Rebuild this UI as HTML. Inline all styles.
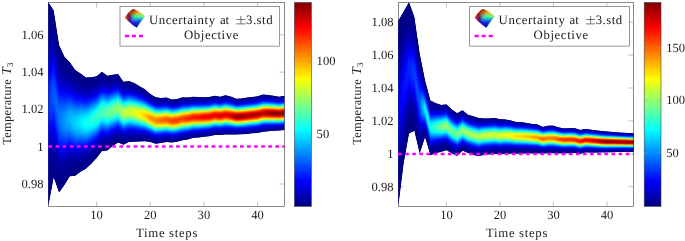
<!DOCTYPE html><html><head><meta charset="utf-8"><style>html,body{margin:0;padding:0;background:#fff}svg{display:block;will-change:transform}</style></head><body><svg width="685" height="241" viewBox="0 0 685 241" font-family="'Liberation Serif',serif" font-size="12.6" fill="#1a1a1a" text-rendering="geometricPrecision"><defs><linearGradient id="g23" x1="0" y1=".5" x2="0" y2="1" spreadMethod="reflect"><stop offset="0" stop-color="#0000f5"/><stop offset="0.0769" stop-color="#0000f2"/><stop offset="0.154" stop-color="#0000e9"/><stop offset="0.231" stop-color="#0000dc"/><stop offset="0.308" stop-color="#0000cc"/><stop offset="0.385" stop-color="#0000bc"/><stop offset="0.462" stop-color="#0000ad"/><stop offset="0.538" stop-color="#0000a0"/><stop offset="0.615" stop-color="#000095"/><stop offset="0.692" stop-color="#00008e"/><stop offset="0.769" stop-color="#000088"/><stop offset="0.846" stop-color="#000085"/><stop offset="0.923" stop-color="#000083"/><stop offset="1" stop-color="#000081"/></linearGradient><linearGradient id="g24" x1="0" y1=".5" x2="0" y2="1" spreadMethod="reflect"><stop offset="0" stop-color="#0000fa"/><stop offset="0.0769" stop-color="#0000f7"/><stop offset="0.154" stop-color="#0000ee"/><stop offset="0.231" stop-color="#0000e0"/><stop offset="0.308" stop-color="#0000d0"/><stop offset="0.385" stop-color="#0000bf"/><stop offset="0.462" stop-color="#0000af"/><stop offset="0.538" stop-color="#0000a1"/><stop offset="0.615" stop-color="#000096"/><stop offset="0.692" stop-color="#00008e"/><stop offset="0.769" stop-color="#000089"/><stop offset="0.846" stop-color="#000085"/><stop offset="0.923" stop-color="#000083"/><stop offset="1" stop-color="#000081"/></linearGradient><linearGradient id="g25" x1="0" y1=".5" x2="0" y2="1" spreadMethod="reflect"><stop offset="0" stop-color="#0000ff"/><stop offset="0.0769" stop-color="#0000fc"/><stop offset="0.154" stop-color="#0000f2"/><stop offset="0.231" stop-color="#0000e4"/><stop offset="0.308" stop-color="#0000d3"/><stop offset="0.385" stop-color="#0000c1"/><stop offset="0.462" stop-color="#0000b1"/><stop offset="0.538" stop-color="#0000a2"/><stop offset="0.615" stop-color="#000097"/><stop offset="0.692" stop-color="#00008f"/><stop offset="0.769" stop-color="#000089"/><stop offset="0.846" stop-color="#000085"/><stop offset="0.923" stop-color="#000083"/><stop offset="1" stop-color="#000081"/></linearGradient><linearGradient id="g26" x1="0" y1=".5" x2="0" y2="1" spreadMethod="reflect"><stop offset="0" stop-color="#0005ff"/><stop offset="0.0769" stop-color="#0002ff"/><stop offset="0.154" stop-color="#0000f7"/><stop offset="0.231" stop-color="#0000e8"/><stop offset="0.308" stop-color="#0000d6"/><stop offset="0.385" stop-color="#0000c4"/><stop offset="0.462" stop-color="#0000b3"/><stop offset="0.538" stop-color="#0000a4"/><stop offset="0.615" stop-color="#000098"/><stop offset="0.692" stop-color="#00008f"/><stop offset="0.769" stop-color="#000089"/><stop offset="0.846" stop-color="#000085"/><stop offset="0.923" stop-color="#000083"/><stop offset="1" stop-color="#000081"/></linearGradient><linearGradient id="g27" x1="0" y1=".5" x2="0" y2="1" spreadMethod="reflect"><stop offset="0" stop-color="#000aff"/><stop offset="0.0769" stop-color="#0007ff"/><stop offset="0.154" stop-color="#0000fb"/><stop offset="0.231" stop-color="#0000ec"/><stop offset="0.308" stop-color="#0000da"/><stop offset="0.385" stop-color="#0000c6"/><stop offset="0.462" stop-color="#0000b5"/><stop offset="0.538" stop-color="#0000a5"/><stop offset="0.615" stop-color="#000099"/><stop offset="0.692" stop-color="#000090"/><stop offset="0.769" stop-color="#00008a"/><stop offset="0.846" stop-color="#000085"/><stop offset="0.923" stop-color="#000083"/><stop offset="1" stop-color="#000082"/></linearGradient><linearGradient id="g28" x1="0" y1=".5" x2="0" y2="1" spreadMethod="reflect"><stop offset="0" stop-color="#000fff"/><stop offset="0.0769" stop-color="#000cff"/><stop offset="0.154" stop-color="#0001ff"/><stop offset="0.231" stop-color="#0000f0"/><stop offset="0.308" stop-color="#0000dd"/><stop offset="0.385" stop-color="#0000c9"/><stop offset="0.462" stop-color="#0000b7"/><stop offset="0.538" stop-color="#0000a7"/><stop offset="0.615" stop-color="#00009a"/><stop offset="0.692" stop-color="#000090"/><stop offset="0.769" stop-color="#00008a"/><stop offset="0.846" stop-color="#000086"/><stop offset="0.923" stop-color="#000083"/><stop offset="1" stop-color="#000082"/></linearGradient><linearGradient id="g29" x1="0" y1=".5" x2="0" y2="1" spreadMethod="reflect"><stop offset="0" stop-color="#0014ff"/><stop offset="0.0769" stop-color="#0011ff"/><stop offset="0.154" stop-color="#0005ff"/><stop offset="0.231" stop-color="#0000f4"/><stop offset="0.308" stop-color="#0000e0"/><stop offset="0.385" stop-color="#0000cc"/><stop offset="0.462" stop-color="#0000b8"/><stop offset="0.538" stop-color="#0000a8"/><stop offset="0.615" stop-color="#00009b"/><stop offset="0.692" stop-color="#000091"/><stop offset="0.769" stop-color="#00008a"/><stop offset="0.846" stop-color="#000086"/><stop offset="0.923" stop-color="#000083"/><stop offset="1" stop-color="#000082"/></linearGradient><linearGradient id="g30" x1="0" y1=".5" x2="0" y2="1" spreadMethod="reflect"><stop offset="0" stop-color="#0019ff"/><stop offset="0.0769" stop-color="#0015ff"/><stop offset="0.154" stop-color="#000aff"/><stop offset="0.231" stop-color="#0000f8"/><stop offset="0.308" stop-color="#0000e4"/><stop offset="0.385" stop-color="#0000ce"/><stop offset="0.462" stop-color="#0000ba"/><stop offset="0.538" stop-color="#0000a9"/><stop offset="0.615" stop-color="#00009c"/><stop offset="0.692" stop-color="#000092"/><stop offset="0.769" stop-color="#00008b"/><stop offset="0.846" stop-color="#000086"/><stop offset="0.923" stop-color="#000083"/><stop offset="1" stop-color="#000082"/></linearGradient><linearGradient id="g31" x1="0" y1=".5" x2="0" y2="1" spreadMethod="reflect"><stop offset="0" stop-color="#001fff"/><stop offset="0.0769" stop-color="#001aff"/><stop offset="0.154" stop-color="#000fff"/><stop offset="0.231" stop-color="#0000fc"/><stop offset="0.308" stop-color="#0000e7"/><stop offset="0.385" stop-color="#0000d1"/><stop offset="0.462" stop-color="#0000bc"/><stop offset="0.538" stop-color="#0000ab"/><stop offset="0.615" stop-color="#00009d"/><stop offset="0.692" stop-color="#000092"/><stop offset="0.769" stop-color="#00008b"/><stop offset="0.846" stop-color="#000086"/><stop offset="0.923" stop-color="#000083"/><stop offset="1" stop-color="#000082"/></linearGradient><linearGradient id="g32" x1="0" y1=".5" x2="0" y2="1" spreadMethod="reflect"><stop offset="0" stop-color="#0024ff"/><stop offset="0.0769" stop-color="#001fff"/><stop offset="0.154" stop-color="#0013ff"/><stop offset="0.231" stop-color="#0001ff"/><stop offset="0.308" stop-color="#0000ea"/><stop offset="0.385" stop-color="#0000d4"/><stop offset="0.462" stop-color="#0000be"/><stop offset="0.538" stop-color="#0000ac"/><stop offset="0.615" stop-color="#00009e"/><stop offset="0.692" stop-color="#000093"/><stop offset="0.769" stop-color="#00008b"/><stop offset="0.846" stop-color="#000086"/><stop offset="0.923" stop-color="#000084"/><stop offset="1" stop-color="#000082"/></linearGradient><linearGradient id="g33" x1="0" y1=".5" x2="0" y2="1" spreadMethod="reflect"><stop offset="0" stop-color="#0029ff"/><stop offset="0.0769" stop-color="#0024ff"/><stop offset="0.154" stop-color="#0018ff"/><stop offset="0.231" stop-color="#0005ff"/><stop offset="0.308" stop-color="#0000ed"/><stop offset="0.385" stop-color="#0000d6"/><stop offset="0.462" stop-color="#0000c0"/><stop offset="0.538" stop-color="#0000ad"/><stop offset="0.615" stop-color="#00009e"/><stop offset="0.692" stop-color="#000093"/><stop offset="0.769" stop-color="#00008c"/><stop offset="0.846" stop-color="#000087"/><stop offset="0.923" stop-color="#000084"/><stop offset="1" stop-color="#000082"/></linearGradient><linearGradient id="g34" x1="0" y1=".5" x2="0" y2="1" spreadMethod="reflect"><stop offset="0" stop-color="#002eff"/><stop offset="0.0769" stop-color="#0029ff"/><stop offset="0.154" stop-color="#001cff"/><stop offset="0.231" stop-color="#0009ff"/><stop offset="0.308" stop-color="#0000f1"/><stop offset="0.385" stop-color="#0000d9"/><stop offset="0.462" stop-color="#0000c2"/><stop offset="0.538" stop-color="#0000af"/><stop offset="0.615" stop-color="#00009f"/><stop offset="0.692" stop-color="#000094"/><stop offset="0.769" stop-color="#00008c"/><stop offset="0.846" stop-color="#000087"/><stop offset="0.923" stop-color="#000084"/><stop offset="1" stop-color="#000082"/></linearGradient><linearGradient id="g35" x1="0" y1=".5" x2="0" y2="1" spreadMethod="reflect"><stop offset="0" stop-color="#0033ff"/><stop offset="0.0769" stop-color="#002eff"/><stop offset="0.154" stop-color="#0021ff"/><stop offset="0.231" stop-color="#000dff"/><stop offset="0.308" stop-color="#0000f4"/><stop offset="0.385" stop-color="#0000db"/><stop offset="0.462" stop-color="#0000c4"/><stop offset="0.538" stop-color="#0000b0"/><stop offset="0.615" stop-color="#0000a0"/><stop offset="0.692" stop-color="#000095"/><stop offset="0.769" stop-color="#00008c"/><stop offset="0.846" stop-color="#000087"/><stop offset="0.923" stop-color="#000084"/><stop offset="1" stop-color="#000082"/></linearGradient><linearGradient id="g36" x1="0" y1=".5" x2="0" y2="1" spreadMethod="reflect"><stop offset="0" stop-color="#0038ff"/><stop offset="0.0769" stop-color="#0033ff"/><stop offset="0.154" stop-color="#0026ff"/><stop offset="0.231" stop-color="#0011ff"/><stop offset="0.308" stop-color="#0000f7"/><stop offset="0.385" stop-color="#0000de"/><stop offset="0.462" stop-color="#0000c6"/><stop offset="0.538" stop-color="#0000b2"/><stop offset="0.615" stop-color="#0000a1"/><stop offset="0.692" stop-color="#000095"/><stop offset="0.769" stop-color="#00008d"/><stop offset="0.846" stop-color="#000087"/><stop offset="0.923" stop-color="#000084"/><stop offset="1" stop-color="#000082"/></linearGradient><linearGradient id="g37" x1="0" y1=".5" x2="0" y2="1" spreadMethod="reflect"><stop offset="0" stop-color="#003dff"/><stop offset="0.0769" stop-color="#0038ff"/><stop offset="0.154" stop-color="#002aff"/><stop offset="0.231" stop-color="#0015ff"/><stop offset="0.308" stop-color="#0000fb"/><stop offset="0.385" stop-color="#0000e1"/><stop offset="0.462" stop-color="#0000c8"/><stop offset="0.538" stop-color="#0000b3"/><stop offset="0.615" stop-color="#0000a2"/><stop offset="0.692" stop-color="#000096"/><stop offset="0.769" stop-color="#00008d"/><stop offset="0.846" stop-color="#000087"/><stop offset="0.923" stop-color="#000084"/><stop offset="1" stop-color="#000082"/></linearGradient><linearGradient id="g38" x1="0" y1=".5" x2="0" y2="1" spreadMethod="reflect"><stop offset="0" stop-color="#0042ff"/><stop offset="0.0769" stop-color="#003dff"/><stop offset="0.154" stop-color="#002fff"/><stop offset="0.231" stop-color="#0019ff"/><stop offset="0.308" stop-color="#0000fe"/><stop offset="0.385" stop-color="#0000e3"/><stop offset="0.462" stop-color="#0000ca"/><stop offset="0.538" stop-color="#0000b4"/><stop offset="0.615" stop-color="#0000a3"/><stop offset="0.692" stop-color="#000096"/><stop offset="0.769" stop-color="#00008d"/><stop offset="0.846" stop-color="#000088"/><stop offset="0.923" stop-color="#000084"/><stop offset="1" stop-color="#000082"/></linearGradient><linearGradient id="g39" x1="0" y1=".5" x2="0" y2="1" spreadMethod="reflect"><stop offset="0" stop-color="#0047ff"/><stop offset="0.0769" stop-color="#0042ff"/><stop offset="0.154" stop-color="#0033ff"/><stop offset="0.231" stop-color="#001dff"/><stop offset="0.308" stop-color="#0002ff"/><stop offset="0.385" stop-color="#0000e6"/><stop offset="0.462" stop-color="#0000cc"/><stop offset="0.538" stop-color="#0000b6"/><stop offset="0.615" stop-color="#0000a4"/><stop offset="0.692" stop-color="#000097"/><stop offset="0.769" stop-color="#00008e"/><stop offset="0.846" stop-color="#000088"/><stop offset="0.923" stop-color="#000084"/><stop offset="1" stop-color="#000082"/></linearGradient><linearGradient id="g40" x1="0" y1=".5" x2="0" y2="1" spreadMethod="reflect"><stop offset="0" stop-color="#004dff"/><stop offset="0.0769" stop-color="#0047ff"/><stop offset="0.154" stop-color="#0038ff"/><stop offset="0.231" stop-color="#0021ff"/><stop offset="0.308" stop-color="#0006ff"/><stop offset="0.385" stop-color="#0000e8"/><stop offset="0.462" stop-color="#0000ce"/><stop offset="0.538" stop-color="#0000b7"/><stop offset="0.615" stop-color="#0000a5"/><stop offset="0.692" stop-color="#000098"/><stop offset="0.769" stop-color="#00008e"/><stop offset="0.846" stop-color="#000088"/><stop offset="0.923" stop-color="#000084"/><stop offset="1" stop-color="#000082"/></linearGradient><linearGradient id="g41" x1="0" y1=".5" x2="0" y2="1" spreadMethod="reflect"><stop offset="0" stop-color="#0052ff"/><stop offset="0.0769" stop-color="#004cff"/><stop offset="0.154" stop-color="#003cff"/><stop offset="0.231" stop-color="#0025ff"/><stop offset="0.308" stop-color="#0009ff"/><stop offset="0.385" stop-color="#0000eb"/><stop offset="0.462" stop-color="#0000d0"/><stop offset="0.538" stop-color="#0000b8"/><stop offset="0.615" stop-color="#0000a6"/><stop offset="0.692" stop-color="#000098"/><stop offset="0.769" stop-color="#00008f"/><stop offset="0.846" stop-color="#000088"/><stop offset="0.923" stop-color="#000085"/><stop offset="1" stop-color="#000082"/></linearGradient><linearGradient id="g42" x1="0" y1=".5" x2="0" y2="1" spreadMethod="reflect"><stop offset="0" stop-color="#0057ff"/><stop offset="0.0769" stop-color="#0051ff"/><stop offset="0.154" stop-color="#0041ff"/><stop offset="0.231" stop-color="#0029ff"/><stop offset="0.308" stop-color="#000cff"/><stop offset="0.385" stop-color="#0000ee"/><stop offset="0.462" stop-color="#0000d2"/><stop offset="0.538" stop-color="#0000ba"/><stop offset="0.615" stop-color="#0000a7"/><stop offset="0.692" stop-color="#000099"/><stop offset="0.769" stop-color="#00008f"/><stop offset="0.846" stop-color="#000089"/><stop offset="0.923" stop-color="#000085"/><stop offset="1" stop-color="#000082"/></linearGradient><linearGradient id="g43" x1="0" y1=".5" x2="0" y2="1" spreadMethod="reflect"><stop offset="0" stop-color="#005cff"/><stop offset="0.0769" stop-color="#0056ff"/><stop offset="0.154" stop-color="#0046ff"/><stop offset="0.231" stop-color="#002dff"/><stop offset="0.308" stop-color="#0010ff"/><stop offset="0.385" stop-color="#0000f0"/><stop offset="0.462" stop-color="#0000d4"/><stop offset="0.538" stop-color="#0000bb"/><stop offset="0.615" stop-color="#0000a8"/><stop offset="0.692" stop-color="#000099"/><stop offset="0.769" stop-color="#00008f"/><stop offset="0.846" stop-color="#000089"/><stop offset="0.923" stop-color="#000085"/><stop offset="1" stop-color="#000082"/></linearGradient><linearGradient id="g44" x1="0" y1=".5" x2="0" y2="1" spreadMethod="reflect"><stop offset="0" stop-color="#0061ff"/><stop offset="0.0769" stop-color="#005bff"/><stop offset="0.154" stop-color="#004aff"/><stop offset="0.231" stop-color="#0031ff"/><stop offset="0.308" stop-color="#0013ff"/><stop offset="0.385" stop-color="#0000f3"/><stop offset="0.462" stop-color="#0000d6"/><stop offset="0.538" stop-color="#0000bd"/><stop offset="0.615" stop-color="#0000a9"/><stop offset="0.692" stop-color="#00009a"/><stop offset="0.769" stop-color="#000090"/><stop offset="0.846" stop-color="#000089"/><stop offset="0.923" stop-color="#000085"/><stop offset="1" stop-color="#000082"/></linearGradient><linearGradient id="g45" x1="0" y1=".5" x2="0" y2="1" spreadMethod="reflect"><stop offset="0" stop-color="#0066ff"/><stop offset="0.0769" stop-color="#0060ff"/><stop offset="0.154" stop-color="#004fff"/><stop offset="0.231" stop-color="#0035ff"/><stop offset="0.308" stop-color="#0016ff"/><stop offset="0.385" stop-color="#0000f5"/><stop offset="0.462" stop-color="#0000d8"/><stop offset="0.538" stop-color="#0000be"/><stop offset="0.615" stop-color="#0000aa"/><stop offset="0.692" stop-color="#00009a"/><stop offset="0.769" stop-color="#000090"/><stop offset="0.846" stop-color="#000089"/><stop offset="0.923" stop-color="#000085"/><stop offset="1" stop-color="#000083"/></linearGradient><linearGradient id="g46" x1="0" y1=".5" x2="0" y2="1" spreadMethod="reflect"><stop offset="0" stop-color="#006bff"/><stop offset="0.0769" stop-color="#0065ff"/><stop offset="0.154" stop-color="#0053ff"/><stop offset="0.231" stop-color="#0039ff"/><stop offset="0.308" stop-color="#001aff"/><stop offset="0.385" stop-color="#0000f8"/><stop offset="0.462" stop-color="#0000da"/><stop offset="0.538" stop-color="#0000bf"/><stop offset="0.615" stop-color="#0000ab"/><stop offset="0.692" stop-color="#00009b"/><stop offset="0.769" stop-color="#000090"/><stop offset="0.846" stop-color="#000089"/><stop offset="0.923" stop-color="#000085"/><stop offset="1" stop-color="#000083"/></linearGradient><linearGradient id="g47" x1="0" y1=".5" x2="0" y2="1" spreadMethod="reflect"><stop offset="0" stop-color="#0070ff"/><stop offset="0.0769" stop-color="#006aff"/><stop offset="0.154" stop-color="#0058ff"/><stop offset="0.231" stop-color="#003dff"/><stop offset="0.308" stop-color="#001dff"/><stop offset="0.385" stop-color="#0000fb"/><stop offset="0.462" stop-color="#0000dc"/><stop offset="0.538" stop-color="#0000c1"/><stop offset="0.615" stop-color="#0000ab"/><stop offset="0.692" stop-color="#00009c"/><stop offset="0.769" stop-color="#000091"/><stop offset="0.846" stop-color="#00008a"/><stop offset="0.923" stop-color="#000085"/><stop offset="1" stop-color="#000083"/></linearGradient><linearGradient id="g48" x1="0" y1=".5" x2="0" y2="1" spreadMethod="reflect"><stop offset="0" stop-color="#0075ff"/><stop offset="0.0769" stop-color="#006fff"/><stop offset="0.154" stop-color="#005dff"/><stop offset="0.231" stop-color="#0041ff"/><stop offset="0.308" stop-color="#0020ff"/><stop offset="0.385" stop-color="#0000fd"/><stop offset="0.462" stop-color="#0000dd"/><stop offset="0.538" stop-color="#0000c2"/><stop offset="0.615" stop-color="#0000ac"/><stop offset="0.692" stop-color="#00009c"/><stop offset="0.769" stop-color="#000091"/><stop offset="0.846" stop-color="#00008a"/><stop offset="0.923" stop-color="#000085"/><stop offset="1" stop-color="#000083"/></linearGradient><linearGradient id="g50" x1="0" y1=".5" x2="0" y2="1" spreadMethod="reflect"><stop offset="0" stop-color="#0080ff"/><stop offset="0.0769" stop-color="#0079ff"/><stop offset="0.154" stop-color="#0066ff"/><stop offset="0.231" stop-color="#0049ff"/><stop offset="0.308" stop-color="#0027ff"/><stop offset="0.385" stop-color="#0004ff"/><stop offset="0.462" stop-color="#0000e1"/><stop offset="0.538" stop-color="#0000c5"/><stop offset="0.615" stop-color="#0000ae"/><stop offset="0.692" stop-color="#00009d"/><stop offset="0.769" stop-color="#000092"/><stop offset="0.846" stop-color="#00008a"/><stop offset="0.923" stop-color="#000085"/><stop offset="1" stop-color="#000083"/></linearGradient><linearGradient id="g51" x1="0" y1=".5" x2="0" y2="1" spreadMethod="reflect"><stop offset="0" stop-color="#0085ff"/><stop offset="0.0769" stop-color="#007eff"/><stop offset="0.154" stop-color="#006aff"/><stop offset="0.231" stop-color="#004dff"/><stop offset="0.308" stop-color="#002aff"/><stop offset="0.385" stop-color="#0006ff"/><stop offset="0.462" stop-color="#0000e3"/><stop offset="0.538" stop-color="#0000c6"/><stop offset="0.615" stop-color="#0000af"/><stop offset="0.692" stop-color="#00009e"/><stop offset="0.769" stop-color="#000092"/><stop offset="0.846" stop-color="#00008a"/><stop offset="0.923" stop-color="#000086"/><stop offset="1" stop-color="#000083"/></linearGradient><linearGradient id="g52" x1="0" y1=".5" x2="0" y2="1" spreadMethod="reflect"><stop offset="0" stop-color="#008aff"/><stop offset="0.0769" stop-color="#0083ff"/><stop offset="0.154" stop-color="#006fff"/><stop offset="0.231" stop-color="#0051ff"/><stop offset="0.308" stop-color="#002eff"/><stop offset="0.385" stop-color="#0009ff"/><stop offset="0.462" stop-color="#0000e5"/><stop offset="0.538" stop-color="#0000c8"/><stop offset="0.615" stop-color="#0000b0"/><stop offset="0.692" stop-color="#00009f"/><stop offset="0.769" stop-color="#000092"/><stop offset="0.846" stop-color="#00008b"/><stop offset="0.923" stop-color="#000086"/><stop offset="1" stop-color="#000083"/></linearGradient><linearGradient id="g53" x1="0" y1=".5" x2="0" y2="1" spreadMethod="reflect"><stop offset="0" stop-color="#008fff"/><stop offset="0.0769" stop-color="#0088ff"/><stop offset="0.154" stop-color="#0073ff"/><stop offset="0.231" stop-color="#0055ff"/><stop offset="0.308" stop-color="#0031ff"/><stop offset="0.385" stop-color="#000bff"/><stop offset="0.462" stop-color="#0000e7"/><stop offset="0.538" stop-color="#0000c9"/><stop offset="0.615" stop-color="#0000b1"/><stop offset="0.692" stop-color="#00009f"/><stop offset="0.769" stop-color="#000093"/><stop offset="0.846" stop-color="#00008b"/><stop offset="0.923" stop-color="#000086"/><stop offset="1" stop-color="#000083"/></linearGradient><linearGradient id="g54" x1="0" y1=".5" x2="0" y2="1" spreadMethod="reflect"><stop offset="0" stop-color="#0094ff"/><stop offset="0.0769" stop-color="#008dff"/><stop offset="0.154" stop-color="#0078ff"/><stop offset="0.231" stop-color="#0059ff"/><stop offset="0.308" stop-color="#0034ff"/><stop offset="0.385" stop-color="#000eff"/><stop offset="0.462" stop-color="#0000e9"/><stop offset="0.538" stop-color="#0000ca"/><stop offset="0.615" stop-color="#0000b2"/><stop offset="0.692" stop-color="#0000a0"/><stop offset="0.769" stop-color="#000093"/><stop offset="0.846" stop-color="#00008b"/><stop offset="0.923" stop-color="#000086"/><stop offset="1" stop-color="#000083"/></linearGradient><linearGradient id="g55" x1="0" y1=".5" x2="0" y2="1" spreadMethod="reflect"><stop offset="0" stop-color="#0099ff"/><stop offset="0.0769" stop-color="#0092ff"/><stop offset="0.154" stop-color="#007dff"/><stop offset="0.231" stop-color="#005dff"/><stop offset="0.308" stop-color="#0038ff"/><stop offset="0.385" stop-color="#0011ff"/><stop offset="0.462" stop-color="#0000eb"/><stop offset="0.538" stop-color="#0000cc"/><stop offset="0.615" stop-color="#0000b3"/><stop offset="0.692" stop-color="#0000a0"/><stop offset="0.769" stop-color="#000093"/><stop offset="0.846" stop-color="#00008b"/><stop offset="0.923" stop-color="#000086"/><stop offset="1" stop-color="#000083"/></linearGradient><linearGradient id="g56" x1="0" y1=".5" x2="0" y2="1" spreadMethod="reflect"><stop offset="0" stop-color="#009eff"/><stop offset="0.0769" stop-color="#0097ff"/><stop offset="0.154" stop-color="#0081ff"/><stop offset="0.231" stop-color="#0061ff"/><stop offset="0.308" stop-color="#003bff"/><stop offset="0.385" stop-color="#0013ff"/><stop offset="0.462" stop-color="#0000ed"/><stop offset="0.538" stop-color="#0000cd"/><stop offset="0.615" stop-color="#0000b4"/><stop offset="0.692" stop-color="#0000a1"/><stop offset="0.769" stop-color="#000094"/><stop offset="0.846" stop-color="#00008b"/><stop offset="0.923" stop-color="#000086"/><stop offset="1" stop-color="#000083"/></linearGradient><linearGradient id="g58" x1="0" y1=".5" x2="0" y2="1" spreadMethod="reflect"><stop offset="0" stop-color="#00a8ff"/><stop offset="0.0769" stop-color="#00a1ff"/><stop offset="0.154" stop-color="#008aff"/><stop offset="0.231" stop-color="#0069ff"/><stop offset="0.308" stop-color="#0042ff"/><stop offset="0.385" stop-color="#0019ff"/><stop offset="0.462" stop-color="#0000f1"/><stop offset="0.538" stop-color="#0000d0"/><stop offset="0.615" stop-color="#0000b6"/><stop offset="0.692" stop-color="#0000a2"/><stop offset="0.769" stop-color="#000095"/><stop offset="0.846" stop-color="#00008c"/><stop offset="0.923" stop-color="#000086"/><stop offset="1" stop-color="#000083"/></linearGradient><linearGradient id="g59" x1="0" y1=".5" x2="0" y2="1" spreadMethod="reflect"><stop offset="0" stop-color="#00adff"/><stop offset="0.0769" stop-color="#00a5ff"/><stop offset="0.154" stop-color="#008fff"/><stop offset="0.231" stop-color="#006dff"/><stop offset="0.308" stop-color="#0045ff"/><stop offset="0.385" stop-color="#001bff"/><stop offset="0.462" stop-color="#0000f3"/><stop offset="0.538" stop-color="#0000d1"/><stop offset="0.615" stop-color="#0000b7"/><stop offset="0.692" stop-color="#0000a3"/><stop offset="0.769" stop-color="#000095"/><stop offset="0.846" stop-color="#00008c"/><stop offset="0.923" stop-color="#000086"/><stop offset="1" stop-color="#000083"/></linearGradient><linearGradient id="g60" x1="0" y1=".5" x2="0" y2="1" spreadMethod="reflect"><stop offset="0" stop-color="#00b2ff"/><stop offset="0.0769" stop-color="#00aaff"/><stop offset="0.154" stop-color="#0094ff"/><stop offset="0.231" stop-color="#0071ff"/><stop offset="0.308" stop-color="#0048ff"/><stop offset="0.385" stop-color="#001eff"/><stop offset="0.462" stop-color="#0000f5"/><stop offset="0.538" stop-color="#0000d3"/><stop offset="0.615" stop-color="#0000b7"/><stop offset="0.692" stop-color="#0000a3"/><stop offset="0.769" stop-color="#000095"/><stop offset="0.846" stop-color="#00008c"/><stop offset="0.923" stop-color="#000087"/><stop offset="1" stop-color="#000083"/></linearGradient><linearGradient id="g61" x1="0" y1=".5" x2="0" y2="1" spreadMethod="reflect"><stop offset="0" stop-color="#00b8ff"/><stop offset="0.0769" stop-color="#00afff"/><stop offset="0.154" stop-color="#0098ff"/><stop offset="0.231" stop-color="#0075ff"/><stop offset="0.308" stop-color="#004cff"/><stop offset="0.385" stop-color="#0020ff"/><stop offset="0.462" stop-color="#0000f7"/><stop offset="0.538" stop-color="#0000d4"/><stop offset="0.615" stop-color="#0000b8"/><stop offset="0.692" stop-color="#0000a4"/><stop offset="0.769" stop-color="#000096"/><stop offset="0.846" stop-color="#00008c"/><stop offset="0.923" stop-color="#000087"/><stop offset="1" stop-color="#000083"/></linearGradient><linearGradient id="g62" x1="0" y1=".5" x2="0" y2="1" spreadMethod="reflect"><stop offset="0" stop-color="#00bdff"/><stop offset="0.0769" stop-color="#00b4ff"/><stop offset="0.154" stop-color="#009dff"/><stop offset="0.231" stop-color="#0079ff"/><stop offset="0.308" stop-color="#004fff"/><stop offset="0.385" stop-color="#0023ff"/><stop offset="0.462" stop-color="#0000f9"/><stop offset="0.538" stop-color="#0000d5"/><stop offset="0.615" stop-color="#0000b9"/><stop offset="0.692" stop-color="#0000a4"/><stop offset="0.769" stop-color="#000096"/><stop offset="0.846" stop-color="#00008d"/><stop offset="0.923" stop-color="#000087"/><stop offset="1" stop-color="#000083"/></linearGradient><linearGradient id="g63" x1="0" y1=".5" x2="0" y2="1" spreadMethod="reflect"><stop offset="0" stop-color="#00c2ff"/><stop offset="0.0769" stop-color="#00b9ff"/><stop offset="0.154" stop-color="#00a1ff"/><stop offset="0.231" stop-color="#007dff"/><stop offset="0.308" stop-color="#0052ff"/><stop offset="0.385" stop-color="#0026ff"/><stop offset="0.462" stop-color="#0000fb"/><stop offset="0.538" stop-color="#0000d7"/><stop offset="0.615" stop-color="#0000ba"/><stop offset="0.692" stop-color="#0000a5"/><stop offset="0.769" stop-color="#000096"/><stop offset="0.846" stop-color="#00008d"/><stop offset="0.923" stop-color="#000087"/><stop offset="1" stop-color="#000084"/></linearGradient><linearGradient id="g64" x1="0" y1=".5" x2="0" y2="1" spreadMethod="reflect"><stop offset="0" stop-color="#00c7ff"/><stop offset="0.0769" stop-color="#00beff"/><stop offset="0.154" stop-color="#00a6ff"/><stop offset="0.231" stop-color="#0081ff"/><stop offset="0.308" stop-color="#0056ff"/><stop offset="0.385" stop-color="#0028ff"/><stop offset="0.462" stop-color="#0000fd"/><stop offset="0.538" stop-color="#0000d8"/><stop offset="0.615" stop-color="#0000bb"/><stop offset="0.692" stop-color="#0000a6"/><stop offset="0.769" stop-color="#000097"/><stop offset="0.846" stop-color="#00008d"/><stop offset="0.923" stop-color="#000087"/><stop offset="1" stop-color="#000084"/></linearGradient><linearGradient id="g65" x1="0" y1=".5" x2="0" y2="1" spreadMethod="reflect"><stop offset="0" stop-color="#00ccff"/><stop offset="0.0769" stop-color="#00c3ff"/><stop offset="0.154" stop-color="#00abff"/><stop offset="0.231" stop-color="#0085ff"/><stop offset="0.308" stop-color="#0059ff"/><stop offset="0.385" stop-color="#002bff"/><stop offset="0.462" stop-color="#0000ff"/><stop offset="0.538" stop-color="#0000da"/><stop offset="0.615" stop-color="#0000bc"/><stop offset="0.692" stop-color="#0000a6"/><stop offset="0.769" stop-color="#000097"/><stop offset="0.846" stop-color="#00008d"/><stop offset="0.923" stop-color="#000087"/><stop offset="1" stop-color="#000084"/></linearGradient><linearGradient id="g66" x1="0" y1=".5" x2="0" y2="1" spreadMethod="reflect"><stop offset="0" stop-color="#00d1ff"/><stop offset="0.0769" stop-color="#00c8ff"/><stop offset="0.154" stop-color="#00afff"/><stop offset="0.231" stop-color="#0089ff"/><stop offset="0.308" stop-color="#005cff"/><stop offset="0.385" stop-color="#002dff"/><stop offset="0.462" stop-color="#0002ff"/><stop offset="0.538" stop-color="#0000db"/><stop offset="0.615" stop-color="#0000bd"/><stop offset="0.692" stop-color="#0000a7"/><stop offset="0.769" stop-color="#000097"/><stop offset="0.846" stop-color="#00008d"/><stop offset="0.923" stop-color="#000087"/><stop offset="1" stop-color="#000084"/></linearGradient><linearGradient id="g67" x1="0" y1=".5" x2="0" y2="1" spreadMethod="reflect"><stop offset="0" stop-color="#00d6ff"/><stop offset="0.0769" stop-color="#00cdff"/><stop offset="0.154" stop-color="#00b4ff"/><stop offset="0.231" stop-color="#008dff"/><stop offset="0.308" stop-color="#0060ff"/><stop offset="0.385" stop-color="#0030ff"/><stop offset="0.462" stop-color="#0004ff"/><stop offset="0.538" stop-color="#0000dc"/><stop offset="0.615" stop-color="#0000be"/><stop offset="0.692" stop-color="#0000a7"/><stop offset="0.769" stop-color="#000098"/><stop offset="0.846" stop-color="#00008e"/><stop offset="0.923" stop-color="#000087"/><stop offset="1" stop-color="#000084"/></linearGradient><linearGradient id="g68" x1="0" y1=".5" x2="0" y2="1" spreadMethod="reflect"><stop offset="0" stop-color="#00dbff"/><stop offset="0.0769" stop-color="#00d2ff"/><stop offset="0.154" stop-color="#00b8ff"/><stop offset="0.231" stop-color="#0091ff"/><stop offset="0.308" stop-color="#0063ff"/><stop offset="0.385" stop-color="#0033ff"/><stop offset="0.462" stop-color="#0005ff"/><stop offset="0.538" stop-color="#0000de"/><stop offset="0.615" stop-color="#0000bf"/><stop offset="0.692" stop-color="#0000a8"/><stop offset="0.769" stop-color="#000098"/><stop offset="0.846" stop-color="#00008e"/><stop offset="0.923" stop-color="#000087"/><stop offset="1" stop-color="#000084"/></linearGradient><linearGradient id="g69" x1="0" y1=".5" x2="0" y2="1" spreadMethod="reflect"><stop offset="0" stop-color="#00e0ff"/><stop offset="0.0769" stop-color="#00d7ff"/><stop offset="0.154" stop-color="#00bdff"/><stop offset="0.231" stop-color="#0095ff"/><stop offset="0.308" stop-color="#0066ff"/><stop offset="0.385" stop-color="#0035ff"/><stop offset="0.462" stop-color="#0007ff"/><stop offset="0.538" stop-color="#0000df"/><stop offset="0.615" stop-color="#0000c0"/><stop offset="0.692" stop-color="#0000a9"/><stop offset="0.769" stop-color="#000098"/><stop offset="0.846" stop-color="#00008e"/><stop offset="0.923" stop-color="#000088"/><stop offset="1" stop-color="#000084"/></linearGradient><linearGradient id="g70" x1="0" y1=".5" x2="0" y2="1" spreadMethod="reflect"><stop offset="0" stop-color="#00e5ff"/><stop offset="0.0769" stop-color="#00dcff"/><stop offset="0.154" stop-color="#00c1ff"/><stop offset="0.231" stop-color="#0099ff"/><stop offset="0.308" stop-color="#006aff"/><stop offset="0.385" stop-color="#0038ff"/><stop offset="0.462" stop-color="#0009ff"/><stop offset="0.538" stop-color="#0000e0"/><stop offset="0.615" stop-color="#0000c1"/><stop offset="0.692" stop-color="#0000a9"/><stop offset="0.769" stop-color="#000099"/><stop offset="0.846" stop-color="#00008e"/><stop offset="0.923" stop-color="#000088"/><stop offset="1" stop-color="#000084"/></linearGradient><linearGradient id="g71" x1="0" y1=".5" x2="0" y2="1" spreadMethod="reflect"><stop offset="0" stop-color="#00ebff"/><stop offset="0.0769" stop-color="#00e1ff"/><stop offset="0.154" stop-color="#00c6ff"/><stop offset="0.231" stop-color="#009dff"/><stop offset="0.308" stop-color="#006dff"/><stop offset="0.385" stop-color="#003bff"/><stop offset="0.462" stop-color="#000bff"/><stop offset="0.538" stop-color="#0000e2"/><stop offset="0.615" stop-color="#0000c2"/><stop offset="0.692" stop-color="#0000aa"/><stop offset="0.769" stop-color="#000099"/><stop offset="0.846" stop-color="#00008e"/><stop offset="0.923" stop-color="#000088"/><stop offset="1" stop-color="#000084"/></linearGradient><linearGradient id="g72" x1="0" y1=".5" x2="0" y2="1" spreadMethod="reflect"><stop offset="0" stop-color="#00f0ff"/><stop offset="0.0769" stop-color="#00e6ff"/><stop offset="0.154" stop-color="#00cbff"/><stop offset="0.231" stop-color="#00a1ff"/><stop offset="0.308" stop-color="#0070ff"/><stop offset="0.385" stop-color="#003dff"/><stop offset="0.462" stop-color="#000dff"/><stop offset="0.538" stop-color="#0000e3"/><stop offset="0.615" stop-color="#0000c3"/><stop offset="0.692" stop-color="#0000aa"/><stop offset="0.769" stop-color="#00009a"/><stop offset="0.846" stop-color="#00008f"/><stop offset="0.923" stop-color="#000088"/><stop offset="1" stop-color="#000084"/></linearGradient><linearGradient id="g73" x1="0" y1=".5" x2="0" y2="1" spreadMethod="reflect"><stop offset="0" stop-color="#00f5ff"/><stop offset="0.0769" stop-color="#00ebff"/><stop offset="0.154" stop-color="#00cfff"/><stop offset="0.231" stop-color="#00a5ff"/><stop offset="0.308" stop-color="#0074ff"/><stop offset="0.385" stop-color="#0040ff"/><stop offset="0.462" stop-color="#000fff"/><stop offset="0.538" stop-color="#0000e5"/><stop offset="0.615" stop-color="#0000c3"/><stop offset="0.692" stop-color="#0000ab"/><stop offset="0.769" stop-color="#00009a"/><stop offset="0.846" stop-color="#00008f"/><stop offset="0.923" stop-color="#000088"/><stop offset="1" stop-color="#000084"/></linearGradient><linearGradient id="g74" x1="0" y1=".5" x2="0" y2="1" spreadMethod="reflect"><stop offset="0" stop-color="#00faff"/><stop offset="0.0769" stop-color="#00f0ff"/><stop offset="0.154" stop-color="#00d4ff"/><stop offset="0.231" stop-color="#00a9ff"/><stop offset="0.308" stop-color="#0077ff"/><stop offset="0.385" stop-color="#0042ff"/><stop offset="0.462" stop-color="#0011ff"/><stop offset="0.538" stop-color="#0000e6"/><stop offset="0.615" stop-color="#0000c4"/><stop offset="0.692" stop-color="#0000ab"/><stop offset="0.769" stop-color="#00009a"/><stop offset="0.846" stop-color="#00008f"/><stop offset="0.923" stop-color="#000088"/><stop offset="1" stop-color="#000084"/></linearGradient><linearGradient id="g75" x1="0" y1=".5" x2="0" y2="1" spreadMethod="reflect"><stop offset="0" stop-color="#00ffff"/><stop offset="0.0769" stop-color="#00f5ff"/><stop offset="0.154" stop-color="#00d8ff"/><stop offset="0.231" stop-color="#00adff"/><stop offset="0.308" stop-color="#007aff"/><stop offset="0.385" stop-color="#0045ff"/><stop offset="0.462" stop-color="#0013ff"/><stop offset="0.538" stop-color="#0000e7"/><stop offset="0.615" stop-color="#0000c5"/><stop offset="0.692" stop-color="#0000ac"/><stop offset="0.769" stop-color="#00009b"/><stop offset="0.846" stop-color="#00008f"/><stop offset="0.923" stop-color="#000088"/><stop offset="1" stop-color="#000084"/></linearGradient><linearGradient id="g76" x1="0" y1=".5" x2="0" y2="1" spreadMethod="reflect"><stop offset="0" stop-color="#05fffa"/><stop offset="0.0769" stop-color="#00faff"/><stop offset="0.154" stop-color="#00ddff"/><stop offset="0.231" stop-color="#00b2ff"/><stop offset="0.308" stop-color="#007eff"/><stop offset="0.385" stop-color="#0048ff"/><stop offset="0.462" stop-color="#0015ff"/><stop offset="0.538" stop-color="#0000e9"/><stop offset="0.615" stop-color="#0000c6"/><stop offset="0.692" stop-color="#0000ad"/><stop offset="0.769" stop-color="#00009b"/><stop offset="0.846" stop-color="#00008f"/><stop offset="0.923" stop-color="#000088"/><stop offset="1" stop-color="#000084"/></linearGradient><linearGradient id="g77" x1="0" y1=".5" x2="0" y2="1" spreadMethod="reflect"><stop offset="0" stop-color="#0afff5"/><stop offset="0.0769" stop-color="#00ffff"/><stop offset="0.154" stop-color="#00e2ff"/><stop offset="0.231" stop-color="#00b6ff"/><stop offset="0.308" stop-color="#0081ff"/><stop offset="0.385" stop-color="#004aff"/><stop offset="0.462" stop-color="#0017ff"/><stop offset="0.538" stop-color="#0000ea"/><stop offset="0.615" stop-color="#0000c7"/><stop offset="0.692" stop-color="#0000ad"/><stop offset="0.769" stop-color="#00009b"/><stop offset="0.846" stop-color="#000090"/><stop offset="0.923" stop-color="#000088"/><stop offset="1" stop-color="#000084"/></linearGradient><linearGradient id="g78" x1="0" y1=".5" x2="0" y2="1" spreadMethod="reflect"><stop offset="0" stop-color="#0ffff0"/><stop offset="0.0769" stop-color="#05fffa"/><stop offset="0.154" stop-color="#00e6ff"/><stop offset="0.231" stop-color="#00baff"/><stop offset="0.308" stop-color="#0084ff"/><stop offset="0.385" stop-color="#004dff"/><stop offset="0.462" stop-color="#0019ff"/><stop offset="0.538" stop-color="#0000eb"/><stop offset="0.615" stop-color="#0000c8"/><stop offset="0.692" stop-color="#0000ae"/><stop offset="0.769" stop-color="#00009c"/><stop offset="0.846" stop-color="#000090"/><stop offset="0.923" stop-color="#000089"/><stop offset="1" stop-color="#000084"/></linearGradient><linearGradient id="g79" x1="0" y1=".5" x2="0" y2="1" spreadMethod="reflect"><stop offset="0" stop-color="#14ffeb"/><stop offset="0.0769" stop-color="#0afff5"/><stop offset="0.154" stop-color="#00ebff"/><stop offset="0.231" stop-color="#00beff"/><stop offset="0.308" stop-color="#0088ff"/><stop offset="0.385" stop-color="#0050ff"/><stop offset="0.462" stop-color="#001bff"/><stop offset="0.538" stop-color="#0000ed"/><stop offset="0.615" stop-color="#0000c9"/><stop offset="0.692" stop-color="#0000ae"/><stop offset="0.769" stop-color="#00009c"/><stop offset="0.846" stop-color="#000090"/><stop offset="0.923" stop-color="#000089"/><stop offset="1" stop-color="#000084"/></linearGradient><linearGradient id="g80" x1="0" y1=".5" x2="0" y2="1" spreadMethod="reflect"><stop offset="0" stop-color="#1affe5"/><stop offset="0.0769" stop-color="#0ffff0"/><stop offset="0.154" stop-color="#00efff"/><stop offset="0.231" stop-color="#00c2ff"/><stop offset="0.308" stop-color="#008bff"/><stop offset="0.385" stop-color="#0052ff"/><stop offset="0.462" stop-color="#001dff"/><stop offset="0.538" stop-color="#0000ee"/><stop offset="0.615" stop-color="#0000ca"/><stop offset="0.692" stop-color="#0000af"/><stop offset="0.769" stop-color="#00009c"/><stop offset="0.846" stop-color="#000090"/><stop offset="0.923" stop-color="#000089"/><stop offset="1" stop-color="#000085"/></linearGradient><linearGradient id="g81" x1="0" y1=".5" x2="0" y2="1" spreadMethod="reflect"><stop offset="0" stop-color="#1fffe0"/><stop offset="0.0769" stop-color="#14ffeb"/><stop offset="0.154" stop-color="#00f4ff"/><stop offset="0.231" stop-color="#00c6ff"/><stop offset="0.308" stop-color="#008eff"/><stop offset="0.385" stop-color="#0055ff"/><stop offset="0.462" stop-color="#001fff"/><stop offset="0.538" stop-color="#0000f0"/><stop offset="0.615" stop-color="#0000cb"/><stop offset="0.692" stop-color="#0000b0"/><stop offset="0.769" stop-color="#00009d"/><stop offset="0.846" stop-color="#000090"/><stop offset="0.923" stop-color="#000089"/><stop offset="1" stop-color="#000085"/></linearGradient><linearGradient id="g82" x1="0" y1=".5" x2="0" y2="1" spreadMethod="reflect"><stop offset="0" stop-color="#24ffdb"/><stop offset="0.0769" stop-color="#19ffe6"/><stop offset="0.154" stop-color="#00f8ff"/><stop offset="0.231" stop-color="#00caff"/><stop offset="0.308" stop-color="#0092ff"/><stop offset="0.385" stop-color="#0057ff"/><stop offset="0.462" stop-color="#0021ff"/><stop offset="0.538" stop-color="#0000f1"/><stop offset="0.615" stop-color="#0000cc"/><stop offset="0.692" stop-color="#0000b0"/><stop offset="0.769" stop-color="#00009d"/><stop offset="0.846" stop-color="#000091"/><stop offset="0.923" stop-color="#000089"/><stop offset="1" stop-color="#000085"/></linearGradient><linearGradient id="g83" x1="0" y1=".5" x2="0" y2="1" spreadMethod="reflect"><stop offset="0" stop-color="#29ffd6"/><stop offset="0.0769" stop-color="#1effe1"/><stop offset="0.154" stop-color="#00fdff"/><stop offset="0.231" stop-color="#00ceff"/><stop offset="0.308" stop-color="#0095ff"/><stop offset="0.385" stop-color="#005aff"/><stop offset="0.462" stop-color="#0023ff"/><stop offset="0.538" stop-color="#0000f2"/><stop offset="0.615" stop-color="#0000cd"/><stop offset="0.692" stop-color="#0000b1"/><stop offset="0.769" stop-color="#00009d"/><stop offset="0.846" stop-color="#000091"/><stop offset="0.923" stop-color="#000089"/><stop offset="1" stop-color="#000085"/></linearGradient><linearGradient id="g84" x1="0" y1=".5" x2="0" y2="1" spreadMethod="reflect"><stop offset="0" stop-color="#2effd1"/><stop offset="0.0769" stop-color="#23ffdc"/><stop offset="0.154" stop-color="#03fffc"/><stop offset="0.231" stop-color="#00d2ff"/><stop offset="0.308" stop-color="#0098ff"/><stop offset="0.385" stop-color="#005dff"/><stop offset="0.462" stop-color="#0025ff"/><stop offset="0.538" stop-color="#0000f4"/><stop offset="0.615" stop-color="#0000ce"/><stop offset="0.692" stop-color="#0000b1"/><stop offset="0.769" stop-color="#00009e"/><stop offset="0.846" stop-color="#000091"/><stop offset="0.923" stop-color="#000089"/><stop offset="1" stop-color="#000085"/></linearGradient><linearGradient id="g85" x1="0" y1=".5" x2="0" y2="1" spreadMethod="reflect"><stop offset="0" stop-color="#33ffcc"/><stop offset="0.0769" stop-color="#28ffd7"/><stop offset="0.154" stop-color="#07fff8"/><stop offset="0.231" stop-color="#00d6ff"/><stop offset="0.308" stop-color="#009cff"/><stop offset="0.385" stop-color="#005fff"/><stop offset="0.462" stop-color="#0027ff"/><stop offset="0.538" stop-color="#0000f5"/><stop offset="0.615" stop-color="#0000cf"/><stop offset="0.692" stop-color="#0000b2"/><stop offset="0.769" stop-color="#00009e"/><stop offset="0.846" stop-color="#000091"/><stop offset="0.923" stop-color="#000089"/><stop offset="1" stop-color="#000085"/></linearGradient><linearGradient id="g86" x1="0" y1=".5" x2="0" y2="1" spreadMethod="reflect"><stop offset="0" stop-color="#38ffc7"/><stop offset="0.0769" stop-color="#2dffd2"/><stop offset="0.154" stop-color="#0cfff3"/><stop offset="0.231" stop-color="#00daff"/><stop offset="0.308" stop-color="#009fff"/><stop offset="0.385" stop-color="#0062ff"/><stop offset="0.462" stop-color="#0029ff"/><stop offset="0.538" stop-color="#0000f7"/><stop offset="0.615" stop-color="#0000cf"/><stop offset="0.692" stop-color="#0000b3"/><stop offset="0.769" stop-color="#00009e"/><stop offset="0.846" stop-color="#000091"/><stop offset="0.923" stop-color="#000089"/><stop offset="1" stop-color="#000085"/></linearGradient><linearGradient id="g87" x1="0" y1=".5" x2="0" y2="1" spreadMethod="reflect"><stop offset="0" stop-color="#3dffc2"/><stop offset="0.0769" stop-color="#32ffcd"/><stop offset="0.154" stop-color="#10ffef"/><stop offset="0.231" stop-color="#00deff"/><stop offset="0.308" stop-color="#00a2ff"/><stop offset="0.385" stop-color="#0065ff"/><stop offset="0.462" stop-color="#002bff"/><stop offset="0.538" stop-color="#0000f8"/><stop offset="0.615" stop-color="#0000d0"/><stop offset="0.692" stop-color="#0000b3"/><stop offset="0.769" stop-color="#00009f"/><stop offset="0.846" stop-color="#000092"/><stop offset="0.923" stop-color="#00008a"/><stop offset="1" stop-color="#000085"/></linearGradient><linearGradient id="g88" x1="0" y1=".5" x2="0" y2="1" spreadMethod="reflect"><stop offset="0" stop-color="#42ffbd"/><stop offset="0.0769" stop-color="#37ffc8"/><stop offset="0.154" stop-color="#15ffea"/><stop offset="0.231" stop-color="#00e2ff"/><stop offset="0.308" stop-color="#00a6ff"/><stop offset="0.385" stop-color="#0067ff"/><stop offset="0.462" stop-color="#002dff"/><stop offset="0.538" stop-color="#0000f9"/><stop offset="0.615" stop-color="#0000d1"/><stop offset="0.692" stop-color="#0000b4"/><stop offset="0.769" stop-color="#00009f"/><stop offset="0.846" stop-color="#000092"/><stop offset="0.923" stop-color="#00008a"/><stop offset="1" stop-color="#000085"/></linearGradient><linearGradient id="g89" x1="0" y1=".5" x2="0" y2="1" spreadMethod="reflect"><stop offset="0" stop-color="#47ffb8"/><stop offset="0.0769" stop-color="#3bffc4"/><stop offset="0.154" stop-color="#1affe5"/><stop offset="0.231" stop-color="#00e6ff"/><stop offset="0.308" stop-color="#00a9ff"/><stop offset="0.385" stop-color="#006aff"/><stop offset="0.462" stop-color="#002fff"/><stop offset="0.538" stop-color="#0000fb"/><stop offset="0.615" stop-color="#0000d2"/><stop offset="0.692" stop-color="#0000b4"/><stop offset="0.769" stop-color="#0000a0"/><stop offset="0.846" stop-color="#000092"/><stop offset="0.923" stop-color="#00008a"/><stop offset="1" stop-color="#000085"/></linearGradient><linearGradient id="g90" x1="0" y1=".5" x2="0" y2="1" spreadMethod="reflect"><stop offset="0" stop-color="#4dffb2"/><stop offset="0.0769" stop-color="#40ffbf"/><stop offset="0.154" stop-color="#1effe1"/><stop offset="0.231" stop-color="#00eaff"/><stop offset="0.308" stop-color="#00acff"/><stop offset="0.385" stop-color="#006cff"/><stop offset="0.462" stop-color="#0030ff"/><stop offset="0.538" stop-color="#0000fc"/><stop offset="0.615" stop-color="#0000d3"/><stop offset="0.692" stop-color="#0000b5"/><stop offset="0.769" stop-color="#0000a0"/><stop offset="0.846" stop-color="#000092"/><stop offset="0.923" stop-color="#00008a"/><stop offset="1" stop-color="#000085"/></linearGradient><linearGradient id="g91" x1="0" y1=".5" x2="0" y2="1" spreadMethod="reflect"><stop offset="0" stop-color="#52ffad"/><stop offset="0.0769" stop-color="#45ffba"/><stop offset="0.154" stop-color="#23ffdc"/><stop offset="0.231" stop-color="#00eeff"/><stop offset="0.308" stop-color="#00b0ff"/><stop offset="0.385" stop-color="#006fff"/><stop offset="0.462" stop-color="#0032ff"/><stop offset="0.538" stop-color="#0000fd"/><stop offset="0.615" stop-color="#0000d4"/><stop offset="0.692" stop-color="#0000b5"/><stop offset="0.769" stop-color="#0000a0"/><stop offset="0.846" stop-color="#000092"/><stop offset="0.923" stop-color="#00008a"/><stop offset="1" stop-color="#000085"/></linearGradient><linearGradient id="g92" x1="0" y1=".5" x2="0" y2="1" spreadMethod="reflect"><stop offset="0" stop-color="#57ffa8"/><stop offset="0.0769" stop-color="#4affb5"/><stop offset="0.154" stop-color="#27ffd8"/><stop offset="0.231" stop-color="#00f2ff"/><stop offset="0.308" stop-color="#00b3ff"/><stop offset="0.385" stop-color="#0072ff"/><stop offset="0.462" stop-color="#0034ff"/><stop offset="0.538" stop-color="#0000ff"/><stop offset="0.615" stop-color="#0000d5"/><stop offset="0.692" stop-color="#0000b6"/><stop offset="0.769" stop-color="#0000a1"/><stop offset="0.846" stop-color="#000093"/><stop offset="0.923" stop-color="#00008a"/><stop offset="1" stop-color="#000085"/></linearGradient><linearGradient id="g93" x1="0" y1=".5" x2="0" y2="1" spreadMethod="reflect"><stop offset="0" stop-color="#5cffa3"/><stop offset="0.0769" stop-color="#4fffb0"/><stop offset="0.154" stop-color="#2cffd3"/><stop offset="0.231" stop-color="#00f6ff"/><stop offset="0.308" stop-color="#00b6ff"/><stop offset="0.385" stop-color="#0074ff"/><stop offset="0.462" stop-color="#0036ff"/><stop offset="0.538" stop-color="#0001ff"/><stop offset="0.615" stop-color="#0000d6"/><stop offset="0.692" stop-color="#0000b7"/><stop offset="0.769" stop-color="#0000a1"/><stop offset="0.846" stop-color="#000093"/><stop offset="0.923" stop-color="#00008a"/><stop offset="1" stop-color="#000085"/></linearGradient><linearGradient id="g94" x1="0" y1=".5" x2="0" y2="1" spreadMethod="reflect"><stop offset="0" stop-color="#61ff9e"/><stop offset="0.0769" stop-color="#54ffab"/><stop offset="0.154" stop-color="#30ffcf"/><stop offset="0.231" stop-color="#00faff"/><stop offset="0.308" stop-color="#00baff"/><stop offset="0.385" stop-color="#0077ff"/><stop offset="0.462" stop-color="#0038ff"/><stop offset="0.538" stop-color="#0003ff"/><stop offset="0.615" stop-color="#0000d7"/><stop offset="0.692" stop-color="#0000b7"/><stop offset="0.769" stop-color="#0000a1"/><stop offset="0.846" stop-color="#000093"/><stop offset="0.923" stop-color="#00008a"/><stop offset="1" stop-color="#000085"/></linearGradient><linearGradient id="g95" x1="0" y1=".5" x2="0" y2="1" spreadMethod="reflect"><stop offset="0" stop-color="#66ff99"/><stop offset="0.0769" stop-color="#59ffa6"/><stop offset="0.154" stop-color="#35ffca"/><stop offset="0.231" stop-color="#00feff"/><stop offset="0.308" stop-color="#00bdff"/><stop offset="0.385" stop-color="#0079ff"/><stop offset="0.462" stop-color="#003aff"/><stop offset="0.538" stop-color="#0004ff"/><stop offset="0.615" stop-color="#0000d8"/><stop offset="0.692" stop-color="#0000b8"/><stop offset="0.769" stop-color="#0000a2"/><stop offset="0.846" stop-color="#000093"/><stop offset="0.923" stop-color="#00008a"/><stop offset="1" stop-color="#000085"/></linearGradient><linearGradient id="g96" x1="0" y1=".5" x2="0" y2="1" spreadMethod="reflect"><stop offset="0" stop-color="#6bff94"/><stop offset="0.0769" stop-color="#5effa1"/><stop offset="0.154" stop-color="#3affc5"/><stop offset="0.231" stop-color="#03fffc"/><stop offset="0.308" stop-color="#00c0ff"/><stop offset="0.385" stop-color="#007cff"/><stop offset="0.462" stop-color="#003cff"/><stop offset="0.538" stop-color="#0005ff"/><stop offset="0.615" stop-color="#0000d9"/><stop offset="0.692" stop-color="#0000b8"/><stop offset="0.769" stop-color="#0000a2"/><stop offset="0.846" stop-color="#000093"/><stop offset="0.923" stop-color="#00008b"/><stop offset="1" stop-color="#000085"/></linearGradient><linearGradient id="g97" x1="0" y1=".5" x2="0" y2="1" spreadMethod="reflect"><stop offset="0" stop-color="#70ff8f"/><stop offset="0.0769" stop-color="#63ff9c"/><stop offset="0.154" stop-color="#3effc1"/><stop offset="0.231" stop-color="#07fff8"/><stop offset="0.308" stop-color="#00c4ff"/><stop offset="0.385" stop-color="#007fff"/><stop offset="0.462" stop-color="#003eff"/><stop offset="0.538" stop-color="#0007ff"/><stop offset="0.615" stop-color="#0000da"/><stop offset="0.692" stop-color="#0000b9"/><stop offset="0.769" stop-color="#0000a2"/><stop offset="0.846" stop-color="#000094"/><stop offset="0.923" stop-color="#00008b"/><stop offset="1" stop-color="#000085"/></linearGradient><linearGradient id="g98" x1="0" y1=".5" x2="0" y2="1" spreadMethod="reflect"><stop offset="0" stop-color="#75ff8a"/><stop offset="0.0769" stop-color="#68ff97"/><stop offset="0.154" stop-color="#43ffbc"/><stop offset="0.231" stop-color="#0bfff4"/><stop offset="0.308" stop-color="#00c7ff"/><stop offset="0.385" stop-color="#0081ff"/><stop offset="0.462" stop-color="#0040ff"/><stop offset="0.538" stop-color="#0008ff"/><stop offset="0.615" stop-color="#0000db"/><stop offset="0.692" stop-color="#0000ba"/><stop offset="0.769" stop-color="#0000a3"/><stop offset="0.846" stop-color="#000094"/><stop offset="0.923" stop-color="#00008b"/><stop offset="1" stop-color="#000086"/></linearGradient><linearGradient id="g99" x1="0" y1=".5" x2="0" y2="1" spreadMethod="reflect"><stop offset="0" stop-color="#7aff85"/><stop offset="0.0769" stop-color="#6dff92"/><stop offset="0.154" stop-color="#47ffb8"/><stop offset="0.231" stop-color="#0ffff0"/><stop offset="0.308" stop-color="#00caff"/><stop offset="0.385" stop-color="#0084ff"/><stop offset="0.462" stop-color="#0042ff"/><stop offset="0.538" stop-color="#0009ff"/><stop offset="0.615" stop-color="#0000db"/><stop offset="0.692" stop-color="#0000ba"/><stop offset="0.769" stop-color="#0000a3"/><stop offset="0.846" stop-color="#000094"/><stop offset="0.923" stop-color="#00008b"/><stop offset="1" stop-color="#000086"/></linearGradient><linearGradient id="g100" x1="0" y1=".5" x2="0" y2="1" spreadMethod="reflect"><stop offset="0" stop-color="#80ff80"/><stop offset="0.0769" stop-color="#72ff8d"/><stop offset="0.154" stop-color="#4cffb3"/><stop offset="0.231" stop-color="#13ffec"/><stop offset="0.308" stop-color="#00ceff"/><stop offset="0.385" stop-color="#0087ff"/><stop offset="0.462" stop-color="#0044ff"/><stop offset="0.538" stop-color="#000bff"/><stop offset="0.615" stop-color="#0000dc"/><stop offset="0.692" stop-color="#0000bb"/><stop offset="0.769" stop-color="#0000a3"/><stop offset="0.846" stop-color="#000094"/><stop offset="0.923" stop-color="#00008b"/><stop offset="1" stop-color="#000086"/></linearGradient><linearGradient id="g101" x1="0" y1=".5" x2="0" y2="1" spreadMethod="reflect"><stop offset="0" stop-color="#85ff7a"/><stop offset="0.0769" stop-color="#77ff88"/><stop offset="0.154" stop-color="#51ffae"/><stop offset="0.231" stop-color="#17ffe8"/><stop offset="0.308" stop-color="#00d1ff"/><stop offset="0.385" stop-color="#0089ff"/><stop offset="0.462" stop-color="#0046ff"/><stop offset="0.538" stop-color="#000cff"/><stop offset="0.615" stop-color="#0000dd"/><stop offset="0.692" stop-color="#0000bb"/><stop offset="0.769" stop-color="#0000a4"/><stop offset="0.846" stop-color="#000094"/><stop offset="0.923" stop-color="#00008b"/><stop offset="1" stop-color="#000086"/></linearGradient><linearGradient id="g102" x1="0" y1=".5" x2="0" y2="1" spreadMethod="reflect"><stop offset="0" stop-color="#8aff75"/><stop offset="0.0769" stop-color="#7cff83"/><stop offset="0.154" stop-color="#55ffaa"/><stop offset="0.231" stop-color="#1bffe4"/><stop offset="0.308" stop-color="#00d4ff"/><stop offset="0.385" stop-color="#008cff"/><stop offset="0.462" stop-color="#0048ff"/><stop offset="0.538" stop-color="#000eff"/><stop offset="0.615" stop-color="#0000de"/><stop offset="0.692" stop-color="#0000bc"/><stop offset="0.769" stop-color="#0000a4"/><stop offset="0.846" stop-color="#000095"/><stop offset="0.923" stop-color="#00008b"/><stop offset="1" stop-color="#000086"/></linearGradient><linearGradient id="g103" x1="0" y1=".5" x2="0" y2="1" spreadMethod="reflect"><stop offset="0" stop-color="#8fff70"/><stop offset="0.0769" stop-color="#81ff7e"/><stop offset="0.154" stop-color="#5affa5"/><stop offset="0.231" stop-color="#1fffe0"/><stop offset="0.308" stop-color="#00d8ff"/><stop offset="0.385" stop-color="#008eff"/><stop offset="0.462" stop-color="#004aff"/><stop offset="0.538" stop-color="#000fff"/><stop offset="0.615" stop-color="#0000df"/><stop offset="0.692" stop-color="#0000bd"/><stop offset="0.769" stop-color="#0000a5"/><stop offset="0.846" stop-color="#000095"/><stop offset="0.923" stop-color="#00008b"/><stop offset="1" stop-color="#000086"/></linearGradient><linearGradient id="g104" x1="0" y1=".5" x2="0" y2="1" spreadMethod="reflect"><stop offset="0" stop-color="#94ff6b"/><stop offset="0.0769" stop-color="#86ff79"/><stop offset="0.154" stop-color="#5effa1"/><stop offset="0.231" stop-color="#23ffdc"/><stop offset="0.308" stop-color="#00dbff"/><stop offset="0.385" stop-color="#0091ff"/><stop offset="0.462" stop-color="#004cff"/><stop offset="0.538" stop-color="#0010ff"/><stop offset="0.615" stop-color="#0000e0"/><stop offset="0.692" stop-color="#0000bd"/><stop offset="0.769" stop-color="#0000a5"/><stop offset="0.846" stop-color="#000095"/><stop offset="0.923" stop-color="#00008b"/><stop offset="1" stop-color="#000086"/></linearGradient><linearGradient id="g105" x1="0" y1=".5" x2="0" y2="1" spreadMethod="reflect"><stop offset="0" stop-color="#99ff66"/><stop offset="0.0769" stop-color="#8bff74"/><stop offset="0.154" stop-color="#63ff9c"/><stop offset="0.231" stop-color="#27ffd8"/><stop offset="0.308" stop-color="#00deff"/><stop offset="0.385" stop-color="#0094ff"/><stop offset="0.462" stop-color="#004eff"/><stop offset="0.538" stop-color="#0012ff"/><stop offset="0.615" stop-color="#0000e1"/><stop offset="0.692" stop-color="#0000be"/><stop offset="0.769" stop-color="#0000a5"/><stop offset="0.846" stop-color="#000095"/><stop offset="0.923" stop-color="#00008c"/><stop offset="1" stop-color="#000086"/></linearGradient><linearGradient id="g106" x1="0" y1=".5" x2="0" y2="1" spreadMethod="reflect"><stop offset="0" stop-color="#9eff61"/><stop offset="0.0769" stop-color="#90ff6f"/><stop offset="0.154" stop-color="#67ff98"/><stop offset="0.231" stop-color="#2bffd4"/><stop offset="0.308" stop-color="#00e2ff"/><stop offset="0.385" stop-color="#0096ff"/><stop offset="0.462" stop-color="#0050ff"/><stop offset="0.538" stop-color="#0013ff"/><stop offset="0.615" stop-color="#0000e2"/><stop offset="0.692" stop-color="#0000be"/><stop offset="0.769" stop-color="#0000a6"/><stop offset="0.846" stop-color="#000095"/><stop offset="0.923" stop-color="#00008c"/><stop offset="1" stop-color="#000086"/></linearGradient><linearGradient id="g107" x1="0" y1=".5" x2="0" y2="1" spreadMethod="reflect"><stop offset="0" stop-color="#a3ff5c"/><stop offset="0.0769" stop-color="#95ff6a"/><stop offset="0.154" stop-color="#6cff93"/><stop offset="0.231" stop-color="#2fffd0"/><stop offset="0.308" stop-color="#00e5ff"/><stop offset="0.385" stop-color="#0099ff"/><stop offset="0.462" stop-color="#0052ff"/><stop offset="0.538" stop-color="#0015ff"/><stop offset="0.615" stop-color="#0000e3"/><stop offset="0.692" stop-color="#0000bf"/><stop offset="0.769" stop-color="#0000a6"/><stop offset="0.846" stop-color="#000096"/><stop offset="0.923" stop-color="#00008c"/><stop offset="1" stop-color="#000086"/></linearGradient><linearGradient id="g108" x1="0" y1=".5" x2="0" y2="1" spreadMethod="reflect"><stop offset="0" stop-color="#a8ff57"/><stop offset="0.0769" stop-color="#9aff65"/><stop offset="0.154" stop-color="#71ff8e"/><stop offset="0.231" stop-color="#33ffcc"/><stop offset="0.308" stop-color="#00e8ff"/><stop offset="0.385" stop-color="#009cff"/><stop offset="0.462" stop-color="#0054ff"/><stop offset="0.538" stop-color="#0016ff"/><stop offset="0.615" stop-color="#0000e4"/><stop offset="0.692" stop-color="#0000bf"/><stop offset="0.769" stop-color="#0000a6"/><stop offset="0.846" stop-color="#000096"/><stop offset="0.923" stop-color="#00008c"/><stop offset="1" stop-color="#000086"/></linearGradient><linearGradient id="g109" x1="0" y1=".5" x2="0" y2="1" spreadMethod="reflect"><stop offset="0" stop-color="#adff52"/><stop offset="0.0769" stop-color="#9fff60"/><stop offset="0.154" stop-color="#75ff8a"/><stop offset="0.231" stop-color="#37ffc8"/><stop offset="0.308" stop-color="#00ecff"/><stop offset="0.385" stop-color="#009eff"/><stop offset="0.462" stop-color="#0056ff"/><stop offset="0.538" stop-color="#0017ff"/><stop offset="0.615" stop-color="#0000e5"/><stop offset="0.692" stop-color="#0000c0"/><stop offset="0.769" stop-color="#0000a7"/><stop offset="0.846" stop-color="#000096"/><stop offset="0.923" stop-color="#00008c"/><stop offset="1" stop-color="#000086"/></linearGradient><linearGradient id="g110" x1="0" y1=".5" x2="0" y2="1" spreadMethod="reflect"><stop offset="0" stop-color="#b3ff4c"/><stop offset="0.0769" stop-color="#a4ff5b"/><stop offset="0.154" stop-color="#7aff85"/><stop offset="0.231" stop-color="#3bffc4"/><stop offset="0.308" stop-color="#00efff"/><stop offset="0.385" stop-color="#00a1ff"/><stop offset="0.462" stop-color="#0058ff"/><stop offset="0.538" stop-color="#0019ff"/><stop offset="0.615" stop-color="#0000e6"/><stop offset="0.692" stop-color="#0000c1"/><stop offset="0.769" stop-color="#0000a7"/><stop offset="0.846" stop-color="#000096"/><stop offset="0.923" stop-color="#00008c"/><stop offset="1" stop-color="#000086"/></linearGradient><linearGradient id="g111" x1="0" y1=".5" x2="0" y2="1" spreadMethod="reflect"><stop offset="0" stop-color="#b8ff47"/><stop offset="0.0769" stop-color="#a9ff56"/><stop offset="0.154" stop-color="#7eff81"/><stop offset="0.231" stop-color="#3fffc0"/><stop offset="0.308" stop-color="#00f2ff"/><stop offset="0.385" stop-color="#00a3ff"/><stop offset="0.462" stop-color="#005aff"/><stop offset="0.538" stop-color="#001aff"/><stop offset="0.615" stop-color="#0000e7"/><stop offset="0.692" stop-color="#0000c1"/><stop offset="0.769" stop-color="#0000a7"/><stop offset="0.846" stop-color="#000096"/><stop offset="0.923" stop-color="#00008c"/><stop offset="1" stop-color="#000086"/></linearGradient><linearGradient id="g112" x1="0" y1=".5" x2="0" y2="1" spreadMethod="reflect"><stop offset="0" stop-color="#bdff42"/><stop offset="0.0769" stop-color="#aeff51"/><stop offset="0.154" stop-color="#83ff7c"/><stop offset="0.231" stop-color="#43ffbc"/><stop offset="0.308" stop-color="#00f6ff"/><stop offset="0.385" stop-color="#00a6ff"/><stop offset="0.462" stop-color="#005cff"/><stop offset="0.538" stop-color="#001bff"/><stop offset="0.615" stop-color="#0000e8"/><stop offset="0.692" stop-color="#0000c2"/><stop offset="0.769" stop-color="#0000a8"/><stop offset="0.846" stop-color="#000097"/><stop offset="0.923" stop-color="#00008c"/><stop offset="1" stop-color="#000086"/></linearGradient><linearGradient id="g113" x1="0" y1=".5" x2="0" y2="1" spreadMethod="reflect"><stop offset="0" stop-color="#c2ff3d"/><stop offset="0.0769" stop-color="#b3ff4c"/><stop offset="0.154" stop-color="#88ff77"/><stop offset="0.231" stop-color="#47ffb8"/><stop offset="0.308" stop-color="#00f9ff"/><stop offset="0.385" stop-color="#00a9ff"/><stop offset="0.462" stop-color="#005dff"/><stop offset="0.538" stop-color="#001dff"/><stop offset="0.615" stop-color="#0000e8"/><stop offset="0.692" stop-color="#0000c2"/><stop offset="0.769" stop-color="#0000a8"/><stop offset="0.846" stop-color="#000097"/><stop offset="0.923" stop-color="#00008c"/><stop offset="1" stop-color="#000086"/></linearGradient><linearGradient id="g114" x1="0" y1=".5" x2="0" y2="1" spreadMethod="reflect"><stop offset="0" stop-color="#c7ff38"/><stop offset="0.0769" stop-color="#b8ff47"/><stop offset="0.154" stop-color="#8cff73"/><stop offset="0.231" stop-color="#4bffb4"/><stop offset="0.308" stop-color="#00fcff"/><stop offset="0.385" stop-color="#00abff"/><stop offset="0.462" stop-color="#005fff"/><stop offset="0.538" stop-color="#001eff"/><stop offset="0.615" stop-color="#0000e9"/><stop offset="0.692" stop-color="#0000c3"/><stop offset="0.769" stop-color="#0000a8"/><stop offset="0.846" stop-color="#000097"/><stop offset="0.923" stop-color="#00008d"/><stop offset="1" stop-color="#000086"/></linearGradient><linearGradient id="g115" x1="0" y1=".5" x2="0" y2="1" spreadMethod="reflect"><stop offset="0" stop-color="#ccff33"/><stop offset="0.0769" stop-color="#bdff42"/><stop offset="0.154" stop-color="#91ff6e"/><stop offset="0.231" stop-color="#4fffb0"/><stop offset="0.308" stop-color="#01fffe"/><stop offset="0.385" stop-color="#00aeff"/><stop offset="0.462" stop-color="#0061ff"/><stop offset="0.538" stop-color="#0020ff"/><stop offset="0.615" stop-color="#0000ea"/><stop offset="0.692" stop-color="#0000c4"/><stop offset="0.769" stop-color="#0000a9"/><stop offset="0.846" stop-color="#000097"/><stop offset="0.923" stop-color="#00008d"/><stop offset="1" stop-color="#000086"/></linearGradient><linearGradient id="g116" x1="0" y1=".5" x2="0" y2="1" spreadMethod="reflect"><stop offset="0" stop-color="#d1ff2e"/><stop offset="0.0769" stop-color="#c2ff3d"/><stop offset="0.154" stop-color="#95ff6a"/><stop offset="0.231" stop-color="#53ffac"/><stop offset="0.308" stop-color="#04fffb"/><stop offset="0.385" stop-color="#00b1ff"/><stop offset="0.462" stop-color="#0063ff"/><stop offset="0.538" stop-color="#0021ff"/><stop offset="0.615" stop-color="#0000eb"/><stop offset="0.692" stop-color="#0000c4"/><stop offset="0.769" stop-color="#0000a9"/><stop offset="0.846" stop-color="#000098"/><stop offset="0.923" stop-color="#00008d"/><stop offset="1" stop-color="#000087"/></linearGradient><linearGradient id="g117" x1="0" y1=".5" x2="0" y2="1" spreadMethod="reflect"><stop offset="0" stop-color="#d6ff29"/><stop offset="0.0769" stop-color="#c7ff38"/><stop offset="0.154" stop-color="#9aff65"/><stop offset="0.231" stop-color="#57ffa8"/><stop offset="0.308" stop-color="#07fff8"/><stop offset="0.385" stop-color="#00b3ff"/><stop offset="0.462" stop-color="#0065ff"/><stop offset="0.538" stop-color="#0022ff"/><stop offset="0.615" stop-color="#0000ec"/><stop offset="0.692" stop-color="#0000c5"/><stop offset="0.769" stop-color="#0000a9"/><stop offset="0.846" stop-color="#000098"/><stop offset="0.923" stop-color="#00008d"/><stop offset="1" stop-color="#000087"/></linearGradient><linearGradient id="g118" x1="0" y1=".5" x2="0" y2="1" spreadMethod="reflect"><stop offset="0" stop-color="#dbff24"/><stop offset="0.0769" stop-color="#cbff34"/><stop offset="0.154" stop-color="#9eff61"/><stop offset="0.231" stop-color="#5bffa4"/><stop offset="0.308" stop-color="#0bfff4"/><stop offset="0.385" stop-color="#00b6ff"/><stop offset="0.462" stop-color="#0067ff"/><stop offset="0.538" stop-color="#0024ff"/><stop offset="0.615" stop-color="#0000ed"/><stop offset="0.692" stop-color="#0000c5"/><stop offset="0.769" stop-color="#0000aa"/><stop offset="0.846" stop-color="#000098"/><stop offset="0.923" stop-color="#00008d"/><stop offset="1" stop-color="#000087"/></linearGradient><linearGradient id="g119" x1="0" y1=".5" x2="0" y2="1" spreadMethod="reflect"><stop offset="0" stop-color="#e0ff1f"/><stop offset="0.0769" stop-color="#d0ff2f"/><stop offset="0.154" stop-color="#a3ff5c"/><stop offset="0.231" stop-color="#5fffa0"/><stop offset="0.308" stop-color="#0efff1"/><stop offset="0.385" stop-color="#00b8ff"/><stop offset="0.462" stop-color="#0069ff"/><stop offset="0.538" stop-color="#0025ff"/><stop offset="0.615" stop-color="#0000ee"/><stop offset="0.692" stop-color="#0000c6"/><stop offset="0.769" stop-color="#0000aa"/><stop offset="0.846" stop-color="#000098"/><stop offset="0.923" stop-color="#00008d"/><stop offset="1" stop-color="#000087"/></linearGradient><linearGradient id="g120" x1="0" y1=".5" x2="0" y2="1" spreadMethod="reflect"><stop offset="0" stop-color="#e5ff1a"/><stop offset="0.0769" stop-color="#d5ff2a"/><stop offset="0.154" stop-color="#a8ff57"/><stop offset="0.231" stop-color="#63ff9c"/><stop offset="0.308" stop-color="#11ffee"/><stop offset="0.385" stop-color="#00bbff"/><stop offset="0.462" stop-color="#006bff"/><stop offset="0.538" stop-color="#0027ff"/><stop offset="0.615" stop-color="#0000ef"/><stop offset="0.692" stop-color="#0000c7"/><stop offset="0.769" stop-color="#0000ab"/><stop offset="0.846" stop-color="#000098"/><stop offset="0.923" stop-color="#00008d"/><stop offset="1" stop-color="#000087"/></linearGradient><linearGradient id="g121" x1="0" y1=".5" x2="0" y2="1" spreadMethod="reflect"><stop offset="0" stop-color="#ebff14"/><stop offset="0.0769" stop-color="#daff25"/><stop offset="0.154" stop-color="#acff53"/><stop offset="0.231" stop-color="#67ff98"/><stop offset="0.308" stop-color="#15ffea"/><stop offset="0.385" stop-color="#00beff"/><stop offset="0.462" stop-color="#006dff"/><stop offset="0.538" stop-color="#0028ff"/><stop offset="0.615" stop-color="#0000f0"/><stop offset="0.692" stop-color="#0000c7"/><stop offset="0.769" stop-color="#0000ab"/><stop offset="0.846" stop-color="#000099"/><stop offset="0.923" stop-color="#00008d"/><stop offset="1" stop-color="#000087"/></linearGradient><linearGradient id="g122" x1="0" y1=".5" x2="0" y2="1" spreadMethod="reflect"><stop offset="0" stop-color="#f0ff0f"/><stop offset="0.0769" stop-color="#dfff20"/><stop offset="0.154" stop-color="#b1ff4e"/><stop offset="0.231" stop-color="#6bff94"/><stop offset="0.308" stop-color="#18ffe7"/><stop offset="0.385" stop-color="#00c0ff"/><stop offset="0.462" stop-color="#006fff"/><stop offset="0.538" stop-color="#0029ff"/><stop offset="0.615" stop-color="#0000f1"/><stop offset="0.692" stop-color="#0000c8"/><stop offset="0.769" stop-color="#0000ab"/><stop offset="0.846" stop-color="#000099"/><stop offset="0.923" stop-color="#00008d"/><stop offset="1" stop-color="#000087"/></linearGradient><linearGradient id="g123" x1="0" y1=".5" x2="0" y2="1" spreadMethod="reflect"><stop offset="0" stop-color="#f5ff0a"/><stop offset="0.0769" stop-color="#e4ff1b"/><stop offset="0.154" stop-color="#b5ff4a"/><stop offset="0.231" stop-color="#6fff90"/><stop offset="0.308" stop-color="#1bffe4"/><stop offset="0.385" stop-color="#00c3ff"/><stop offset="0.462" stop-color="#0071ff"/><stop offset="0.538" stop-color="#002bff"/><stop offset="0.615" stop-color="#0000f2"/><stop offset="0.692" stop-color="#0000c8"/><stop offset="0.769" stop-color="#0000ac"/><stop offset="0.846" stop-color="#000099"/><stop offset="0.923" stop-color="#00008e"/><stop offset="1" stop-color="#000087"/></linearGradient><linearGradient id="g124" x1="0" y1=".5" x2="0" y2="1" spreadMethod="reflect"><stop offset="0" stop-color="#faff05"/><stop offset="0.0769" stop-color="#e9ff16"/><stop offset="0.154" stop-color="#baff45"/><stop offset="0.231" stop-color="#73ff8c"/><stop offset="0.308" stop-color="#1fffe0"/><stop offset="0.385" stop-color="#00c6ff"/><stop offset="0.462" stop-color="#0073ff"/><stop offset="0.538" stop-color="#002cff"/><stop offset="0.615" stop-color="#0000f3"/><stop offset="0.692" stop-color="#0000c9"/><stop offset="0.769" stop-color="#0000ac"/><stop offset="0.846" stop-color="#000099"/><stop offset="0.923" stop-color="#00008e"/><stop offset="1" stop-color="#000087"/></linearGradient><linearGradient id="g125" x1="0" y1=".5" x2="0" y2="1" spreadMethod="reflect"><stop offset="0" stop-color="#ffff00"/><stop offset="0.0769" stop-color="#eeff11"/><stop offset="0.154" stop-color="#bfff40"/><stop offset="0.231" stop-color="#77ff88"/><stop offset="0.308" stop-color="#22ffdd"/><stop offset="0.385" stop-color="#00c8ff"/><stop offset="0.462" stop-color="#0075ff"/><stop offset="0.538" stop-color="#002dff"/><stop offset="0.615" stop-color="#0000f4"/><stop offset="0.692" stop-color="#0000c9"/><stop offset="0.769" stop-color="#0000ac"/><stop offset="0.846" stop-color="#000099"/><stop offset="0.923" stop-color="#00008e"/><stop offset="1" stop-color="#000087"/></linearGradient><linearGradient id="g126" x1="0" y1=".5" x2="0" y2="1" spreadMethod="reflect"><stop offset="0" stop-color="#fffa00"/><stop offset="0.0769" stop-color="#f3ff0c"/><stop offset="0.154" stop-color="#c3ff3c"/><stop offset="0.231" stop-color="#7bff84"/><stop offset="0.308" stop-color="#25ffda"/><stop offset="0.385" stop-color="#00cbff"/><stop offset="0.462" stop-color="#0077ff"/><stop offset="0.538" stop-color="#002fff"/><stop offset="0.615" stop-color="#0000f4"/><stop offset="0.692" stop-color="#0000ca"/><stop offset="0.769" stop-color="#0000ad"/><stop offset="0.846" stop-color="#00009a"/><stop offset="0.923" stop-color="#00008e"/><stop offset="1" stop-color="#000087"/></linearGradient><linearGradient id="g127" x1="0" y1=".5" x2="0" y2="1" spreadMethod="reflect"><stop offset="0" stop-color="#fff500"/><stop offset="0.0769" stop-color="#f8ff07"/><stop offset="0.154" stop-color="#c8ff37"/><stop offset="0.231" stop-color="#7fff80"/><stop offset="0.308" stop-color="#29ffd6"/><stop offset="0.385" stop-color="#00cdff"/><stop offset="0.462" stop-color="#0079ff"/><stop offset="0.538" stop-color="#0030ff"/><stop offset="0.615" stop-color="#0000f5"/><stop offset="0.692" stop-color="#0000cb"/><stop offset="0.769" stop-color="#0000ad"/><stop offset="0.846" stop-color="#00009a"/><stop offset="0.923" stop-color="#00008e"/><stop offset="1" stop-color="#000087"/></linearGradient><linearGradient id="g128" x1="0" y1=".5" x2="0" y2="1" spreadMethod="reflect"><stop offset="0" stop-color="#fff000"/><stop offset="0.0769" stop-color="#fdff02"/><stop offset="0.154" stop-color="#ccff33"/><stop offset="0.231" stop-color="#83ff7c"/><stop offset="0.308" stop-color="#2cffd3"/><stop offset="0.385" stop-color="#00d0ff"/><stop offset="0.462" stop-color="#007bff"/><stop offset="0.538" stop-color="#0032ff"/><stop offset="0.615" stop-color="#0000f6"/><stop offset="0.692" stop-color="#0000cb"/><stop offset="0.769" stop-color="#0000ad"/><stop offset="0.846" stop-color="#00009a"/><stop offset="0.923" stop-color="#00008e"/><stop offset="1" stop-color="#000087"/></linearGradient><linearGradient id="g129" x1="0" y1=".5" x2="0" y2="1" spreadMethod="reflect"><stop offset="0" stop-color="#ffeb00"/><stop offset="0.0769" stop-color="#fffc00"/><stop offset="0.154" stop-color="#d1ff2e"/><stop offset="0.231" stop-color="#87ff78"/><stop offset="0.308" stop-color="#2fffd0"/><stop offset="0.385" stop-color="#00d3ff"/><stop offset="0.462" stop-color="#007dff"/><stop offset="0.538" stop-color="#0033ff"/><stop offset="0.615" stop-color="#0000f7"/><stop offset="0.692" stop-color="#0000cc"/><stop offset="0.769" stop-color="#0000ae"/><stop offset="0.846" stop-color="#00009a"/><stop offset="0.923" stop-color="#00008e"/><stop offset="1" stop-color="#000087"/></linearGradient><linearGradient id="g131" x1="0" y1=".5" x2="0" y2="1" spreadMethod="reflect"><stop offset="0" stop-color="#ffe000"/><stop offset="0.0769" stop-color="#fff200"/><stop offset="0.154" stop-color="#daff25"/><stop offset="0.231" stop-color="#8fff70"/><stop offset="0.308" stop-color="#36ffc9"/><stop offset="0.385" stop-color="#00d8ff"/><stop offset="0.462" stop-color="#0081ff"/><stop offset="0.538" stop-color="#0036ff"/><stop offset="0.615" stop-color="#0000f9"/><stop offset="0.692" stop-color="#0000cd"/><stop offset="0.769" stop-color="#0000ae"/><stop offset="0.846" stop-color="#00009b"/><stop offset="0.923" stop-color="#00008e"/><stop offset="1" stop-color="#000087"/></linearGradient><linearGradient id="g132" x1="0" y1=".5" x2="0" y2="1" spreadMethod="reflect"><stop offset="0" stop-color="#ffdb00"/><stop offset="0.0769" stop-color="#ffed00"/><stop offset="0.154" stop-color="#dfff20"/><stop offset="0.231" stop-color="#93ff6c"/><stop offset="0.308" stop-color="#39ffc6"/><stop offset="0.385" stop-color="#00daff"/><stop offset="0.462" stop-color="#0083ff"/><stop offset="0.538" stop-color="#0037ff"/><stop offset="0.615" stop-color="#0000fa"/><stop offset="0.692" stop-color="#0000ce"/><stop offset="0.769" stop-color="#0000af"/><stop offset="0.846" stop-color="#00009b"/><stop offset="0.923" stop-color="#00008e"/><stop offset="1" stop-color="#000087"/></linearGradient><linearGradient id="g133" x1="0" y1=".5" x2="0" y2="1" spreadMethod="reflect"><stop offset="0" stop-color="#ffd600"/><stop offset="0.0769" stop-color="#ffe800"/><stop offset="0.154" stop-color="#e3ff1c"/><stop offset="0.231" stop-color="#97ff68"/><stop offset="0.308" stop-color="#3cffc3"/><stop offset="0.385" stop-color="#00ddff"/><stop offset="0.462" stop-color="#0085ff"/><stop offset="0.538" stop-color="#0038ff"/><stop offset="0.615" stop-color="#0000fb"/><stop offset="0.692" stop-color="#0000ce"/><stop offset="0.769" stop-color="#0000af"/><stop offset="0.846" stop-color="#00009b"/><stop offset="0.923" stop-color="#00008f"/><stop offset="1" stop-color="#000088"/></linearGradient><linearGradient id="g134" x1="0" y1=".5" x2="0" y2="1" spreadMethod="reflect"><stop offset="0" stop-color="#ffd100"/><stop offset="0.0769" stop-color="#ffe300"/><stop offset="0.154" stop-color="#e8ff17"/><stop offset="0.231" stop-color="#9bff64"/><stop offset="0.308" stop-color="#40ffbf"/><stop offset="0.385" stop-color="#00e0ff"/><stop offset="0.462" stop-color="#0087ff"/><stop offset="0.538" stop-color="#003aff"/><stop offset="0.615" stop-color="#0000fc"/><stop offset="0.692" stop-color="#0000cf"/><stop offset="0.769" stop-color="#0000af"/><stop offset="0.846" stop-color="#00009b"/><stop offset="0.923" stop-color="#00008f"/><stop offset="1" stop-color="#000088"/></linearGradient><linearGradient id="g135" x1="0" y1=".5" x2="0" y2="1" spreadMethod="reflect"><stop offset="0" stop-color="#ffcc00"/><stop offset="0.0769" stop-color="#ffde00"/><stop offset="0.154" stop-color="#ecff13"/><stop offset="0.231" stop-color="#9fff60"/><stop offset="0.308" stop-color="#43ffbc"/><stop offset="0.385" stop-color="#00e2ff"/><stop offset="0.462" stop-color="#0088ff"/><stop offset="0.538" stop-color="#003bff"/><stop offset="0.615" stop-color="#0000fd"/><stop offset="0.692" stop-color="#0000cf"/><stop offset="0.769" stop-color="#0000b0"/><stop offset="0.846" stop-color="#00009b"/><stop offset="0.923" stop-color="#00008f"/><stop offset="1" stop-color="#000088"/></linearGradient><linearGradient id="g136" x1="0" y1=".5" x2="0" y2="1" spreadMethod="reflect"><stop offset="0" stop-color="#ffc700"/><stop offset="0.0769" stop-color="#ffd900"/><stop offset="0.154" stop-color="#f1ff0e"/><stop offset="0.231" stop-color="#a3ff5c"/><stop offset="0.308" stop-color="#46ffb9"/><stop offset="0.385" stop-color="#00e5ff"/><stop offset="0.462" stop-color="#008aff"/><stop offset="0.538" stop-color="#003dff"/><stop offset="0.615" stop-color="#0000fe"/><stop offset="0.692" stop-color="#0000d0"/><stop offset="0.769" stop-color="#0000b0"/><stop offset="0.846" stop-color="#00009c"/><stop offset="0.923" stop-color="#00008f"/><stop offset="1" stop-color="#000088"/></linearGradient><linearGradient id="g137" x1="0" y1=".5" x2="0" y2="1" spreadMethod="reflect"><stop offset="0" stop-color="#ffc200"/><stop offset="0.0769" stop-color="#ffd400"/><stop offset="0.154" stop-color="#f6ff09"/><stop offset="0.231" stop-color="#a7ff58"/><stop offset="0.308" stop-color="#4affb5"/><stop offset="0.385" stop-color="#00e8ff"/><stop offset="0.462" stop-color="#008cff"/><stop offset="0.538" stop-color="#003eff"/><stop offset="0.615" stop-color="#0000ff"/><stop offset="0.692" stop-color="#0000d1"/><stop offset="0.769" stop-color="#0000b1"/><stop offset="0.846" stop-color="#00009c"/><stop offset="0.923" stop-color="#00008f"/><stop offset="1" stop-color="#000088"/></linearGradient><linearGradient id="g138" x1="0" y1=".5" x2="0" y2="1" spreadMethod="reflect"><stop offset="0" stop-color="#ffbd00"/><stop offset="0.0769" stop-color="#ffcf00"/><stop offset="0.154" stop-color="#faff05"/><stop offset="0.231" stop-color="#abff54"/><stop offset="0.308" stop-color="#4dffb2"/><stop offset="0.385" stop-color="#00eaff"/><stop offset="0.462" stop-color="#008eff"/><stop offset="0.538" stop-color="#003fff"/><stop offset="0.615" stop-color="#0001ff"/><stop offset="0.692" stop-color="#0000d1"/><stop offset="0.769" stop-color="#0000b1"/><stop offset="0.846" stop-color="#00009c"/><stop offset="0.923" stop-color="#00008f"/><stop offset="1" stop-color="#000088"/></linearGradient><linearGradient id="g139" x1="0" y1=".5" x2="0" y2="1" spreadMethod="reflect"><stop offset="0" stop-color="#ffb800"/><stop offset="0.0769" stop-color="#ffca00"/><stop offset="0.154" stop-color="#ffff00"/><stop offset="0.231" stop-color="#afff50"/><stop offset="0.308" stop-color="#50ffaf"/><stop offset="0.385" stop-color="#00edff"/><stop offset="0.462" stop-color="#0090ff"/><stop offset="0.538" stop-color="#0041ff"/><stop offset="0.615" stop-color="#0001ff"/><stop offset="0.692" stop-color="#0000d2"/><stop offset="0.769" stop-color="#0000b1"/><stop offset="0.846" stop-color="#00009c"/><stop offset="0.923" stop-color="#00008f"/><stop offset="1" stop-color="#000088"/></linearGradient><linearGradient id="g140" x1="0" y1=".5" x2="0" y2="1" spreadMethod="reflect"><stop offset="0" stop-color="#ffb300"/><stop offset="0.0769" stop-color="#ffc500"/><stop offset="0.154" stop-color="#fffb00"/><stop offset="0.231" stop-color="#b3ff4c"/><stop offset="0.308" stop-color="#54ffab"/><stop offset="0.385" stop-color="#00efff"/><stop offset="0.462" stop-color="#0092ff"/><stop offset="0.538" stop-color="#0042ff"/><stop offset="0.615" stop-color="#0002ff"/><stop offset="0.692" stop-color="#0000d2"/><stop offset="0.769" stop-color="#0000b2"/><stop offset="0.846" stop-color="#00009c"/><stop offset="0.923" stop-color="#00008f"/><stop offset="1" stop-color="#000088"/></linearGradient><linearGradient id="g141" x1="0" y1=".5" x2="0" y2="1" spreadMethod="reflect"><stop offset="0" stop-color="#ffad00"/><stop offset="0.0769" stop-color="#ffc000"/><stop offset="0.154" stop-color="#fff600"/><stop offset="0.231" stop-color="#b7ff48"/><stop offset="0.308" stop-color="#57ffa8"/><stop offset="0.385" stop-color="#00f2ff"/><stop offset="0.462" stop-color="#0094ff"/><stop offset="0.538" stop-color="#0044ff"/><stop offset="0.615" stop-color="#0003ff"/><stop offset="0.692" stop-color="#0000d3"/><stop offset="0.769" stop-color="#0000b2"/><stop offset="0.846" stop-color="#00009d"/><stop offset="0.923" stop-color="#00008f"/><stop offset="1" stop-color="#000088"/></linearGradient><linearGradient id="g142" x1="0" y1=".5" x2="0" y2="1" spreadMethod="reflect"><stop offset="0" stop-color="#ffa800"/><stop offset="0.0769" stop-color="#ffbb00"/><stop offset="0.154" stop-color="#fff100"/><stop offset="0.231" stop-color="#bbff44"/><stop offset="0.308" stop-color="#5affa5"/><stop offset="0.385" stop-color="#00f5ff"/><stop offset="0.462" stop-color="#0096ff"/><stop offset="0.538" stop-color="#0045ff"/><stop offset="0.615" stop-color="#0004ff"/><stop offset="0.692" stop-color="#0000d3"/><stop offset="0.769" stop-color="#0000b2"/><stop offset="0.846" stop-color="#00009d"/><stop offset="0.923" stop-color="#000090"/><stop offset="1" stop-color="#000088"/></linearGradient><linearGradient id="g143" x1="0" y1=".5" x2="0" y2="1" spreadMethod="reflect"><stop offset="0" stop-color="#ffa300"/><stop offset="0.0769" stop-color="#ffb600"/><stop offset="0.154" stop-color="#ffed00"/><stop offset="0.231" stop-color="#bfff40"/><stop offset="0.308" stop-color="#5effa1"/><stop offset="0.385" stop-color="#00f7ff"/><stop offset="0.462" stop-color="#0098ff"/><stop offset="0.538" stop-color="#0046ff"/><stop offset="0.615" stop-color="#0005ff"/><stop offset="0.692" stop-color="#0000d4"/><stop offset="0.769" stop-color="#0000b3"/><stop offset="0.846" stop-color="#00009d"/><stop offset="0.923" stop-color="#000090"/><stop offset="1" stop-color="#000088"/></linearGradient><linearGradient id="g144" x1="0" y1=".5" x2="0" y2="1" spreadMethod="reflect"><stop offset="0" stop-color="#ff9e00"/><stop offset="0.0769" stop-color="#ffb100"/><stop offset="0.154" stop-color="#ffe800"/><stop offset="0.231" stop-color="#c3ff3c"/><stop offset="0.308" stop-color="#61ff9e"/><stop offset="0.385" stop-color="#00faff"/><stop offset="0.462" stop-color="#009aff"/><stop offset="0.538" stop-color="#0048ff"/><stop offset="0.615" stop-color="#0006ff"/><stop offset="0.692" stop-color="#0000d5"/><stop offset="0.769" stop-color="#0000b3"/><stop offset="0.846" stop-color="#00009d"/><stop offset="0.923" stop-color="#000090"/><stop offset="1" stop-color="#000088"/></linearGradient><linearGradient id="g145" x1="0" y1=".5" x2="0" y2="1" spreadMethod="reflect"><stop offset="0" stop-color="#ff9900"/><stop offset="0.0769" stop-color="#ffac00"/><stop offset="0.154" stop-color="#ffe400"/><stop offset="0.231" stop-color="#c7ff38"/><stop offset="0.308" stop-color="#64ff9b"/><stop offset="0.385" stop-color="#00fdff"/><stop offset="0.462" stop-color="#009cff"/><stop offset="0.538" stop-color="#0049ff"/><stop offset="0.615" stop-color="#0007ff"/><stop offset="0.692" stop-color="#0000d5"/><stop offset="0.769" stop-color="#0000b3"/><stop offset="0.846" stop-color="#00009d"/><stop offset="0.923" stop-color="#000090"/><stop offset="1" stop-color="#000088"/></linearGradient><linearGradient id="g146" x1="0" y1=".5" x2="0" y2="1" spreadMethod="reflect"><stop offset="0" stop-color="#ff9400"/><stop offset="0.0769" stop-color="#ffa700"/><stop offset="0.154" stop-color="#ffdf00"/><stop offset="0.231" stop-color="#cbff34"/><stop offset="0.308" stop-color="#68ff97"/><stop offset="0.385" stop-color="#00ffff"/><stop offset="0.462" stop-color="#009eff"/><stop offset="0.538" stop-color="#004aff"/><stop offset="0.615" stop-color="#0008ff"/><stop offset="0.692" stop-color="#0000d6"/><stop offset="0.769" stop-color="#0000b4"/><stop offset="0.846" stop-color="#00009e"/><stop offset="0.923" stop-color="#000090"/><stop offset="1" stop-color="#000088"/></linearGradient><linearGradient id="g147" x1="0" y1=".5" x2="0" y2="1" spreadMethod="reflect"><stop offset="0" stop-color="#ff8f00"/><stop offset="0.0769" stop-color="#ffa200"/><stop offset="0.154" stop-color="#ffdb00"/><stop offset="0.231" stop-color="#cfff30"/><stop offset="0.308" stop-color="#6bff94"/><stop offset="0.385" stop-color="#03fffc"/><stop offset="0.462" stop-color="#00a0ff"/><stop offset="0.538" stop-color="#004cff"/><stop offset="0.615" stop-color="#0009ff"/><stop offset="0.692" stop-color="#0000d6"/><stop offset="0.769" stop-color="#0000b4"/><stop offset="0.846" stop-color="#00009e"/><stop offset="0.923" stop-color="#000090"/><stop offset="1" stop-color="#000088"/></linearGradient><linearGradient id="g148" x1="0" y1=".5" x2="0" y2="1" spreadMethod="reflect"><stop offset="0" stop-color="#ff8a00"/><stop offset="0.0769" stop-color="#ff9e00"/><stop offset="0.154" stop-color="#ffd600"/><stop offset="0.231" stop-color="#d3ff2c"/><stop offset="0.308" stop-color="#6eff91"/><stop offset="0.385" stop-color="#05fffa"/><stop offset="0.462" stop-color="#00a2ff"/><stop offset="0.538" stop-color="#004dff"/><stop offset="0.615" stop-color="#000aff"/><stop offset="0.692" stop-color="#0000d7"/><stop offset="0.769" stop-color="#0000b4"/><stop offset="0.846" stop-color="#00009e"/><stop offset="0.923" stop-color="#000090"/><stop offset="1" stop-color="#000088"/></linearGradient><linearGradient id="g149" x1="0" y1=".5" x2="0" y2="1" spreadMethod="reflect"><stop offset="0" stop-color="#ff8500"/><stop offset="0.0769" stop-color="#ff9900"/><stop offset="0.154" stop-color="#ffd100"/><stop offset="0.231" stop-color="#d7ff28"/><stop offset="0.308" stop-color="#72ff8d"/><stop offset="0.385" stop-color="#08fff7"/><stop offset="0.462" stop-color="#00a4ff"/><stop offset="0.538" stop-color="#004fff"/><stop offset="0.615" stop-color="#000bff"/><stop offset="0.692" stop-color="#0000d8"/><stop offset="0.769" stop-color="#0000b5"/><stop offset="0.846" stop-color="#00009e"/><stop offset="0.923" stop-color="#000090"/><stop offset="1" stop-color="#000088"/></linearGradient><linearGradient id="g150" x1="0" y1=".5" x2="0" y2="1" spreadMethod="reflect"><stop offset="0" stop-color="#ff8000"/><stop offset="0.0769" stop-color="#ff9400"/><stop offset="0.154" stop-color="#ffcd00"/><stop offset="0.231" stop-color="#dbff24"/><stop offset="0.308" stop-color="#75ff8a"/><stop offset="0.385" stop-color="#0bfff4"/><stop offset="0.462" stop-color="#00a6ff"/><stop offset="0.538" stop-color="#0050ff"/><stop offset="0.615" stop-color="#000cff"/><stop offset="0.692" stop-color="#0000d8"/><stop offset="0.769" stop-color="#0000b5"/><stop offset="0.846" stop-color="#00009e"/><stop offset="0.923" stop-color="#000090"/><stop offset="1" stop-color="#000088"/></linearGradient><linearGradient id="g151" x1="0" y1=".5" x2="0" y2="1" spreadMethod="reflect"><stop offset="0" stop-color="#ff7a00"/><stop offset="0.0769" stop-color="#ff8f00"/><stop offset="0.154" stop-color="#ffc800"/><stop offset="0.231" stop-color="#dfff20"/><stop offset="0.308" stop-color="#78ff87"/><stop offset="0.385" stop-color="#0dfff2"/><stop offset="0.462" stop-color="#00a8ff"/><stop offset="0.538" stop-color="#0051ff"/><stop offset="0.615" stop-color="#000dff"/><stop offset="0.692" stop-color="#0000d9"/><stop offset="0.769" stop-color="#0000b6"/><stop offset="0.846" stop-color="#00009f"/><stop offset="0.923" stop-color="#000091"/><stop offset="1" stop-color="#000089"/></linearGradient><linearGradient id="g152" x1="0" y1=".5" x2="0" y2="1" spreadMethod="reflect"><stop offset="0" stop-color="#ff7500"/><stop offset="0.0769" stop-color="#ff8a00"/><stop offset="0.154" stop-color="#ffc400"/><stop offset="0.231" stop-color="#e4ff1b"/><stop offset="0.308" stop-color="#7cff83"/><stop offset="0.385" stop-color="#10ffef"/><stop offset="0.462" stop-color="#00aaff"/><stop offset="0.538" stop-color="#0053ff"/><stop offset="0.615" stop-color="#000eff"/><stop offset="0.692" stop-color="#0000d9"/><stop offset="0.769" stop-color="#0000b6"/><stop offset="0.846" stop-color="#00009f"/><stop offset="0.923" stop-color="#000091"/><stop offset="1" stop-color="#000089"/></linearGradient><linearGradient id="g153" x1="0" y1=".5" x2="0" y2="1" spreadMethod="reflect"><stop offset="0" stop-color="#ff7000"/><stop offset="0.0769" stop-color="#ff8500"/><stop offset="0.154" stop-color="#ffbf00"/><stop offset="0.231" stop-color="#e8ff17"/><stop offset="0.308" stop-color="#7fff80"/><stop offset="0.385" stop-color="#13ffec"/><stop offset="0.462" stop-color="#00acff"/><stop offset="0.538" stop-color="#0054ff"/><stop offset="0.615" stop-color="#000eff"/><stop offset="0.692" stop-color="#0000da"/><stop offset="0.769" stop-color="#0000b6"/><stop offset="0.846" stop-color="#00009f"/><stop offset="0.923" stop-color="#000091"/><stop offset="1" stop-color="#000089"/></linearGradient><linearGradient id="g154" x1="0" y1=".5" x2="0" y2="1" spreadMethod="reflect"><stop offset="0" stop-color="#ff6b00"/><stop offset="0.0769" stop-color="#ff8000"/><stop offset="0.154" stop-color="#ffba00"/><stop offset="0.231" stop-color="#ecff13"/><stop offset="0.308" stop-color="#82ff7d"/><stop offset="0.385" stop-color="#15ffea"/><stop offset="0.462" stop-color="#00aeff"/><stop offset="0.538" stop-color="#0056ff"/><stop offset="0.615" stop-color="#000fff"/><stop offset="0.692" stop-color="#0000db"/><stop offset="0.769" stop-color="#0000b7"/><stop offset="0.846" stop-color="#00009f"/><stop offset="0.923" stop-color="#000091"/><stop offset="1" stop-color="#000089"/></linearGradient><linearGradient id="g155" x1="0" y1=".5" x2="0" y2="1" spreadMethod="reflect"><stop offset="0" stop-color="#ff6600"/><stop offset="0.0769" stop-color="#ff7b00"/><stop offset="0.154" stop-color="#ffb600"/><stop offset="0.231" stop-color="#f0ff0f"/><stop offset="0.308" stop-color="#86ff79"/><stop offset="0.385" stop-color="#18ffe7"/><stop offset="0.462" stop-color="#00b0ff"/><stop offset="0.538" stop-color="#0057ff"/><stop offset="0.615" stop-color="#0010ff"/><stop offset="0.692" stop-color="#0000db"/><stop offset="0.769" stop-color="#0000b7"/><stop offset="0.846" stop-color="#00009f"/><stop offset="0.923" stop-color="#000091"/><stop offset="1" stop-color="#000089"/></linearGradient><linearGradient id="g156" x1="0" y1=".5" x2="0" y2="1" spreadMethod="reflect"><stop offset="0" stop-color="#ff6100"/><stop offset="0.0769" stop-color="#ff7600"/><stop offset="0.154" stop-color="#ffb100"/><stop offset="0.231" stop-color="#f4ff0b"/><stop offset="0.308" stop-color="#89ff76"/><stop offset="0.385" stop-color="#1affe5"/><stop offset="0.462" stop-color="#00b2ff"/><stop offset="0.538" stop-color="#0058ff"/><stop offset="0.615" stop-color="#0011ff"/><stop offset="0.692" stop-color="#0000dc"/><stop offset="0.769" stop-color="#0000b7"/><stop offset="0.846" stop-color="#0000a0"/><stop offset="0.923" stop-color="#000091"/><stop offset="1" stop-color="#000089"/></linearGradient><linearGradient id="g157" x1="0" y1=".5" x2="0" y2="1" spreadMethod="reflect"><stop offset="0" stop-color="#ff5c00"/><stop offset="0.0769" stop-color="#ff7100"/><stop offset="0.154" stop-color="#ffad00"/><stop offset="0.231" stop-color="#f8ff07"/><stop offset="0.308" stop-color="#8cff73"/><stop offset="0.385" stop-color="#1dffe2"/><stop offset="0.462" stop-color="#00b4ff"/><stop offset="0.538" stop-color="#005aff"/><stop offset="0.615" stop-color="#0012ff"/><stop offset="0.692" stop-color="#0000dc"/><stop offset="0.769" stop-color="#0000b8"/><stop offset="0.846" stop-color="#0000a0"/><stop offset="0.923" stop-color="#000091"/><stop offset="1" stop-color="#000089"/></linearGradient><linearGradient id="g158" x1="0" y1=".5" x2="0" y2="1" spreadMethod="reflect"><stop offset="0" stop-color="#ff5700"/><stop offset="0.0769" stop-color="#ff6c00"/><stop offset="0.154" stop-color="#ffa800"/><stop offset="0.231" stop-color="#fcff03"/><stop offset="0.308" stop-color="#90ff6f"/><stop offset="0.385" stop-color="#20ffdf"/><stop offset="0.462" stop-color="#00b5ff"/><stop offset="0.538" stop-color="#005bff"/><stop offset="0.615" stop-color="#0013ff"/><stop offset="0.692" stop-color="#0000dd"/><stop offset="0.769" stop-color="#0000b8"/><stop offset="0.846" stop-color="#0000a0"/><stop offset="0.923" stop-color="#000091"/><stop offset="1" stop-color="#000089"/></linearGradient><linearGradient id="g159" x1="0" y1=".5" x2="0" y2="1" spreadMethod="reflect"><stop offset="0" stop-color="#ff5200"/><stop offset="0.0769" stop-color="#ff6700"/><stop offset="0.154" stop-color="#ffa400"/><stop offset="0.231" stop-color="#fffe00"/><stop offset="0.308" stop-color="#93ff6c"/><stop offset="0.385" stop-color="#22ffdd"/><stop offset="0.462" stop-color="#00b7ff"/><stop offset="0.538" stop-color="#005cff"/><stop offset="0.615" stop-color="#0014ff"/><stop offset="0.692" stop-color="#0000dd"/><stop offset="0.769" stop-color="#0000b8"/><stop offset="0.846" stop-color="#0000a0"/><stop offset="0.923" stop-color="#000091"/><stop offset="1" stop-color="#000089"/></linearGradient><linearGradient id="g160" x1="0" y1=".5" x2="0" y2="1" spreadMethod="reflect"><stop offset="0" stop-color="#ff4c00"/><stop offset="0.0769" stop-color="#ff6200"/><stop offset="0.154" stop-color="#ff9f00"/><stop offset="0.231" stop-color="#fffa00"/><stop offset="0.308" stop-color="#96ff69"/><stop offset="0.385" stop-color="#25ffda"/><stop offset="0.462" stop-color="#00b9ff"/><stop offset="0.538" stop-color="#005eff"/><stop offset="0.615" stop-color="#0015ff"/><stop offset="0.692" stop-color="#0000de"/><stop offset="0.769" stop-color="#0000b9"/><stop offset="0.846" stop-color="#0000a0"/><stop offset="0.923" stop-color="#000092"/><stop offset="1" stop-color="#000089"/></linearGradient><linearGradient id="g161" x1="0" y1=".5" x2="0" y2="1" spreadMethod="reflect"><stop offset="0" stop-color="#ff4700"/><stop offset="0.0769" stop-color="#ff5d00"/><stop offset="0.154" stop-color="#ff9a00"/><stop offset="0.231" stop-color="#fff600"/><stop offset="0.308" stop-color="#9aff65"/><stop offset="0.385" stop-color="#27ffd8"/><stop offset="0.462" stop-color="#00bbff"/><stop offset="0.538" stop-color="#005fff"/><stop offset="0.615" stop-color="#0016ff"/><stop offset="0.692" stop-color="#0000df"/><stop offset="0.769" stop-color="#0000b9"/><stop offset="0.846" stop-color="#0000a1"/><stop offset="0.923" stop-color="#000092"/><stop offset="1" stop-color="#000089"/></linearGradient><linearGradient id="g162" x1="0" y1=".5" x2="0" y2="1" spreadMethod="reflect"><stop offset="0" stop-color="#ff4200"/><stop offset="0.0769" stop-color="#ff5800"/><stop offset="0.154" stop-color="#ff9600"/><stop offset="0.231" stop-color="#fff200"/><stop offset="0.308" stop-color="#9dff62"/><stop offset="0.385" stop-color="#2affd5"/><stop offset="0.462" stop-color="#00bdff"/><stop offset="0.538" stop-color="#0061ff"/><stop offset="0.615" stop-color="#0017ff"/><stop offset="0.692" stop-color="#0000df"/><stop offset="0.769" stop-color="#0000b9"/><stop offset="0.846" stop-color="#0000a1"/><stop offset="0.923" stop-color="#000092"/><stop offset="1" stop-color="#000089"/></linearGradient><linearGradient id="g163" x1="0" y1=".5" x2="0" y2="1" spreadMethod="reflect"><stop offset="0" stop-color="#ff3d00"/><stop offset="0.0769" stop-color="#ff5300"/><stop offset="0.154" stop-color="#ff9100"/><stop offset="0.231" stop-color="#ffee00"/><stop offset="0.308" stop-color="#a0ff5f"/><stop offset="0.385" stop-color="#2dffd2"/><stop offset="0.462" stop-color="#00bfff"/><stop offset="0.538" stop-color="#0062ff"/><stop offset="0.615" stop-color="#0018ff"/><stop offset="0.692" stop-color="#0000e0"/><stop offset="0.769" stop-color="#0000ba"/><stop offset="0.846" stop-color="#0000a1"/><stop offset="0.923" stop-color="#000092"/><stop offset="1" stop-color="#000089"/></linearGradient><linearGradient id="g164" x1="0" y1=".5" x2="0" y2="1" spreadMethod="reflect"><stop offset="0" stop-color="#ff3800"/><stop offset="0.0769" stop-color="#ff4e00"/><stop offset="0.154" stop-color="#ff8d00"/><stop offset="0.231" stop-color="#ffea00"/><stop offset="0.308" stop-color="#a4ff5b"/><stop offset="0.385" stop-color="#2fffd0"/><stop offset="0.462" stop-color="#00c1ff"/><stop offset="0.538" stop-color="#0063ff"/><stop offset="0.615" stop-color="#0019ff"/><stop offset="0.692" stop-color="#0000e0"/><stop offset="0.769" stop-color="#0000ba"/><stop offset="0.846" stop-color="#0000a1"/><stop offset="0.923" stop-color="#000092"/><stop offset="1" stop-color="#000089"/></linearGradient><linearGradient id="g165" x1="0" y1=".5" x2="0" y2="1" spreadMethod="reflect"><stop offset="0" stop-color="#ff3300"/><stop offset="0.0769" stop-color="#ff4900"/><stop offset="0.154" stop-color="#ff8800"/><stop offset="0.231" stop-color="#ffe600"/><stop offset="0.308" stop-color="#a7ff58"/><stop offset="0.385" stop-color="#32ffcd"/><stop offset="0.462" stop-color="#00c3ff"/><stop offset="0.538" stop-color="#0065ff"/><stop offset="0.615" stop-color="#001aff"/><stop offset="0.692" stop-color="#0000e1"/><stop offset="0.769" stop-color="#0000ba"/><stop offset="0.846" stop-color="#0000a1"/><stop offset="0.923" stop-color="#000092"/><stop offset="1" stop-color="#000089"/></linearGradient><linearGradient id="g166" x1="0" y1=".5" x2="0" y2="1" spreadMethod="reflect"><stop offset="0" stop-color="#ff2e00"/><stop offset="0.0769" stop-color="#ff4400"/><stop offset="0.154" stop-color="#ff8300"/><stop offset="0.231" stop-color="#ffe200"/><stop offset="0.308" stop-color="#aaff55"/><stop offset="0.385" stop-color="#35ffca"/><stop offset="0.462" stop-color="#00c5ff"/><stop offset="0.538" stop-color="#0066ff"/><stop offset="0.615" stop-color="#001bff"/><stop offset="0.692" stop-color="#0000e2"/><stop offset="0.769" stop-color="#0000bb"/><stop offset="0.846" stop-color="#0000a2"/><stop offset="0.923" stop-color="#000092"/><stop offset="1" stop-color="#000089"/></linearGradient><linearGradient id="g167" x1="0" y1=".5" x2="0" y2="1" spreadMethod="reflect"><stop offset="0" stop-color="#ff2900"/><stop offset="0.0769" stop-color="#ff3f00"/><stop offset="0.154" stop-color="#ff7f00"/><stop offset="0.231" stop-color="#ffde00"/><stop offset="0.308" stop-color="#aeff51"/><stop offset="0.385" stop-color="#37ffc8"/><stop offset="0.462" stop-color="#00c7ff"/><stop offset="0.538" stop-color="#0068ff"/><stop offset="0.615" stop-color="#001bff"/><stop offset="0.692" stop-color="#0000e2"/><stop offset="0.769" stop-color="#0000bb"/><stop offset="0.846" stop-color="#0000a2"/><stop offset="0.923" stop-color="#000092"/><stop offset="1" stop-color="#000089"/></linearGradient><linearGradient id="g168" x1="0" y1=".5" x2="0" y2="1" spreadMethod="reflect"><stop offset="0" stop-color="#ff2400"/><stop offset="0.0769" stop-color="#ff3a00"/><stop offset="0.154" stop-color="#ff7a00"/><stop offset="0.231" stop-color="#ffda00"/><stop offset="0.308" stop-color="#b1ff4e"/><stop offset="0.385" stop-color="#3affc5"/><stop offset="0.462" stop-color="#00c9ff"/><stop offset="0.538" stop-color="#0069ff"/><stop offset="0.615" stop-color="#001cff"/><stop offset="0.692" stop-color="#0000e3"/><stop offset="0.769" stop-color="#0000bc"/><stop offset="0.846" stop-color="#0000a2"/><stop offset="0.923" stop-color="#000092"/><stop offset="1" stop-color="#000089"/></linearGradient><linearGradient id="g169" x1="0" y1=".5" x2="0" y2="1" spreadMethod="reflect"><stop offset="0" stop-color="#ff1f00"/><stop offset="0.0769" stop-color="#ff3500"/><stop offset="0.154" stop-color="#ff7600"/><stop offset="0.231" stop-color="#ffd600"/><stop offset="0.308" stop-color="#b4ff4b"/><stop offset="0.385" stop-color="#3cffc3"/><stop offset="0.462" stop-color="#00cbff"/><stop offset="0.538" stop-color="#006aff"/><stop offset="0.615" stop-color="#001dff"/><stop offset="0.692" stop-color="#0000e3"/><stop offset="0.769" stop-color="#0000bc"/><stop offset="0.846" stop-color="#0000a2"/><stop offset="0.923" stop-color="#000093"/><stop offset="1" stop-color="#00008a"/></linearGradient><linearGradient id="g170" x1="0" y1=".5" x2="0" y2="1" spreadMethod="reflect"><stop offset="0" stop-color="#ff1a00"/><stop offset="0.0769" stop-color="#ff3000"/><stop offset="0.154" stop-color="#ff7100"/><stop offset="0.231" stop-color="#ffd200"/><stop offset="0.308" stop-color="#b8ff47"/><stop offset="0.385" stop-color="#3fffc0"/><stop offset="0.462" stop-color="#00cdff"/><stop offset="0.538" stop-color="#006cff"/><stop offset="0.615" stop-color="#001eff"/><stop offset="0.692" stop-color="#0000e4"/><stop offset="0.769" stop-color="#0000bc"/><stop offset="0.846" stop-color="#0000a2"/><stop offset="0.923" stop-color="#000093"/><stop offset="1" stop-color="#00008a"/></linearGradient><linearGradient id="g171" x1="0" y1=".5" x2="0" y2="1" spreadMethod="reflect"><stop offset="0" stop-color="#ff1400"/><stop offset="0.0769" stop-color="#ff2b00"/><stop offset="0.154" stop-color="#ff6d00"/><stop offset="0.231" stop-color="#ffce00"/><stop offset="0.308" stop-color="#bbff44"/><stop offset="0.385" stop-color="#42ffbd"/><stop offset="0.462" stop-color="#00cfff"/><stop offset="0.538" stop-color="#006dff"/><stop offset="0.615" stop-color="#001fff"/><stop offset="0.692" stop-color="#0000e5"/><stop offset="0.769" stop-color="#0000bd"/><stop offset="0.846" stop-color="#0000a3"/><stop offset="0.923" stop-color="#000093"/><stop offset="1" stop-color="#00008a"/></linearGradient><linearGradient id="g172" x1="0" y1=".5" x2="0" y2="1" spreadMethod="reflect"><stop offset="0" stop-color="#ff0f00"/><stop offset="0.0769" stop-color="#ff2600"/><stop offset="0.154" stop-color="#ff6800"/><stop offset="0.231" stop-color="#ffca00"/><stop offset="0.308" stop-color="#beff41"/><stop offset="0.385" stop-color="#44ffbb"/><stop offset="0.462" stop-color="#00d1ff"/><stop offset="0.538" stop-color="#006eff"/><stop offset="0.615" stop-color="#0020ff"/><stop offset="0.692" stop-color="#0000e5"/><stop offset="0.769" stop-color="#0000bd"/><stop offset="0.846" stop-color="#0000a3"/><stop offset="0.923" stop-color="#000093"/><stop offset="1" stop-color="#00008a"/></linearGradient><linearGradient id="g173" x1="0" y1=".5" x2="0" y2="1" spreadMethod="reflect"><stop offset="0" stop-color="#ff0a00"/><stop offset="0.0769" stop-color="#ff2100"/><stop offset="0.154" stop-color="#ff6300"/><stop offset="0.231" stop-color="#ffc600"/><stop offset="0.308" stop-color="#c2ff3d"/><stop offset="0.385" stop-color="#47ffb8"/><stop offset="0.462" stop-color="#00d3ff"/><stop offset="0.538" stop-color="#0070ff"/><stop offset="0.615" stop-color="#0021ff"/><stop offset="0.692" stop-color="#0000e6"/><stop offset="0.769" stop-color="#0000bd"/><stop offset="0.846" stop-color="#0000a3"/><stop offset="0.923" stop-color="#000093"/><stop offset="1" stop-color="#00008a"/></linearGradient><linearGradient id="g174" x1="0" y1=".5" x2="0" y2="1" spreadMethod="reflect"><stop offset="0" stop-color="#ff0500"/><stop offset="0.0769" stop-color="#ff1c00"/><stop offset="0.154" stop-color="#ff5f00"/><stop offset="0.231" stop-color="#ffc200"/><stop offset="0.308" stop-color="#c5ff3a"/><stop offset="0.385" stop-color="#4affb5"/><stop offset="0.462" stop-color="#00d5ff"/><stop offset="0.538" stop-color="#0071ff"/><stop offset="0.615" stop-color="#0022ff"/><stop offset="0.692" stop-color="#0000e6"/><stop offset="0.769" stop-color="#0000be"/><stop offset="0.846" stop-color="#0000a3"/><stop offset="0.923" stop-color="#000093"/><stop offset="1" stop-color="#00008a"/></linearGradient><linearGradient id="g175" x1="0" y1=".5" x2="0" y2="1" spreadMethod="reflect"><stop offset="0" stop-color="#ff0000"/><stop offset="0.0769" stop-color="#ff1700"/><stop offset="0.154" stop-color="#ff5a00"/><stop offset="0.231" stop-color="#ffbe00"/><stop offset="0.308" stop-color="#c8ff37"/><stop offset="0.385" stop-color="#4cffb3"/><stop offset="0.462" stop-color="#00d7ff"/><stop offset="0.538" stop-color="#0073ff"/><stop offset="0.615" stop-color="#0023ff"/><stop offset="0.692" stop-color="#0000e7"/><stop offset="0.769" stop-color="#0000be"/><stop offset="0.846" stop-color="#0000a3"/><stop offset="0.923" stop-color="#000093"/><stop offset="1" stop-color="#00008a"/></linearGradient><linearGradient id="g176" x1="0" y1=".5" x2="0" y2="1" spreadMethod="reflect"><stop offset="0" stop-color="#fa0000"/><stop offset="0.0769" stop-color="#ff1200"/><stop offset="0.154" stop-color="#ff5600"/><stop offset="0.231" stop-color="#ffba00"/><stop offset="0.308" stop-color="#ccff33"/><stop offset="0.385" stop-color="#4fffb0"/><stop offset="0.462" stop-color="#00d9ff"/><stop offset="0.538" stop-color="#0074ff"/><stop offset="0.615" stop-color="#0024ff"/><stop offset="0.692" stop-color="#0000e7"/><stop offset="0.769" stop-color="#0000be"/><stop offset="0.846" stop-color="#0000a4"/><stop offset="0.923" stop-color="#000093"/><stop offset="1" stop-color="#00008a"/></linearGradient><linearGradient id="g177" x1="0" y1=".5" x2="0" y2="1" spreadMethod="reflect"><stop offset="0" stop-color="#f50000"/><stop offset="0.0769" stop-color="#ff0e00"/><stop offset="0.154" stop-color="#ff5100"/><stop offset="0.231" stop-color="#ffb600"/><stop offset="0.308" stop-color="#cfff30"/><stop offset="0.385" stop-color="#51ffae"/><stop offset="0.462" stop-color="#00dbff"/><stop offset="0.538" stop-color="#0075ff"/><stop offset="0.615" stop-color="#0025ff"/><stop offset="0.692" stop-color="#0000e8"/><stop offset="0.769" stop-color="#0000bf"/><stop offset="0.846" stop-color="#0000a4"/><stop offset="0.923" stop-color="#000093"/><stop offset="1" stop-color="#00008a"/></linearGradient><linearGradient id="g178" x1="0" y1=".5" x2="0" y2="1" spreadMethod="reflect"><stop offset="0" stop-color="#f00000"/><stop offset="0.0769" stop-color="#ff0900"/><stop offset="0.154" stop-color="#ff4c00"/><stop offset="0.231" stop-color="#ffb200"/><stop offset="0.308" stop-color="#d2ff2d"/><stop offset="0.385" stop-color="#54ffab"/><stop offset="0.462" stop-color="#00ddff"/><stop offset="0.538" stop-color="#0077ff"/><stop offset="0.615" stop-color="#0026ff"/><stop offset="0.692" stop-color="#0000e9"/><stop offset="0.769" stop-color="#0000bf"/><stop offset="0.846" stop-color="#0000a4"/><stop offset="0.923" stop-color="#000094"/><stop offset="1" stop-color="#00008a"/></linearGradient><linearGradient id="g179" x1="0" y1=".5" x2="0" y2="1" spreadMethod="reflect"><stop offset="0" stop-color="#eb0000"/><stop offset="0.0769" stop-color="#ff0400"/><stop offset="0.154" stop-color="#ff4800"/><stop offset="0.231" stop-color="#ffae00"/><stop offset="0.308" stop-color="#d6ff29"/><stop offset="0.385" stop-color="#57ffa8"/><stop offset="0.462" stop-color="#00dfff"/><stop offset="0.538" stop-color="#0078ff"/><stop offset="0.615" stop-color="#0027ff"/><stop offset="0.692" stop-color="#0000e9"/><stop offset="0.769" stop-color="#0000bf"/><stop offset="0.846" stop-color="#0000a4"/><stop offset="0.923" stop-color="#000094"/><stop offset="1" stop-color="#00008a"/></linearGradient><linearGradient id="g180" x1="0" y1=".5" x2="0" y2="1" spreadMethod="reflect"><stop offset="0" stop-color="#e60000"/><stop offset="0.0769" stop-color="#fe0000"/><stop offset="0.154" stop-color="#ff4300"/><stop offset="0.231" stop-color="#ffaa00"/><stop offset="0.308" stop-color="#d9ff26"/><stop offset="0.385" stop-color="#59ffa6"/><stop offset="0.462" stop-color="#00e0ff"/><stop offset="0.538" stop-color="#007aff"/><stop offset="0.615" stop-color="#0028ff"/><stop offset="0.692" stop-color="#0000ea"/><stop offset="0.769" stop-color="#0000c0"/><stop offset="0.846" stop-color="#0000a4"/><stop offset="0.923" stop-color="#000094"/><stop offset="1" stop-color="#00008a"/></linearGradient><linearGradient id="g181" x1="0" y1=".5" x2="0" y2="1" spreadMethod="reflect"><stop offset="0" stop-color="#e10000"/><stop offset="0.0769" stop-color="#f90000"/><stop offset="0.154" stop-color="#ff3f00"/><stop offset="0.231" stop-color="#ffa600"/><stop offset="0.308" stop-color="#dcff23"/><stop offset="0.385" stop-color="#5cffa3"/><stop offset="0.462" stop-color="#00e2ff"/><stop offset="0.538" stop-color="#007bff"/><stop offset="0.615" stop-color="#0028ff"/><stop offset="0.692" stop-color="#0000ea"/><stop offset="0.769" stop-color="#0000c0"/><stop offset="0.846" stop-color="#0000a5"/><stop offset="0.923" stop-color="#000094"/><stop offset="1" stop-color="#00008a"/></linearGradient><linearGradient id="g182" x1="0" y1=".5" x2="0" y2="1" spreadMethod="reflect"><stop offset="0" stop-color="#db0000"/><stop offset="0.0769" stop-color="#f40000"/><stop offset="0.154" stop-color="#ff3a00"/><stop offset="0.231" stop-color="#ffa200"/><stop offset="0.308" stop-color="#e0ff1f"/><stop offset="0.385" stop-color="#5fffa0"/><stop offset="0.462" stop-color="#00e4ff"/><stop offset="0.538" stop-color="#007cff"/><stop offset="0.615" stop-color="#0029ff"/><stop offset="0.692" stop-color="#0000eb"/><stop offset="0.769" stop-color="#0000c0"/><stop offset="0.846" stop-color="#0000a5"/><stop offset="0.923" stop-color="#000094"/><stop offset="1" stop-color="#00008a"/></linearGradient><linearGradient id="g183" x1="0" y1=".5" x2="0" y2="1" spreadMethod="reflect"><stop offset="0" stop-color="#d60000"/><stop offset="0.0769" stop-color="#ef0000"/><stop offset="0.154" stop-color="#ff3500"/><stop offset="0.231" stop-color="#ff9e00"/><stop offset="0.308" stop-color="#e3ff1c"/><stop offset="0.385" stop-color="#61ff9e"/><stop offset="0.462" stop-color="#00e6ff"/><stop offset="0.538" stop-color="#007eff"/><stop offset="0.615" stop-color="#002aff"/><stop offset="0.692" stop-color="#0000ec"/><stop offset="0.769" stop-color="#0000c1"/><stop offset="0.846" stop-color="#0000a5"/><stop offset="0.923" stop-color="#000094"/><stop offset="1" stop-color="#00008a"/></linearGradient><linearGradient id="g184" x1="0" y1=".5" x2="0" y2="1" spreadMethod="reflect"><stop offset="0" stop-color="#d10000"/><stop offset="0.0769" stop-color="#ea0000"/><stop offset="0.154" stop-color="#ff3100"/><stop offset="0.231" stop-color="#ff9a00"/><stop offset="0.308" stop-color="#e6ff19"/><stop offset="0.385" stop-color="#64ff9b"/><stop offset="0.462" stop-color="#00e8ff"/><stop offset="0.538" stop-color="#007fff"/><stop offset="0.615" stop-color="#002bff"/><stop offset="0.692" stop-color="#0000ec"/><stop offset="0.769" stop-color="#0000c1"/><stop offset="0.846" stop-color="#0000a5"/><stop offset="0.923" stop-color="#000094"/><stop offset="1" stop-color="#00008a"/></linearGradient><linearGradient id="g185" x1="0" y1=".5" x2="0" y2="1" spreadMethod="reflect"><stop offset="0" stop-color="#cc0000"/><stop offset="0.0769" stop-color="#e50000"/><stop offset="0.154" stop-color="#ff2c00"/><stop offset="0.231" stop-color="#ff9600"/><stop offset="0.308" stop-color="#eaff15"/><stop offset="0.385" stop-color="#66ff99"/><stop offset="0.462" stop-color="#00eaff"/><stop offset="0.538" stop-color="#0080ff"/><stop offset="0.615" stop-color="#002cff"/><stop offset="0.692" stop-color="#0000ed"/><stop offset="0.769" stop-color="#0000c2"/><stop offset="0.846" stop-color="#0000a5"/><stop offset="0.923" stop-color="#000094"/><stop offset="1" stop-color="#00008a"/></linearGradient><linearGradient id="g186" x1="0" y1=".5" x2="0" y2="1" spreadMethod="reflect"><stop offset="0" stop-color="#c70000"/><stop offset="0.0769" stop-color="#e00000"/><stop offset="0.154" stop-color="#ff2800"/><stop offset="0.231" stop-color="#ff9200"/><stop offset="0.308" stop-color="#edff12"/><stop offset="0.385" stop-color="#69ff96"/><stop offset="0.462" stop-color="#00ecff"/><stop offset="0.538" stop-color="#0082ff"/><stop offset="0.615" stop-color="#002dff"/><stop offset="0.692" stop-color="#0000ed"/><stop offset="0.769" stop-color="#0000c2"/><stop offset="0.846" stop-color="#0000a6"/><stop offset="0.923" stop-color="#000094"/><stop offset="1" stop-color="#00008a"/></linearGradient><linearGradient id="g187" x1="0" y1=".5" x2="0" y2="1" spreadMethod="reflect"><stop offset="0" stop-color="#c20000"/><stop offset="0.0769" stop-color="#db0000"/><stop offset="0.154" stop-color="#ff2300"/><stop offset="0.231" stop-color="#ff8e00"/><stop offset="0.308" stop-color="#f0ff0f"/><stop offset="0.385" stop-color="#6cff93"/><stop offset="0.462" stop-color="#00eeff"/><stop offset="0.538" stop-color="#0083ff"/><stop offset="0.615" stop-color="#002eff"/><stop offset="0.692" stop-color="#0000ee"/><stop offset="0.769" stop-color="#0000c2"/><stop offset="0.846" stop-color="#0000a6"/><stop offset="0.923" stop-color="#000095"/><stop offset="1" stop-color="#00008b"/></linearGradient><linearGradient id="g188" x1="0" y1=".5" x2="0" y2="1" spreadMethod="reflect"><stop offset="0" stop-color="#bd0000"/><stop offset="0.0769" stop-color="#d60000"/><stop offset="0.154" stop-color="#ff1f00"/><stop offset="0.231" stop-color="#ff8a00"/><stop offset="0.308" stop-color="#f4ff0b"/><stop offset="0.385" stop-color="#6eff91"/><stop offset="0.462" stop-color="#00f0ff"/><stop offset="0.538" stop-color="#0085ff"/><stop offset="0.615" stop-color="#002fff"/><stop offset="0.692" stop-color="#0000ee"/><stop offset="0.769" stop-color="#0000c3"/><stop offset="0.846" stop-color="#0000a6"/><stop offset="0.923" stop-color="#000095"/><stop offset="1" stop-color="#00008b"/></linearGradient><linearGradient id="g189" x1="0" y1=".5" x2="0" y2="1" spreadMethod="reflect"><stop offset="0" stop-color="#b80000"/><stop offset="0.0769" stop-color="#d10000"/><stop offset="0.154" stop-color="#ff1a00"/><stop offset="0.231" stop-color="#ff8600"/><stop offset="0.308" stop-color="#f7ff08"/><stop offset="0.385" stop-color="#71ff8e"/><stop offset="0.462" stop-color="#00f2ff"/><stop offset="0.538" stop-color="#0086ff"/><stop offset="0.615" stop-color="#0030ff"/><stop offset="0.692" stop-color="#0000ef"/><stop offset="0.769" stop-color="#0000c3"/><stop offset="0.846" stop-color="#0000a6"/><stop offset="0.923" stop-color="#000095"/><stop offset="1" stop-color="#00008b"/></linearGradient><linearGradient id="g190" x1="0" y1=".5" x2="0" y2="1" spreadMethod="reflect"><stop offset="0" stop-color="#b30000"/><stop offset="0.0769" stop-color="#cc0000"/><stop offset="0.154" stop-color="#ff1500"/><stop offset="0.231" stop-color="#ff8200"/><stop offset="0.308" stop-color="#faff05"/><stop offset="0.385" stop-color="#73ff8c"/><stop offset="0.462" stop-color="#00f4ff"/><stop offset="0.538" stop-color="#0087ff"/><stop offset="0.615" stop-color="#0031ff"/><stop offset="0.692" stop-color="#0000f0"/><stop offset="0.769" stop-color="#0000c3"/><stop offset="0.846" stop-color="#0000a6"/><stop offset="0.923" stop-color="#000095"/><stop offset="1" stop-color="#00008b"/></linearGradient><linearGradient id="g191" x1="0" y1=".5" x2="0" y2="1" spreadMethod="reflect"><stop offset="0" stop-color="#ae0000"/><stop offset="0.0769" stop-color="#c70000"/><stop offset="0.154" stop-color="#ff1100"/><stop offset="0.231" stop-color="#ff7e00"/><stop offset="0.308" stop-color="#feff01"/><stop offset="0.385" stop-color="#76ff89"/><stop offset="0.462" stop-color="#00f6ff"/><stop offset="0.538" stop-color="#0089ff"/><stop offset="0.615" stop-color="#0032ff"/><stop offset="0.692" stop-color="#0000f0"/><stop offset="0.769" stop-color="#0000c4"/><stop offset="0.846" stop-color="#0000a7"/><stop offset="0.923" stop-color="#000095"/><stop offset="1" stop-color="#00008b"/></linearGradient><linearGradient id="g192" x1="0" y1=".5" x2="0" y2="1" spreadMethod="reflect"><stop offset="0" stop-color="#a90000"/><stop offset="0.0769" stop-color="#c20000"/><stop offset="0.154" stop-color="#ff0c00"/><stop offset="0.231" stop-color="#ff7a00"/><stop offset="0.308" stop-color="#fffd00"/><stop offset="0.385" stop-color="#79ff86"/><stop offset="0.462" stop-color="#00f8ff"/><stop offset="0.538" stop-color="#008aff"/><stop offset="0.615" stop-color="#0033ff"/><stop offset="0.692" stop-color="#0000f1"/><stop offset="0.769" stop-color="#0000c4"/><stop offset="0.846" stop-color="#0000a7"/><stop offset="0.923" stop-color="#000095"/><stop offset="1" stop-color="#00008b"/></linearGradient><linearGradient id="g193" x1="0" y1=".5" x2="0" y2="1" spreadMethod="reflect"><stop offset="0" stop-color="#a40000"/><stop offset="0.0769" stop-color="#bd0000"/><stop offset="0.154" stop-color="#ff0800"/><stop offset="0.231" stop-color="#ff7600"/><stop offset="0.308" stop-color="#fffa00"/><stop offset="0.385" stop-color="#7bff84"/><stop offset="0.462" stop-color="#00faff"/><stop offset="0.538" stop-color="#008bff"/><stop offset="0.615" stop-color="#0034ff"/><stop offset="0.692" stop-color="#0000f1"/><stop offset="0.769" stop-color="#0000c4"/><stop offset="0.846" stop-color="#0000a7"/><stop offset="0.923" stop-color="#000095"/><stop offset="1" stop-color="#00008b"/></linearGradient><linearGradient id="g194" x1="0" y1=".5" x2="0" y2="1" spreadMethod="reflect"><stop offset="0" stop-color="#9e0000"/><stop offset="0.0769" stop-color="#b80000"/><stop offset="0.154" stop-color="#ff0300"/><stop offset="0.231" stop-color="#ff7200"/><stop offset="0.308" stop-color="#fff600"/><stop offset="0.385" stop-color="#7eff81"/><stop offset="0.462" stop-color="#00fcff"/><stop offset="0.538" stop-color="#008dff"/><stop offset="0.615" stop-color="#0034ff"/><stop offset="0.692" stop-color="#0000f2"/><stop offset="0.769" stop-color="#0000c5"/><stop offset="0.846" stop-color="#0000a7"/><stop offset="0.923" stop-color="#000095"/><stop offset="1" stop-color="#00008b"/></linearGradient><linearGradient id="g195" x1="0" y1=".5" x2="0" y2="1" spreadMethod="reflect"><stop offset="0" stop-color="#990000"/><stop offset="0.0769" stop-color="#b30000"/><stop offset="0.154" stop-color="#fd0000"/><stop offset="0.231" stop-color="#ff6e00"/><stop offset="0.308" stop-color="#fff300"/><stop offset="0.385" stop-color="#81ff7e"/><stop offset="0.462" stop-color="#00feff"/><stop offset="0.538" stop-color="#008eff"/><stop offset="0.615" stop-color="#0035ff"/><stop offset="0.692" stop-color="#0000f3"/><stop offset="0.769" stop-color="#0000c5"/><stop offset="0.846" stop-color="#0000a8"/><stop offset="0.923" stop-color="#000095"/><stop offset="1" stop-color="#00008b"/></linearGradient><linearGradient id="g196" x1="0" y1=".5" x2="0" y2="1" spreadMethod="reflect"><stop offset="0" stop-color="#940000"/><stop offset="0.0769" stop-color="#ae0000"/><stop offset="0.154" stop-color="#f90000"/><stop offset="0.231" stop-color="#ff6a00"/><stop offset="0.308" stop-color="#fff000"/><stop offset="0.385" stop-color="#83ff7c"/><stop offset="0.462" stop-color="#01fffe"/><stop offset="0.538" stop-color="#0090ff"/><stop offset="0.615" stop-color="#0036ff"/><stop offset="0.692" stop-color="#0000f3"/><stop offset="0.769" stop-color="#0000c5"/><stop offset="0.846" stop-color="#0000a8"/><stop offset="0.923" stop-color="#000096"/><stop offset="1" stop-color="#00008b"/></linearGradient><linearGradient id="g197" x1="0" y1=".5" x2="0" y2="1" spreadMethod="reflect"><stop offset="0" stop-color="#8f0000"/><stop offset="0.0769" stop-color="#aa0000"/><stop offset="0.154" stop-color="#f40000"/><stop offset="0.231" stop-color="#ff6600"/><stop offset="0.308" stop-color="#ffec00"/><stop offset="0.385" stop-color="#86ff79"/><stop offset="0.462" stop-color="#03fffc"/><stop offset="0.538" stop-color="#0091ff"/><stop offset="0.615" stop-color="#0037ff"/><stop offset="0.692" stop-color="#0000f4"/><stop offset="0.769" stop-color="#0000c6"/><stop offset="0.846" stop-color="#0000a8"/><stop offset="0.923" stop-color="#000096"/><stop offset="1" stop-color="#00008b"/></linearGradient><linearGradient id="g198" x1="0" y1=".5" x2="0" y2="1" spreadMethod="reflect"><stop offset="0" stop-color="#8a0000"/><stop offset="0.0769" stop-color="#a50000"/><stop offset="0.154" stop-color="#f00000"/><stop offset="0.231" stop-color="#ff6200"/><stop offset="0.308" stop-color="#ffe900"/><stop offset="0.385" stop-color="#88ff77"/><stop offset="0.462" stop-color="#05fffa"/><stop offset="0.538" stop-color="#0092ff"/><stop offset="0.615" stop-color="#0038ff"/><stop offset="0.692" stop-color="#0000f4"/><stop offset="0.769" stop-color="#0000c6"/><stop offset="0.846" stop-color="#0000a8"/><stop offset="0.923" stop-color="#000096"/><stop offset="1" stop-color="#00008b"/></linearGradient><linearGradient id="g199" x1="0" y1=".5" x2="0" y2="1" spreadMethod="reflect"><stop offset="0" stop-color="#850000"/><stop offset="0.0769" stop-color="#a00000"/><stop offset="0.154" stop-color="#eb0000"/><stop offset="0.231" stop-color="#ff5e00"/><stop offset="0.308" stop-color="#ffe600"/><stop offset="0.385" stop-color="#8bff74"/><stop offset="0.462" stop-color="#07fff8"/><stop offset="0.538" stop-color="#0094ff"/><stop offset="0.615" stop-color="#0039ff"/><stop offset="0.692" stop-color="#0000f5"/><stop offset="0.769" stop-color="#0000c7"/><stop offset="0.846" stop-color="#0000a8"/><stop offset="0.923" stop-color="#000096"/><stop offset="1" stop-color="#00008b"/></linearGradient><linearGradient id="g200" x1="0" y1=".5" x2="0" y2="1" spreadMethod="reflect"><stop offset="0" stop-color="#800000"/><stop offset="0.0769" stop-color="#9b0000"/><stop offset="0.154" stop-color="#e70000"/><stop offset="0.231" stop-color="#ff5a00"/><stop offset="0.308" stop-color="#ffe200"/><stop offset="0.385" stop-color="#8eff71"/><stop offset="0.462" stop-color="#09fff6"/><stop offset="0.538" stop-color="#0095ff"/><stop offset="0.615" stop-color="#003aff"/><stop offset="0.692" stop-color="#0000f6"/><stop offset="0.769" stop-color="#0000c7"/><stop offset="0.846" stop-color="#0000a9"/><stop offset="0.923" stop-color="#000096"/><stop offset="1" stop-color="#00008b"/></linearGradient></defs><g stroke="#a8a8a8" stroke-width="0.7" fill="none"><path d="M96.59 206.40v-5M96.59 2.50v5"/><path d="M150.25 206.40v-5M150.25 2.50v5"/><path d="M203.91 206.40v-5M203.91 2.50v5"/><path d="M257.57 206.40v-5M257.57 2.50v5"/><path d="M48.50 34.80h5M284.50 34.80h-5"/><path d="M48.50 72.10h5M284.50 72.10h-5"/><path d="M48.50 109.40h5M284.50 109.40h-5"/><path d="M48.50 146.70h5M284.50 146.70h-5"/><path d="M48.50 184.00h5M284.50 184.00h-5"/></g><rect x="48.50" y="2.50" width="236.00" height="203.90" fill="none" stroke="#666" stroke-width="0.75"/><clipPath id="cp0"><path d="M48.30 2.30L53.67 10.50L59.03 45.00L64.40 56.80L69.76 62.20L75.13 70.00L80.50 73.50L85.86 77.40L91.23 77.20L96.59 76.20L101.96 71.80L107.33 75.80L112.69 74.80L118.06 74.00L123.42 81.80L128.79 81.00L134.16 83.00L139.52 86.20L144.89 89.30L150.25 94.00L155.62 97.20L160.99 97.90L166.35 97.50L171.72 99.50L177.08 99.00L182.45 97.30L187.82 97.60L193.18 96.80L198.55 97.10L203.91 97.30L209.28 97.00L214.65 95.70L220.01 96.80L225.38 95.20L230.74 96.50L236.11 98.70L241.48 98.40L246.84 97.60L252.21 97.00L257.57 96.20L262.94 94.60L268.31 95.00L273.67 95.80L279.04 96.70L284.40 95.80L284.40 130.00L279.04 130.60L273.67 130.80L268.31 131.20L262.94 131.70L257.57 132.90L252.21 133.30L246.84 133.90L241.48 134.30L236.11 134.50L230.74 134.50L225.38 134.40L220.01 135.00L214.65 135.00L209.28 136.20L203.91 136.70L198.55 137.60L193.18 137.80L187.82 139.40L182.45 140.30L177.08 141.70L171.72 142.40L166.35 142.00L160.99 142.90L155.62 143.80L150.25 142.00L144.89 141.20L139.52 141.40L134.16 141.70L128.79 141.90L123.42 144.80L118.06 142.60L112.69 146.00L107.33 150.40L101.96 150.90L96.59 157.90L91.23 163.80L85.86 168.80L80.50 171.70L75.13 175.80L69.76 176.30L64.40 185.00L59.03 192.60L53.67 177.20L48.30 206.00z"/></clipPath><path d="M48.30 2.30L53.67 10.50L59.03 45.00L64.40 56.80L69.76 62.20L75.13 70.00L80.50 73.50L85.86 77.40L91.23 77.20L96.59 76.20L101.96 71.80L107.33 75.80L112.69 74.80L118.06 74.00L123.42 81.80L128.79 81.00L134.16 83.00L139.52 86.20L144.89 89.30L150.25 94.00L155.62 97.20L160.99 97.90L166.35 97.50L171.72 99.50L177.08 99.00L182.45 97.30L187.82 97.60L193.18 96.80L198.55 97.10L203.91 97.30L209.28 97.00L214.65 95.70L220.01 96.80L225.38 95.20L230.74 96.50L236.11 98.70L241.48 98.40L246.84 97.60L252.21 97.00L257.57 96.20L262.94 94.60L268.31 95.00L273.67 95.80L279.04 96.70L284.40 95.80L284.40 130.00L279.04 130.60L273.67 130.80L268.31 131.20L262.94 131.70L257.57 132.90L252.21 133.30L246.84 133.90L241.48 134.30L236.11 134.50L230.74 134.50L225.38 134.40L220.01 135.00L214.65 135.00L209.28 136.20L203.91 136.70L198.55 137.60L193.18 137.80L187.82 139.40L182.45 140.30L177.08 141.70L171.72 142.40L166.35 142.00L160.99 142.90L155.62 143.80L150.25 142.00L144.89 141.20L139.52 141.40L134.16 141.70L128.79 141.90L123.42 144.80L118.06 142.60L112.69 146.00L107.33 150.40L101.96 150.90L96.59 157.90L91.23 163.80L85.86 168.80L80.50 171.70L75.13 175.80L69.76 176.30L64.40 185.00L59.03 192.60L53.67 177.20L48.30 206.00z" fill="#000082"/><g clip-path="url(#cp0)"><rect x="48.3" y="2.6056" width="1" height="202.32" fill="url(#g35)"/><rect x="49" y="4.1338" width="1.3" height="195.43" fill="url(#g36)"/><rect x="50" y="5.6619" width="1.3" height="188.53" fill="url(#g38)"/><rect x="51" y="7.19" width="1.3" height="181.64" fill="url(#g39)"/><rect x="52" y="8.7182" width="1.3" height="174.74" fill="url(#g41)"/><rect x="53" y="10.246" width="1.3" height="167.84" fill="url(#g42)"/><rect x="54" y="15.862" width="1.3" height="163.73" fill="url(#g43)"/><rect x="55" y="22.291" width="1.3" height="160.17" fill="url(#g44)"/><rect x="56" y="28.721" width="1.3" height="156.61" fill="url(#g45)"/><rect x="57" y="35.15" width="1.3" height="153.05" fill="url(#g46)"/><rect x="58" y="41.58" width="1.3" height="149.49" fill="url(#g47)"/><rect x="59" y="46.029" width="1.3" height="145.91" fill="url(#g48)"/><rect x="60" y="48.228" width="1.3" height="142.29" fill="url(#g50)"/><rect x="61" y="50.427" width="1.3" height="138.68" fill="url(#g51)"/><rect x="62" y="52.626" width="1.3" height="135.06" fill="url(#g52)"/><rect x="63" y="54.825" width="1.3" height="131.45" fill="url(#g54)"/><rect x="64" y="56.903" width="1.3" height="127.93" fill="url(#g55)"/><rect x="65" y="57.909" width="1.3" height="125.3" fill="url(#g56)"/><rect x="66" y="58.915" width="1.3" height="122.68" fill="url(#g58)"/><rect x="67" y="59.922" width="1.3" height="120.05" fill="url(#g59)"/><rect x="68" y="60.928" width="1.3" height="117.42" fill="url(#g60)"/><rect x="69" y="61.934" width="1.3" height="114.79" fill="url(#g61)"/><rect x="70" y="63.27" width="1.3" height="112.96" fill="url(#g62)"/><rect x="71" y="64.723" width="1.3" height="111.41" fill="url(#g63)"/><rect x="72" y="66.177" width="1.3" height="109.87" fill="url(#g64)"/><rect x="73" y="67.631" width="1.3" height="108.32" fill="url(#g65)"/><rect x="74" y="69.084" width="1.3" height="106.77" fill="url(#g66)"/><rect x="75" y="70.241" width="1.3" height="105.28" fill="url(#g67)"/><rect x="76" y="70.894" width="1.3" height="103.86" fill="url(#g68)"/><rect x="77" y="71.546" width="1.3" height="102.44" fill="url(#g69)"/><rect x="78" y="72.198" width="1.3" height="101.03" fill="url(#g70)"/><rect x="79" y="72.85" width="1.3" height="99.611" fill="url(#g71)"/><rect x="80" y="73.503" width="1.3" height="98.195" fill="url(#g72)"/><rect x="81" y="74.23" width="1.3" height="96.928" fill="url(#g73)"/><rect x="82" y="74.957" width="1.3" height="95.66" fill="url(#g74)"/><rect x="83" y="75.683" width="1.3" height="94.393" fill="url(#g75)"/><rect x="84" y="76.41" width="1.3" height="93.126" fill="url(#g76)"/><rect x="85" y="77.137" width="1.3" height="91.859" fill="url(#g77)"/><rect x="86" y="77.376" width="1.3" height="90.829" fill="url(#g78)"/><rect x="87" y="77.339" width="1.3" height="89.935" fill="url(#g78)"/><rect x="88" y="77.302" width="1.3" height="89.04" fill="url(#g79)"/><rect x="89" y="77.264" width="1.3" height="88.146" fill="url(#g80)"/><rect x="90" y="77.227" width="1.3" height="87.251" fill="url(#g81)"/><rect x="91" y="77.149" width="1.3" height="86.352" fill="url(#g82)"/><rect x="92" y="76.963" width="1.3" height="85.438" fill="url(#g83)"/><rect x="93" y="76.777" width="1.3" height="84.525" fill="url(#g83)"/><rect x="94" y="76.59" width="1.3" height="83.612" fill="url(#g84)"/><rect x="95" y="76.404" width="1.3" height="82.699" fill="url(#g85)"/><rect x="96" y="76.218" width="1.3" height="81.786" fill="url(#g86)"/><rect x="97" y="75.457" width="1.3" height="81.261" fill="url(#g87)"/><rect x="98" y="74.637" width="1.3" height="80.776" fill="url(#g87)"/><rect x="99" y="73.817" width="1.3" height="80.292" fill="url(#g88)"/><rect x="100" y="72.997" width="1.3" height="79.807" fill="url(#g88)"/><rect x="101" y="72.177" width="1.3" height="79.323" fill="url(#g89)"/><rect x="102" y="72.203" width="1.3" height="78.647" fill="url(#g90)"/><rect x="103" y="72.948" width="1.3" height="77.809" fill="url(#g91)"/><rect x="104" y="73.693" width="1.3" height="76.97" fill="url(#g92)"/><rect x="105" y="74.439" width="1.3" height="76.131" fill="url(#g93)"/><rect x="106" y="75.184" width="1.3" height="75.293" fill="url(#g94)"/><rect x="107" y="75.768" width="1.3" height="74.49" fill="url(#g95)"/><rect x="108" y="75.581" width="1.3" height="73.856" fill="url(#g96)"/><rect x="109" y="75.395" width="1.3" height="73.223" fill="url(#g96)"/><rect x="110" y="75.208" width="1.3" height="72.589" fill="url(#g97)"/><rect x="111" y="75.022" width="1.3" height="71.955" fill="url(#g98)"/><rect x="112" y="74.836" width="1.3" height="71.322" fill="url(#g99)"/><rect x="113" y="74.68" width="1.3" height="70.808" fill="url(#g100)"/><rect x="114" y="74.53" width="1.3" height="70.324" fill="url(#g100)"/><rect x="115" y="74.381" width="1.3" height="69.839" fill="url(#g101)"/><rect x="116" y="74.232" width="1.3" height="69.355" fill="url(#g102)"/><rect x="117" y="74.083" width="1.3" height="68.87" fill="url(#g102)"/><rect x="118" y="74.642" width="1.3" height="68.139" fill="url(#g104)"/><rect x="119" y="76.096" width="1.3" height="67.095" fill="url(#g105)"/><rect x="120" y="77.55" width="1.3" height="66.052" fill="url(#g107)"/><rect x="121" y="79.003" width="1.3" height="65.008" fill="url(#g109)"/><rect x="122" y="80.457" width="1.3" height="63.964" fill="url(#g110)"/><rect x="123" y="81.789" width="1.3" height="62.97" fill="url(#g112)"/><rect x="124" y="81.64" width="1.3" height="62.579" fill="url(#g113)"/><rect x="125" y="81.49" width="1.3" height="62.188" fill="url(#g113)"/><rect x="126" y="81.341" width="1.3" height="61.796" fill="url(#g114)"/><rect x="127" y="81.192" width="1.3" height="61.405" fill="url(#g115)"/><rect x="128" y="81.043" width="1.3" height="61.013" fill="url(#g116)"/><rect x="129" y="81.265" width="1.3" height="60.609" fill="url(#g116)"/><rect x="130" y="81.637" width="1.3" height="60.199" fill="url(#g117)"/><rect x="131" y="82.01" width="1.3" height="59.789" fill="url(#g118)"/><rect x="132" y="82.383" width="1.3" height="59.379" fill="url(#g119)"/><rect x="133" y="82.755" width="1.3" height="58.969" fill="url(#g120)"/><rect x="134" y="83.205" width="1.3" height="58.476" fill="url(#g121)"/><rect x="135" y="83.801" width="1.3" height="57.823" fill="url(#g122)"/><rect x="136" y="84.398" width="1.3" height="57.171" fill="url(#g123)"/><rect x="137" y="84.994" width="1.3" height="56.519" fill="url(#g125)"/><rect x="138" y="85.591" width="1.3" height="55.867" fill="url(#g126)"/><rect x="139" y="86.187" width="1.3" height="55.214" fill="url(#g128)"/><rect x="140" y="86.765" width="1.3" height="54.599" fill="url(#g129)"/><rect x="141" y="87.343" width="1.3" height="53.984" fill="url(#g131)"/><rect x="142" y="87.92" width="1.3" height="53.369" fill="url(#g132)"/><rect x="143" y="88.498" width="1.3" height="52.754" fill="url(#g134)"/><rect x="144" y="89.076" width="1.3" height="52.139" fill="url(#g135)"/><rect x="145" y="89.836" width="1.3" height="51.455" fill="url(#g137)"/><rect x="146" y="90.712" width="1.3" height="50.728" fill="url(#g139)"/><rect x="147" y="91.588" width="1.3" height="50.002" fill="url(#g141)"/><rect x="148" y="92.464" width="1.3" height="49.275" fill="url(#g143)"/><rect x="149" y="93.34" width="1.3" height="48.548" fill="url(#g145)"/><rect x="150" y="94.147" width="1.3" height="47.936" fill="url(#g147)"/><rect x="151" y="94.743" width="1.3" height="47.675" fill="url(#g148)"/><rect x="152" y="95.339" width="1.3" height="47.414" fill="url(#g149)"/><rect x="153" y="95.936" width="1.3" height="47.153" fill="url(#g150)"/><rect x="154" y="96.532" width="1.3" height="46.892" fill="url(#g150)"/><rect x="155" y="97.128" width="1.3" height="46.631" fill="url(#g151)"/><rect x="156" y="97.315" width="1.3" height="46.338" fill="url(#g152)"/><rect x="157" y="97.445" width="1.3" height="46.039" fill="url(#g153)"/><rect x="158" y="97.576" width="1.3" height="45.741" fill="url(#g154)"/><rect x="159" y="97.706" width="1.3" height="45.443" fill="url(#g155)"/><rect x="160" y="97.837" width="1.3" height="45.145" fill="url(#g156)"/><rect x="161" y="97.862" width="1.3" height="44.952" fill="url(#g157)"/><rect x="162" y="97.787" width="1.3" height="44.859" fill="url(#g157)"/><rect x="163" y="97.713" width="1.3" height="44.766" fill="url(#g158)"/><rect x="164" y="97.638" width="1.3" height="44.673" fill="url(#g158)"/><rect x="165" y="97.564" width="1.3" height="44.579" fill="url(#g158)"/><rect x="166" y="97.555" width="1.3" height="44.456" fill="url(#g159)"/><rect x="167" y="97.928" width="1.3" height="44.158" fill="url(#g160)"/><rect x="168" y="98.301" width="1.3" height="43.86" fill="url(#g161)"/><rect x="169" y="98.673" width="1.3" height="43.561" fill="url(#g162)"/><rect x="170" y="99.046" width="1.3" height="43.263" fill="url(#g163)"/><rect x="171" y="99.419" width="1.3" height="42.965" fill="url(#g164)"/><rect x="172" y="99.427" width="1.3" height="42.871" fill="url(#g164)"/><rect x="173" y="99.334" width="1.3" height="42.834" fill="url(#g165)"/><rect x="174" y="99.241" width="1.3" height="42.796" fill="url(#g165)"/><rect x="175" y="99.148" width="1.3" height="42.759" fill="url(#g165)"/><rect x="176" y="99.054" width="1.3" height="42.722" fill="url(#g165)"/><rect x="177" y="98.868" width="1.3" height="42.723" fill="url(#g165)"/><rect x="178" y="98.551" width="1.3" height="42.779" fill="url(#g165)"/><rect x="179" y="98.235" width="1.3" height="42.835" fill="url(#g165)"/><rect x="180" y="97.918" width="1.3" height="42.891" fill="url(#g164)"/><rect x="181" y="97.601" width="1.3" height="42.947" fill="url(#g164)"/><rect x="182" y="97.303" width="1.3" height="42.989" fill="url(#g164)"/><rect x="183" y="97.359" width="1.3" height="42.765" fill="url(#g165)"/><rect x="184" y="97.415" width="1.3" height="42.542" fill="url(#g166)"/><rect x="185" y="97.471" width="1.3" height="42.318" fill="url(#g167)"/><rect x="186" y="97.526" width="1.3" height="42.094" fill="url(#g168)"/><rect x="187" y="97.582" width="1.3" height="41.871" fill="url(#g168)"/><rect x="188" y="97.498" width="1.3" height="41.698" fill="url(#g169)"/><rect x="189" y="97.349" width="1.3" height="41.549" fill="url(#g170)"/><rect x="190" y="97.2" width="1.3" height="41.4" fill="url(#g170)"/><rect x="191" y="97.051" width="1.3" height="41.251" fill="url(#g171)"/><rect x="192" y="96.902" width="1.3" height="41.102" fill="url(#g172)"/><rect x="193" y="96.818" width="1.3" height="40.97" fill="url(#g172)"/><rect x="194" y="96.874" width="1.3" height="40.877" fill="url(#g173)"/><rect x="195" y="96.93" width="1.3" height="40.784" fill="url(#g173)"/><rect x="196" y="96.986" width="1.3" height="40.691" fill="url(#g173)"/><rect x="197" y="97.041" width="1.3" height="40.598" fill="url(#g174)"/><rect x="198" y="97.097" width="1.3" height="40.504" fill="url(#g174)"/><rect x="199" y="97.135" width="1.3" height="40.305" fill="url(#g175)"/><rect x="200" y="97.173" width="1.3" height="40.1" fill="url(#g176)"/><rect x="201" y="97.21" width="1.3" height="39.895" fill="url(#g177)"/><rect x="202" y="97.247" width="1.3" height="39.69" fill="url(#g178)"/><rect x="203" y="97.285" width="1.3" height="39.485" fill="url(#g179)"/><rect x="204" y="97.267" width="1.3" height="39.378" fill="url(#g179)"/><rect x="205" y="97.211" width="1.3" height="39.341" fill="url(#g179)"/><rect x="206" y="97.155" width="1.3" height="39.304" fill="url(#g179)"/><rect x="207" y="97.1" width="1.3" height="39.266" fill="url(#g180)"/><rect x="208" y="97.044" width="1.3" height="39.229" fill="url(#g180)"/><rect x="209" y="96.947" width="1.3" height="39.204" fill="url(#g180)"/><rect x="210" y="96.704" width="1.3" height="39.223" fill="url(#g180)"/><rect x="211" y="96.462" width="1.3" height="39.241" fill="url(#g180)"/><rect x="212" y="96.22" width="1.3" height="39.26" fill="url(#g180)"/><rect x="213" y="95.978" width="1.3" height="39.279" fill="url(#g180)"/><rect x="214" y="95.735" width="1.3" height="39.297" fill="url(#g179)"/><rect x="215" y="95.875" width="1.3" height="39.125" fill="url(#g180)"/><rect x="216" y="96.08" width="1.3" height="38.92" fill="url(#g181)"/><rect x="217" y="96.285" width="1.3" height="38.715" fill="url(#g182)"/><rect x="218" y="96.49" width="1.3" height="38.51" fill="url(#g183)"/><rect x="219" y="96.695" width="1.3" height="38.305" fill="url(#g184)"/><rect x="220" y="96.654" width="1.3" height="38.291" fill="url(#g184)"/><rect x="221" y="96.356" width="1.3" height="38.477" fill="url(#g183)"/><rect x="222" y="96.058" width="1.3" height="38.664" fill="url(#g182)"/><rect x="223" y="95.76" width="1.3" height="38.85" fill="url(#g182)"/><rect x="224" y="95.462" width="1.3" height="39.036" fill="url(#g181)"/><rect x="225" y="95.23" width="1.3" height="39.173" fill="url(#g180)"/><rect x="226" y="95.472" width="1.3" height="38.949" fill="url(#g181)"/><rect x="227" y="95.714" width="1.3" height="38.725" fill="url(#g182)"/><rect x="228" y="95.956" width="1.3" height="38.502" fill="url(#g183)"/><rect x="229" y="96.199" width="1.3" height="38.278" fill="url(#g184)"/><rect x="230" y="96.441" width="1.3" height="38.055" fill="url(#g185)"/><rect x="231" y="96.81" width="1.3" height="37.69" fill="url(#g187)"/><rect x="232" y="97.22" width="1.3" height="37.28" fill="url(#g189)"/><rect x="233" y="97.63" width="1.3" height="36.87" fill="url(#g191)"/><rect x="234" y="98.04" width="1.3" height="36.46" fill="url(#g194)"/><rect x="235" y="98.45" width="1.3" height="36.05" fill="url(#g196)"/><rect x="236" y="98.678" width="1.3" height="35.807" fill="url(#g197)"/><rect x="237" y="98.622" width="1.3" height="35.826" fill="url(#g197)"/><rect x="238" y="98.566" width="1.3" height="35.845" fill="url(#g197)"/><rect x="239" y="98.51" width="1.3" height="35.863" fill="url(#g197)"/><rect x="240" y="98.455" width="1.3" height="35.882" fill="url(#g197)"/><rect x="241" y="98.396" width="1.3" height="35.902" fill="url(#g196)"/><rect x="242" y="98.247" width="1.3" height="35.976" fill="url(#g196)"/><rect x="243" y="98.098" width="1.3" height="36.051" fill="url(#g196)"/><rect x="244" y="97.949" width="1.3" height="36.125" fill="url(#g195)"/><rect x="245" y="97.8" width="1.3" height="36.2" fill="url(#g195)"/><rect x="246" y="97.651" width="1.3" height="36.275" fill="url(#g194)"/><rect x="247" y="97.526" width="1.3" height="36.3" fill="url(#g194)"/><rect x="248" y="97.415" width="1.3" height="36.3" fill="url(#g194)"/><rect x="249" y="97.303" width="1.3" height="36.3" fill="url(#g194)"/><rect x="250" y="97.191" width="1.3" height="36.3" fill="url(#g194)"/><rect x="251" y="97.079" width="1.3" height="36.3" fill="url(#g194)"/><rect x="252" y="96.956" width="1.3" height="36.322" fill="url(#g194)"/><rect x="253" y="96.807" width="1.3" height="36.396" fill="url(#g194)"/><rect x="254" y="96.658" width="1.3" height="36.471" fill="url(#g193)"/><rect x="255" y="96.509" width="1.3" height="36.545" fill="url(#g193)"/><rect x="256" y="96.36" width="1.3" height="36.62" fill="url(#g193)"/><rect x="257" y="96.211" width="1.3" height="36.694" fill="url(#g192)"/><rect x="258" y="95.924" width="1.3" height="36.769" fill="url(#g192)"/><rect x="259" y="95.626" width="1.3" height="36.844" fill="url(#g191)"/><rect x="260" y="95.328" width="1.3" height="36.918" fill="url(#g191)"/><rect x="261" y="95.029" width="1.3" height="36.993" fill="url(#g191)"/><rect x="262" y="94.731" width="1.3" height="37.067" fill="url(#g190)"/><rect x="263" y="94.642" width="1.3" height="37.006" fill="url(#g191)"/><rect x="264" y="94.716" width="1.3" height="36.838" fill="url(#g191)"/><rect x="265" y="94.791" width="1.3" height="36.671" fill="url(#g192)"/><rect x="266" y="94.865" width="1.3" height="36.503" fill="url(#g193)"/><rect x="267" y="94.94" width="1.3" height="36.335" fill="url(#g194)"/><rect x="268" y="95.029" width="1.3" height="36.157" fill="url(#g195)"/><rect x="269" y="95.178" width="1.3" height="35.933" fill="url(#g196)"/><rect x="270" y="95.327" width="1.3" height="35.709" fill="url(#g197)"/><rect x="271" y="95.476" width="1.3" height="35.486" fill="url(#g198)"/><rect x="272" y="95.625" width="1.3" height="35.262" fill="url(#g199)"/><rect x="273" y="95.774" width="1.3" height="35.038" fill="url(#g200)"/><rect x="274" y="95.939" width="1.3" height="34.83" fill="url(#g200)"/><rect x="275" y="96.107" width="1.3" height="34.625" fill="url(#g200)"/><rect x="276" y="96.274" width="1.3" height="34.42" fill="url(#g200)"/><rect x="277" y="96.442" width="1.3" height="34.215" fill="url(#g200)"/><rect x="278" y="96.61" width="1.3" height="34.01" fill="url(#g200)"/><rect x="279" y="96.623" width="1.3" height="33.926" fill="url(#g200)"/><rect x="280" y="96.455" width="1.3" height="33.982" fill="url(#g200)"/><rect x="281" y="96.287" width="1.3" height="34.038" fill="url(#g200)"/><rect x="282" y="96.119" width="1.3" height="34.094" fill="url(#g200)"/><rect x="283" y="95.952" width="1.3" height="34.149" fill="url(#g200)"/><rect x="284" y="95.8" width="0.2" height="34.2" fill="url(#g200)"/></g><path d="M48.50 146.45H284.50" stroke="#ff00ff" stroke-width="2.4" stroke-dasharray="3.65 3.44"/><text x="43.50" y="38.80" text-anchor="end">1.06</text><text x="43.50" y="76.10" text-anchor="end">1.04</text><text x="43.50" y="113.40" text-anchor="end">1.02</text><text x="43.50" y="150.70" text-anchor="end">1</text><text x="43.50" y="188.00" text-anchor="end">0.98</text><text x="96.59" y="219.40" text-anchor="middle">10</text><text x="150.25" y="219.40" text-anchor="middle">20</text><text x="203.91" y="219.40" text-anchor="middle">30</text><text x="257.57" y="219.40" text-anchor="middle">40</text><text x="136.00" y="237.10" font-size="12.8" letter-spacing="0.7" word-spacing="-0.2">Time steps</text><text transform="translate(11.10 144.70) rotate(-90)" font-size="12.4" letter-spacing="0.3" word-spacing="0.9">Temperature <tspan font-style="italic" font-size="13.6">T</tspan><tspan font-size="9" dy="2.3" dx="-0.2">3</tspan></text><linearGradient id="cb0" x1="0" y1="0" x2="0" y2="1"><stop offset="0" stop-color="#800000"/><stop offset="0.125" stop-color="#ff0000"/><stop offset="0.375" stop-color="#ffff00"/><stop offset="0.625" stop-color="#00ffff"/><stop offset="0.875" stop-color="#0000ff"/><stop offset="1" stop-color="#000080"/></linearGradient><rect x="294.40" y="2.50" width="17.00" height="203.90" fill="url(#cb0)" stroke="#444" stroke-width="0.6"/><path d="M294.40 61.10h4M311.40 61.10h-4" stroke="#9a9a9a" stroke-width="0.6" stroke-dasharray="2 1"/><text x="316.60" y="65.20">100</text><path d="M294.40 133.70h4M311.40 133.70h-4" stroke="#9a9a9a" stroke-width="0.6" stroke-dasharray="2 1"/><text x="316.60" y="137.80">50</text><rect x="120.00" y="6.40" width="159.60" height="39.70" fill="#fff" stroke="#555" stroke-width="0.6"/><g><path d="M133.10 8.90L134.55 9.49L133.44 10.35L132.01 9.68z" fill="#8e1000"/><path d="M132.27 9.49L133.70 10.14L132.63 11.04L131.22 10.30z" fill="#941200"/><path d="M131.46 10.10L132.88 10.82L131.85 11.75L130.45 10.95z" fill="#9a1400"/><path d="M130.69 10.74L132.09 11.52L131.09 12.48L129.71 11.63z" fill="#a01500"/><path d="M129.94 11.41L131.32 12.25L130.36 13.24L129.00 12.33z" fill="#a61700"/><path d="M129.22 12.11L130.59 13.00L129.65 14.03L128.32 13.06z" fill="#ac1900"/><path d="M128.53 12.83L129.87 13.78L128.98 14.83L127.67 13.81z" fill="#9a0911"/><path d="M127.87 13.57L129.19 14.58L128.33 15.67L127.05 14.59z" fill="#a91311"/><path d="M127.24 14.35L128.53 15.40L127.71 16.52L126.45 15.40z" fill="#b81d11"/><path d="M126.64 15.14L127.90 16.25L127.11 17.40L125.89 16.24z" fill="#c72711"/><path d="M126.06 15.97L127.29 17.12L126.54 18.31L125.35 17.10z" fill="#d63111"/><path d="M125.52 16.82L126.72 18.02L126.17 18.94L125.00 17.70z" fill="#e53b11"/><path d="M134.21 9.34L135.63 9.98L134.51 10.90L133.10 10.19z" fill="#a32f00"/><path d="M133.36 9.98L134.77 10.67L133.69 11.63L132.29 10.86z" fill="#a93100"/><path d="M132.55 10.65L133.95 11.39L132.90 12.38L131.51 11.56z" fill="#af3200"/><path d="M131.76 11.33L133.14 12.14L132.13 13.15L130.76 12.28z" fill="#b53400"/><path d="M130.99 12.05L132.37 12.90L131.38 13.95L130.03 13.02z" fill="#bc3600"/><path d="M130.26 12.78L131.61 13.69L130.67 14.77L129.34 13.79z" fill="#96401f"/><path d="M129.55 13.55L130.89 14.51L129.97 15.61L128.66 14.59z" fill="#833030"/><path d="M128.87 14.34L130.19 15.34L129.31 16.48L128.02 15.41z" fill="#830832"/><path d="M128.22 15.15L129.51 16.20L128.67 17.36L127.40 16.26z" fill="#921132"/><path d="M127.60 15.99L128.87 17.08L128.05 18.28L126.82 17.13z" fill="#a11c32"/><path d="M127.00 16.85L128.24 17.99L127.46 19.21L126.25 18.02z" fill="#b02632"/><path d="M126.43 17.74L127.65 18.92L127.08 19.87L125.88 18.65z" fill="#bf2f32"/><path d="M135.29 9.82L136.69 10.50L135.56 11.47L134.18 10.72z" fill="#b84e00"/><path d="M134.44 10.50L135.83 11.23L134.74 12.24L133.36 11.44z" fill="#be5000"/><path d="M133.61 11.21L134.99 11.99L133.93 13.02L132.57 12.18z" fill="#c45100"/><path d="M132.81 11.94L134.18 12.77L133.16 13.83L131.80 12.94z" fill="#ca5300"/><path d="M132.04 12.70L133.40 13.57L132.41 14.66L131.06 13.72z" fill="#a55d1f"/><path d="M131.29 13.47L132.64 14.40L131.68 15.51L130.35 14.53z" fill="#7f673e"/><path d="M130.57 14.28L131.90 15.24L130.97 16.39L129.66 15.37z" fill="#6d574e"/><path d="M129.87 15.10L131.19 16.11L130.29 17.28L129.00 16.22z" fill="#6d2f51"/><path d="M129.20 15.95L130.51 17.00L129.64 18.20L128.36 17.10z" fill="#6d0653"/><path d="M128.56 16.82L129.84 17.91L129.01 19.14L127.75 18.00z" fill="#7c1053"/><path d="M127.94 17.72L129.20 18.84L128.40 20.10L127.17 18.93z" fill="#8b1a53"/><path d="M127.35 18.64L128.59 19.79L128.00 20.77L126.79 19.58z" fill="#9a2453"/><path d="M136.35 10.33L137.72 11.05L136.60 12.07L135.23 11.29z" fill="#cd6d00"/><path d="M135.50 11.06L136.86 11.82L135.77 12.87L134.41 12.04z" fill="#d36e00"/><path d="M134.67 11.80L136.03 12.61L134.96 13.69L133.61 12.82z" fill="#d97000"/><path d="M133.86 12.57L135.22 13.43L134.18 14.52L132.83 13.61z" fill="#b47a1f"/><path d="M133.08 13.36L134.43 14.26L133.42 15.38L132.08 14.43z" fill="#8e843e"/><path d="M132.32 14.17L133.66 15.11L132.69 16.26L131.36 15.28z" fill="#698e5c"/><path d="M131.58 15.01L132.92 15.98L131.98 17.16L130.66 16.14z" fill="#567f6d"/><path d="M130.88 15.87L132.20 16.88L131.29 18.08L129.98 17.03z" fill="#565670"/><path d="M130.19 16.75L131.50 17.79L130.62 19.02L129.33 17.94z" fill="#562d72"/><path d="M129.53 17.65L130.83 18.72L129.98 19.98L128.71 18.87z" fill="#560475"/><path d="M128.90 18.57L130.18 19.68L129.36 20.96L128.10 19.82z" fill="#650e75"/><path d="M128.29 19.52L129.55 20.65L128.95 21.65L127.71 20.49z" fill="#741875"/><path d="M137.40 10.87L138.74 11.64L137.62 12.69L136.27 11.88z" fill="#e28c00"/><path d="M136.54 11.63L137.88 12.44L136.79 13.52L135.45 12.67z" fill="#e88d00"/><path d="M135.70 12.42L137.05 13.26L135.98 14.37L134.64 13.47z" fill="#c3971f"/><path d="M134.89 13.22L136.24 14.10L135.20 15.23L133.86 14.30z" fill="#9ea13e"/><path d="M134.10 14.04L135.44 14.96L134.44 16.11L133.10 15.15z" fill="#78ab5c"/><path d="M133.34 14.88L134.68 15.83L133.70 17.02L132.37 16.02z" fill="#52b57b"/><path d="M132.60 15.75L133.93 16.73L132.98 17.94L131.66 16.92z" fill="#40a68c"/><path d="M131.88 16.63L133.20 17.64L132.28 18.88L130.97 17.83z" fill="#407d8e"/><path d="M131.19 17.54L132.50 18.58L131.61 19.84L130.31 18.76z" fill="#405491"/><path d="M130.52 18.47L131.82 19.53L130.96 20.81L129.67 19.72z" fill="#402b94"/><path d="M129.87 19.41L131.16 20.50L130.33 21.81L129.05 20.69z" fill="#400296"/><path d="M129.25 20.38L130.52 21.50L129.91 22.51L128.65 21.37z" fill="#4f0c96"/><path d="M138.42 11.45L139.73 12.26L138.62 13.35L137.30 12.49z" fill="#f8aa00"/><path d="M137.56 12.24L138.88 13.08L137.80 14.20L136.47 13.31z" fill="#d2b41f"/><path d="M136.73 13.05L138.05 13.93L136.99 15.07L135.66 14.15z" fill="#acbe3e"/><path d="M135.92 13.88L137.24 14.79L136.21 15.95L134.88 15.01z" fill="#87c85c"/><path d="M135.12 14.73L136.46 15.67L135.45 16.85L134.12 15.88z" fill="#61d27b"/><path d="M134.36 15.60L135.69 16.57L134.71 17.77L133.38 16.78z" fill="#3cdc9a"/><path d="M133.61 16.49L134.94 17.48L133.99 18.71L132.66 17.69z" fill="#29cdab"/><path d="M132.89 17.40L134.21 18.41L133.29 19.67L131.97 18.63z" fill="#29a4ad"/><path d="M132.19 18.33L133.51 19.37L132.61 20.64L131.30 19.58z" fill="#297bb0"/><path d="M131.51 19.28L132.82 20.33L131.95 21.63L130.65 20.55z" fill="#2952b2"/><path d="M130.85 20.25L132.16 21.32L131.31 22.64L130.02 21.55z" fill="#292ab5"/><path d="M130.21 21.23L131.51 22.32L130.89 23.34L129.60 22.24z" fill="#2901b7"/><path d="M139.42 12.06L140.71 12.91L139.61 14.03L138.31 13.14z" fill="#e1c419"/><path d="M138.57 12.88L139.87 13.76L138.79 14.90L137.48 13.98z" fill="#bbce37"/><path d="M137.74 13.71L139.04 14.62L137.99 15.78L136.68 14.84z" fill="#96d856"/><path d="M136.93 14.57L138.24 15.50L137.21 16.68L135.89 15.72z" fill="#70e275"/><path d="M136.14 15.44L137.46 16.40L136.46 17.60L135.13 16.62z" fill="#4bec94"/><path d="M135.37 16.33L136.69 17.31L135.72 18.54L134.39 17.53z" fill="#25f6b3"/><path d="M134.62 17.24L135.95 18.24L135.00 19.49L133.67 18.47z" fill="#1bd2c0"/><path d="M133.89 18.17L135.22 19.19L134.30 20.46L132.97 19.42z" fill="#1ba9c3"/><path d="M133.19 19.12L134.52 20.15L133.62 21.44L132.29 20.39z" fill="#1b80c5"/><path d="M132.50 20.08L133.83 21.13L132.96 22.44L131.64 21.38z" fill="#1b57c8"/><path d="M131.84 21.06L133.16 22.12L132.31 23.45L131.00 22.38z" fill="#1b2fca"/><path d="M131.20 22.06L132.51 23.13L131.89 24.16L130.58 23.08z" fill="#1b06cd"/><path d="M140.40 12.70L141.66 13.59L140.58 14.73L139.30 13.81z" fill="#cad02b"/><path d="M139.56 13.54L140.83 14.46L139.77 15.62L138.48 14.67z" fill="#a5da4a"/><path d="M138.73 14.40L140.02 15.34L138.98 16.52L137.68 15.55z" fill="#80e469"/><path d="M137.93 15.28L139.23 16.23L138.21 17.43L136.90 16.45z" fill="#5aee87"/><path d="M137.14 16.17L138.45 17.14L137.46 18.36L136.14 17.37z" fill="#34f8a6"/><path d="M136.38 17.08L137.70 18.07L136.73 19.30L135.40 18.30z" fill="#20d9be"/><path d="M135.63 18.00L136.96 19.01L136.01 20.26L134.68 19.24z" fill="#16b5cc"/><path d="M134.90 18.94L136.23 19.96L135.31 21.24L133.98 20.21z" fill="#168cce"/><path d="M134.20 19.90L135.53 20.93L134.64 22.23L133.30 21.19z" fill="#1663d1"/><path d="M133.51 20.88L134.85 21.91L133.97 23.23L132.64 22.19z" fill="#163ad3"/><path d="M132.84 21.87L134.18 22.91L133.33 24.25L132.00 23.20z" fill="#1612d6"/><path d="M132.20 22.88L133.53 23.93L132.90 24.95L131.57 23.90z" fill="#1606c1"/><path d="M141.37 13.37L142.60 14.31L141.53 15.47L140.27 14.51z" fill="#b4db3d"/><path d="M140.53 14.23L141.78 15.19L140.74 16.36L139.46 15.39z" fill="#8fe55c"/><path d="M139.72 15.11L140.98 16.08L139.96 17.27L138.67 16.28z" fill="#69ef7b"/><path d="M138.92 16.00L140.20 16.98L139.20 18.19L137.90 17.19z" fill="#44f99a"/><path d="M138.14 16.91L139.44 17.90L138.46 19.13L137.14 18.12z" fill="#30dab2"/><path d="M137.38 17.83L138.69 18.83L137.74 20.08L136.41 19.06z" fill="#1bbcca"/><path d="M136.64 18.76L137.96 19.78L137.03 21.04L135.69 20.02z" fill="#1298d7"/><path d="M135.92 19.72L137.25 20.73L136.34 22.01L134.99 20.99z" fill="#126fda"/><path d="M135.21 20.68L136.55 21.71L135.66 23.00L134.31 21.98z" fill="#1246dc"/><path d="M134.53 21.67L135.87 22.69L135.00 24.01L133.65 22.98z" fill="#121ddf"/><path d="M133.86 22.66L135.21 23.69L134.36 25.02L133.01 24.00z" fill="#1212ca"/><path d="M133.21 23.68L134.56 24.70L133.94 25.73L132.58 24.71z" fill="#1206b5"/><path d="M142.30 14.08L143.51 15.06L142.47 16.23L141.23 15.23z" fill="#9ee750"/><path d="M141.49 14.95L142.71 15.95L141.69 17.13L140.43 16.12z" fill="#78f16e"/><path d="M140.68 15.84L141.93 16.84L140.93 18.04L139.65 17.03z" fill="#53fb8d"/><path d="M139.90 16.74L141.17 17.75L140.19 18.97L138.89 17.95z" fill="#3edca5"/><path d="M139.13 17.66L140.42 18.67L139.46 19.90L138.15 18.89z" fill="#2abdbe"/><path d="M138.38 18.59L139.69 19.61L138.74 20.85L137.42 19.83z" fill="#169ed6"/><path d="M137.65 19.53L138.97 20.55L138.05 21.81L136.71 20.79z" fill="#0c7ae3"/><path d="M136.93 20.49L138.26 21.51L137.36 22.79L136.01 21.77z" fill="#0c52e6"/><path d="M136.23 21.46L137.58 22.48L136.70 23.77L135.34 22.76z" fill="#0c29e8"/><path d="M135.55 22.45L136.91 23.46L136.05 24.77L134.68 23.76z" fill="#0c1dd3"/><path d="M134.88 23.45L136.25 24.46L135.41 25.78L134.04 24.78z" fill="#0c12be"/><path d="M134.24 24.46L135.61 25.46L134.99 26.48L133.61 25.49z" fill="#0c06a9"/><path d="M143.22 14.82L144.40 15.84L143.39 17.01L142.17 15.98z" fill="#87f262"/><path d="M142.42 15.70L143.63 16.73L142.63 17.92L141.39 16.88z" fill="#62fc81"/><path d="M141.64 16.60L142.87 17.63L141.89 18.83L140.63 17.80z" fill="#4ede99"/><path d="M140.87 17.51L142.12 18.54L141.16 19.75L139.88 18.72z" fill="#3abfb1"/><path d="M140.11 18.43L141.39 19.46L140.45 20.69L139.14 19.66z" fill="#26a0c9"/><path d="M139.37 19.36L140.67 20.39L139.75 21.63L138.43 20.61z" fill="#1181e1"/><path d="M138.65 20.31L139.97 21.33L139.07 22.59L137.73 21.57z" fill="#085def"/><path d="M137.94 21.27L139.28 22.29L138.40 23.56L137.04 22.54z" fill="#0834f1"/><path d="M137.25 22.24L138.61 23.25L137.74 24.53L136.37 23.53z" fill="#0829dc"/><path d="M136.58 23.22L137.95 24.22L137.10 25.52L135.72 24.53z" fill="#081dc7"/><path d="M135.92 24.22L137.30 25.21L136.48 26.52L135.08 25.54z" fill="#0812b2"/><path d="M135.28 25.22L136.67 26.21L136.06 27.21L134.65 26.25z" fill="#08069d"/><path d="M144.12 15.59L145.00 16.40L144.01 17.57L143.10 16.76z" fill="#70fe74"/><path d="M143.34 16.48L144.24 17.29L143.27 18.47L142.34 17.67z" fill="#5cdf8c"/><path d="M142.57 17.38L143.50 18.19L142.54 19.38L141.59 18.58z" fill="#48c1a5"/><path d="M141.82 18.29L142.77 19.09L141.83 20.30L140.86 19.50z" fill="#35a2bd"/><path d="M141.08 19.21L142.05 20.01L141.13 21.23L140.14 20.44z" fill="#2183d5"/><path d="M140.36 20.14L141.35 20.94L140.44 22.17L139.43 21.39z" fill="#0c64ed"/><path d="M139.65 21.09L140.66 21.87L139.77 23.12L138.75 22.35z" fill="#0340fa"/><path d="M138.96 22.04L139.98 22.82L139.11 24.08L138.07 23.31z" fill="#0334e5"/><path d="M138.28 23.01L139.32 23.78L138.47 25.05L137.41 24.30z" fill="#0329d0"/><path d="M137.62 23.99L138.67 24.74L137.83 26.03L136.77 25.29z" fill="#031dbb"/><path d="M136.97 24.97L138.03 25.72L137.22 27.02L136.14 26.29z" fill="#0312a6"/><path d="M136.34 25.97L137.41 26.70L136.80 27.70L135.72 26.98z" fill="#030691"/></g><path d="M124.90 36.00h18.2" stroke="#ff00ff" stroke-width="2.3" stroke-dasharray="4.1 2.9"/><text x="148.90" y="24.10" font-size="12.8" letter-spacing="0.58" word-spacing="1.30">Uncertainty</text><text x="219.90" y="24.10" font-size="12.8" letter-spacing="0.00" word-spacing="1.30">at</text><path d="M236.30 19.55h9.2M236.30 23.90h9.2M240.90 15.90v7.6" stroke="#222" stroke-width="0.62" fill="none"/><text x="246.00" y="24.10" font-size="12.8" letter-spacing="0.50" word-spacing="0.00">3.std</text><text x="183.90" y="39.10" font-size="12.8" letter-spacing="0.60" word-spacing="0.00">Objective</text><g stroke="#a8a8a8" stroke-width="0.7" fill="none"><path d="M446.45 206.40v-5M446.45 2.50v5"/><path d="M499.95 206.40v-5M499.95 2.50v5"/><path d="M553.45 206.40v-5M553.45 2.50v5"/><path d="M606.95 206.40v-5M606.95 2.50v5"/><path d="M398.50 22.20h5M633.50 22.20h-5"/><path d="M398.50 55.10h5M633.50 55.10h-5"/><path d="M398.50 88.00h5M633.50 88.00h-5"/><path d="M398.50 120.90h5M633.50 120.90h-5"/><path d="M398.50 153.80h5M633.50 153.80h-5"/><path d="M398.50 186.70h5M633.50 186.70h-5"/></g><rect x="398.50" y="2.50" width="235.00" height="203.90" fill="none" stroke="#666" stroke-width="0.75"/><clipPath id="cp1"><path d="M398.30 20.70L403.65 11.40L409.00 2.30L414.35 17.00L419.70 53.80L425.05 80.50L430.40 100.50L435.75 103.30L441.10 104.90L446.45 104.40L451.80 109.50L457.15 113.30L462.50 110.20L467.85 114.80L473.20 116.30L478.55 118.00L483.90 118.40L489.25 118.40L494.60 117.90L499.95 119.30L505.30 119.50L510.65 120.50L516.00 122.00L521.35 122.20L526.70 122.90L532.05 123.90L537.40 124.60L542.75 126.90L548.10 125.70L553.45 125.70L558.80 127.40L564.15 128.60L569.50 128.30L574.85 128.30L580.20 130.10L585.55 129.10L590.90 129.80L596.25 130.60L601.60 131.10L606.95 131.60L612.30 131.90L617.65 132.40L623.00 132.70L628.35 133.00L633.70 133.30L633.70 151.90L628.35 152.00L623.00 152.00L617.65 152.10L612.30 152.20L606.95 152.40L601.60 152.50L596.25 152.80L590.90 152.80L585.55 152.60L580.20 154.00L574.85 153.00L569.50 153.30L564.15 153.60L558.80 153.40L553.45 153.20L548.10 153.30L542.75 153.80L537.40 153.50L532.05 153.60L526.70 153.60L521.35 153.70L516.00 153.80L510.65 153.80L505.30 154.00L499.95 154.20L494.60 154.00L489.25 154.40L483.90 154.90L478.55 156.30L473.20 154.90L467.85 153.10L462.50 150.80L457.15 156.10L451.80 153.50L446.45 150.30L441.10 152.00L435.75 153.20L430.40 155.30L425.05 136.90L419.70 153.50L414.35 130.80L409.00 133.60L403.65 163.00L398.30 206.00z"/></clipPath><path d="M398.30 20.70L403.65 11.40L409.00 2.30L414.35 17.00L419.70 53.80L425.05 80.50L430.40 100.50L435.75 103.30L441.10 104.90L446.45 104.40L451.80 109.50L457.15 113.30L462.50 110.20L467.85 114.80L473.20 116.30L478.55 118.00L483.90 118.40L489.25 118.40L494.60 117.90L499.95 119.30L505.30 119.50L510.65 120.50L516.00 122.00L521.35 122.20L526.70 122.90L532.05 123.90L537.40 124.60L542.75 126.90L548.10 125.70L553.45 125.70L558.80 127.40L564.15 128.60L569.50 128.30L574.85 128.30L580.20 130.10L585.55 129.10L590.90 129.80L596.25 130.60L601.60 131.10L606.95 131.60L612.30 131.90L617.65 132.40L623.00 132.70L628.35 133.00L633.70 133.30L633.70 151.90L628.35 152.00L623.00 152.00L617.65 152.10L612.30 152.20L606.95 152.40L601.60 152.50L596.25 152.80L590.90 152.80L585.55 152.60L580.20 154.00L574.85 153.00L569.50 153.30L564.15 153.60L558.80 153.40L553.45 153.20L548.10 153.30L542.75 153.80L537.40 153.50L532.05 153.60L526.70 153.60L521.35 153.70L516.00 153.80L510.65 153.80L505.30 154.00L499.95 154.20L494.60 154.00L489.25 154.40L483.90 154.90L478.55 156.30L473.20 154.90L467.85 153.10L462.50 150.80L457.15 156.10L451.80 153.50L446.45 150.30L441.10 152.00L435.75 153.20L430.40 155.30L425.05 136.90L419.70 153.50L414.35 130.80L409.00 133.60L403.65 163.00L398.30 206.00z" fill="#000082"/><g clip-path="url(#cp1)"><rect x="398.3" y="20.352" width="1" height="184.04" fill="url(#g23)"/><rect x="399" y="18.614" width="1.3" height="177.74" fill="url(#g24)"/><rect x="400" y="16.876" width="1.3" height="171.44" fill="url(#g25)"/><rect x="401" y="15.137" width="1.3" height="165.14" fill="url(#g26)"/><rect x="402" y="13.399" width="1.3" height="158.84" fill="url(#g27)"/><rect x="403" y="11.661" width="1.3" height="152.54" fill="url(#g28)"/><rect x="404" y="9.9542" width="1.3" height="148.37" fill="url(#g28)"/><rect x="405" y="8.2533" width="1.3" height="144.58" fill="url(#g29)"/><rect x="406" y="6.5523" width="1.3" height="140.79" fill="url(#g30)"/><rect x="407" y="4.8514" width="1.3" height="136.99" fill="url(#g31)"/><rect x="408" y="3.1505" width="1.3" height="133.2" fill="url(#g32)"/><rect x="409" y="3.6738" width="1.3" height="129.66" fill="url(#g32)"/><rect x="410" y="6.4215" width="1.3" height="126.39" fill="url(#g33)"/><rect x="411" y="9.1692" width="1.3" height="123.12" fill="url(#g34)"/><rect x="412" y="11.917" width="1.3" height="119.85" fill="url(#g35)"/><rect x="413" y="14.664" width="1.3" height="116.58" fill="url(#g36)"/><rect x="414" y="18.032" width="1.3" height="113.4" fill="url(#g37)"/><rect x="415" y="24.91" width="1.3" height="110.77" fill="url(#g38)"/><rect x="416" y="31.789" width="1.3" height="108.13" fill="url(#g39)"/><rect x="417" y="38.667" width="1.3" height="105.5" fill="url(#g40)"/><rect x="418" y="45.546" width="1.3" height="102.86" fill="url(#g41)"/><rect x="419" y="52.424" width="1.3" height="100.23" fill="url(#g42)"/><rect x="420" y="57.793" width="1.3" height="93.225" fill="url(#g47)"/><rect x="421" y="62.783" width="1.3" height="85.132" fill="url(#g53)"/><rect x="422" y="67.774" width="1.3" height="77.038" fill="url(#g59)"/><rect x="423" y="72.764" width="1.3" height="68.945" fill="url(#g65)"/><rect x="424" y="77.755" width="1.3" height="60.851" fill="url(#g71)"/><rect x="425" y="82.182" width="1.3" height="56.265" fill="url(#g75)"/><rect x="426" y="85.921" width="1.3" height="55.966" fill="url(#g75)"/><rect x="427" y="89.659" width="1.3" height="55.667" fill="url(#g76)"/><rect x="428" y="93.397" width="1.3" height="55.368" fill="url(#g76)"/><rect x="429" y="97.136" width="1.3" height="55.069" fill="url(#g76)"/><rect x="430" y="100.53" width="1.3" height="54.708" fill="url(#g77)"/><rect x="431" y="100.87" width="1.3" height="53.793" fill="url(#g79)"/><rect x="432" y="101.21" width="1.3" height="52.877" fill="url(#g82)"/><rect x="433" y="101.54" width="1.3" height="51.961" fill="url(#g84)"/><rect x="434" y="101.88" width="1.3" height="51.045" fill="url(#g86)"/><rect x="435" y="102.22" width="1.3" height="50.129" fill="url(#g89)"/><rect x="436" y="102.45" width="1.3" height="49.507" fill="url(#g91)"/><rect x="437" y="102.66" width="1.3" height="48.984" fill="url(#g92)"/><rect x="438" y="102.87" width="1.3" height="48.461" fill="url(#g94)"/><rect x="439" y="103.07" width="1.3" height="47.937" fill="url(#g96)"/><rect x="440" y="103.28" width="1.3" height="47.414" fill="url(#g97)"/><rect x="441" y="103.36" width="1.3" height="47.01" fill="url(#g99)"/><rect x="442" y="103.27" width="1.3" height="46.786" fill="url(#g100)"/><rect x="443" y="103.18" width="1.3" height="46.562" fill="url(#g101)"/><rect x="444" y="103.08" width="1.3" height="46.337" fill="url(#g103)"/><rect x="445" y="102.99" width="1.3" height="46.113" fill="url(#g104)"/><rect x="446" y="102.96" width="1.3" height="45.882" fill="url(#g105)"/><rect x="447" y="104.1" width="1.3" height="45.527" fill="url(#g104)"/><rect x="448" y="105.24" width="1.3" height="45.172" fill="url(#g103)"/><rect x="449" y="106.38" width="1.3" height="44.817" fill="url(#g101)"/><rect x="450" y="107.52" width="1.3" height="44.462" fill="url(#g100)"/><rect x="451" y="108.66" width="1.3" height="44.107" fill="url(#g99)"/><rect x="452" y="109.52" width="1.3" height="43.843" fill="url(#g98)"/><rect x="453" y="110.27" width="1.3" height="43.619" fill="url(#g98)"/><rect x="454" y="111.02" width="1.3" height="43.394" fill="url(#g98)"/><rect x="455" y="111.77" width="1.3" height="43.17" fill="url(#g98)"/><rect x="456" y="112.51" width="1.3" height="42.946" fill="url(#g98)"/><rect x="457" y="112.8" width="1.3" height="42.656" fill="url(#g99)"/><rect x="458" y="112.22" width="1.3" height="42.245" fill="url(#g100)"/><rect x="459" y="111.64" width="1.3" height="41.834" fill="url(#g101)"/><rect x="460" y="111.06" width="1.3" height="41.422" fill="url(#g102)"/><rect x="461" y="110.48" width="1.3" height="41.011" fill="url(#g103)"/><rect x="462" y="109.9" width="1.3" height="40.6" fill="url(#g104)"/><rect x="463" y="110.72" width="1.3" height="40.17" fill="url(#g105)"/><rect x="464" y="111.54" width="1.3" height="39.74" fill="url(#g106)"/><rect x="465" y="112.37" width="1.3" height="39.31" fill="url(#g107)"/><rect x="466" y="113.19" width="1.3" height="38.88" fill="url(#g108)"/><rect x="467" y="114.01" width="1.3" height="38.45" fill="url(#g109)"/><rect x="468" y="114.48" width="1.3" height="38.336" fill="url(#g110)"/><rect x="469" y="114.76" width="1.3" height="38.393" fill="url(#g109)"/><rect x="470" y="115.04" width="1.3" height="38.449" fill="url(#g109)"/><rect x="471" y="115.32" width="1.3" height="38.505" fill="url(#g109)"/><rect x="472" y="115.6" width="1.3" height="38.561" fill="url(#g109)"/><rect x="473" y="115.9" width="1.3" height="38.583" fill="url(#g109)"/><rect x="474" y="116.21" width="1.3" height="38.527" fill="url(#g109)"/><rect x="475" y="116.53" width="1.3" height="38.471" fill="url(#g109)"/><rect x="476" y="116.85" width="1.3" height="38.415" fill="url(#g109)"/><rect x="477" y="117.17" width="1.3" height="38.359" fill="url(#g110)"/><rect x="478" y="117.48" width="1.3" height="38.303" fill="url(#g110)"/><rect x="479" y="117.48" width="1.3" height="37.98" fill="url(#g111)"/><rect x="480" y="117.46" width="1.3" height="37.644" fill="url(#g112)"/><rect x="481" y="117.44" width="1.3" height="37.307" fill="url(#g113)"/><rect x="482" y="117.43" width="1.3" height="36.971" fill="url(#g114)"/><rect x="483" y="117.41" width="1.3" height="36.635" fill="url(#g115)"/><rect x="484" y="117.4" width="1.3" height="36.444" fill="url(#g115)"/><rect x="485" y="117.4" width="1.3" height="36.35" fill="url(#g116)"/><rect x="486" y="117.4" width="1.3" height="36.257" fill="url(#g116)"/><rect x="487" y="117.4" width="1.3" height="36.164" fill="url(#g116)"/><rect x="488" y="117.4" width="1.3" height="36.07" fill="url(#g117)"/><rect x="489" y="117.38" width="1.3" height="36.005" fill="url(#g117)"/><rect x="490" y="117.28" width="1.3" height="36.023" fill="url(#g117)"/><rect x="491" y="117.19" width="1.3" height="36.042" fill="url(#g117)"/><rect x="492" y="117.1" width="1.3" height="36.061" fill="url(#g117)"/><rect x="493" y="117" width="1.3" height="36.079" fill="url(#g117)"/><rect x="494" y="116.91" width="1.3" height="36.098" fill="url(#g116)"/><rect x="495" y="117.14" width="1.3" height="35.898" fill="url(#g117)"/><rect x="496" y="117.4" width="1.3" height="35.674" fill="url(#g118)"/><rect x="497" y="117.66" width="1.3" height="35.45" fill="url(#g119)"/><rect x="498" y="117.92" width="1.3" height="35.225" fill="url(#g119)"/><rect x="499" y="118.18" width="1.3" height="35.001" fill="url(#g120)"/><rect x="500" y="118.26" width="1.3" height="34.859" fill="url(#g121)"/><rect x="501" y="118.18" width="1.3" height="34.784" fill="url(#g121)"/><rect x="502" y="118.11" width="1.3" height="34.709" fill="url(#g121)"/><rect x="503" y="118.03" width="1.3" height="34.635" fill="url(#g121)"/><rect x="504" y="117.96" width="1.3" height="34.56" fill="url(#g122)"/><rect x="505" y="117.94" width="1.3" height="34.455" fill="url(#g122)"/><rect x="506" y="118.12" width="1.3" height="34.231" fill="url(#g123)"/><rect x="507" y="118.31" width="1.3" height="34.007" fill="url(#g124)"/><rect x="508" y="118.5" width="1.3" height="33.782" fill="url(#g124)"/><rect x="509" y="118.69" width="1.3" height="33.558" fill="url(#g125)"/><rect x="510" y="118.87" width="1.3" height="33.334" fill="url(#g126)"/><rect x="511" y="119.14" width="1.3" height="33.062" fill="url(#g127)"/><rect x="512" y="119.42" width="1.3" height="32.781" fill="url(#g128)"/><rect x="513" y="119.7" width="1.3" height="32.501" fill="url(#g129)"/><rect x="514" y="119.98" width="1.3" height="32.221" fill="url(#g131)"/><rect x="515" y="120.26" width="1.3" height="31.94" fill="url(#g132)"/><rect x="516" y="120.42" width="1.3" height="31.772" fill="url(#g132)"/><rect x="517" y="120.46" width="1.3" height="31.716" fill="url(#g133)"/><rect x="518" y="120.49" width="1.3" height="31.66" fill="url(#g133)"/><rect x="519" y="120.53" width="1.3" height="31.604" fill="url(#g133)"/><rect x="520" y="120.57" width="1.3" height="31.548" fill="url(#g133)"/><rect x="521" y="120.62" width="1.3" height="31.478" fill="url(#g134)"/><rect x="522" y="120.75" width="1.3" height="31.328" fill="url(#g134)"/><rect x="523" y="120.88" width="1.3" height="31.179" fill="url(#g135)"/><rect x="524" y="121.01" width="1.3" height="31.029" fill="url(#g135)"/><rect x="525" y="121.14" width="1.3" height="30.879" fill="url(#g136)"/><rect x="526" y="121.27" width="1.3" height="30.73" fill="url(#g137)"/><rect x="527" y="121.45" width="1.3" height="30.55" fill="url(#g138)"/><rect x="528" y="121.64" width="1.3" height="30.364" fill="url(#g138)"/><rect x="529" y="121.82" width="1.3" height="30.177" fill="url(#g139)"/><rect x="530" y="122.01" width="1.3" height="29.99" fill="url(#g140)"/><rect x="531" y="122.2" width="1.3" height="29.803" fill="url(#g141)"/><rect x="532" y="122.36" width="1.3" height="29.633" fill="url(#g142)"/><rect x="533" y="122.49" width="1.3" height="29.483" fill="url(#g143)"/><rect x="534" y="122.62" width="1.3" height="29.334" fill="url(#g143)"/><rect x="535" y="122.75" width="1.3" height="29.184" fill="url(#g144)"/><rect x="536" y="122.88" width="1.3" height="29.035" fill="url(#g145)"/><rect x="537" y="123.05" width="1.3" height="28.863" fill="url(#g146)"/><rect x="538" y="123.56" width="1.3" height="28.489" fill="url(#g148)"/><rect x="539" y="124.06" width="1.3" height="28.115" fill="url(#g150)"/><rect x="540" y="124.56" width="1.3" height="27.741" fill="url(#g152)"/><rect x="541" y="125.07" width="1.3" height="27.367" fill="url(#g154)"/><rect x="542" y="125.57" width="1.3" height="26.993" fill="url(#g156)"/><rect x="543" y="125.53" width="1.3" height="26.998" fill="url(#g156)"/><rect x="544" y="125.31" width="1.3" height="27.129" fill="url(#g155)"/><rect x="545" y="125.08" width="1.3" height="27.26" fill="url(#g154)"/><rect x="546" y="124.86" width="1.3" height="27.391" fill="url(#g153)"/><rect x="547" y="124.63" width="1.3" height="27.521" fill="url(#g153)"/><rect x="548" y="124.5" width="1.3" height="27.593" fill="url(#g152)"/><rect x="549" y="124.5" width="1.3" height="27.574" fill="url(#g152)"/><rect x="550" y="124.5" width="1.3" height="27.555" fill="url(#g153)"/><rect x="551" y="124.5" width="1.3" height="27.536" fill="url(#g153)"/><rect x="552" y="124.5" width="1.3" height="27.518" fill="url(#g153)"/><rect x="553" y="124.52" width="1.3" height="27.486" fill="url(#g153)"/><rect x="554" y="124.83" width="1.3" height="27.206" fill="url(#g155)"/><rect x="555" y="125.15" width="1.3" height="26.925" fill="url(#g156)"/><rect x="556" y="125.47" width="1.3" height="26.645" fill="url(#g158)"/><rect x="557" y="125.79" width="1.3" height="26.364" fill="url(#g160)"/><rect x="558" y="126.1" width="1.3" height="26.084" fill="url(#g161)"/><rect x="559" y="126.36" width="1.3" height="25.869" fill="url(#g163)"/><rect x="560" y="126.58" width="1.3" height="25.682" fill="url(#g164)"/><rect x="561" y="126.81" width="1.3" height="25.495" fill="url(#g165)"/><rect x="562" y="127.03" width="1.3" height="25.308" fill="url(#g166)"/><rect x="563" y="127.25" width="1.3" height="25.121" fill="url(#g167)"/><rect x="564" y="127.38" width="1.3" height="25" fill="url(#g168)"/><rect x="565" y="127.32" width="1.3" height="25" fill="url(#g168)"/><rect x="566" y="127.27" width="1.3" height="25" fill="url(#g168)"/><rect x="567" y="127.21" width="1.3" height="25" fill="url(#g168)"/><rect x="568" y="127.16" width="1.3" height="25" fill="url(#g168)"/><rect x="569" y="127.1" width="1.3" height="25" fill="url(#g168)"/><rect x="570" y="127.17" width="1.3" height="24.944" fill="url(#g169)"/><rect x="571" y="127.25" width="1.3" height="24.888" fill="url(#g169)"/><rect x="572" y="127.32" width="1.3" height="24.832" fill="url(#g169)"/><rect x="573" y="127.4" width="1.3" height="24.776" fill="url(#g170)"/><rect x="574" y="127.47" width="1.3" height="24.72" fill="url(#g170)"/><rect x="575" y="127.72" width="1.3" height="24.603" fill="url(#g171)"/><rect x="576" y="128.06" width="1.3" height="24.453" fill="url(#g172)"/><rect x="577" y="128.39" width="1.3" height="24.304" fill="url(#g173)"/><rect x="578" y="128.73" width="1.3" height="24.154" fill="url(#g174)"/><rect x="579" y="129.06" width="1.3" height="24.005" fill="url(#g175)"/><rect x="580" y="129.24" width="1.3" height="23.878" fill="url(#g176)"/><rect x="581" y="129.06" width="1.3" height="23.803" fill="url(#g177)"/><rect x="582" y="128.87" width="1.3" height="23.728" fill="url(#g177)"/><rect x="583" y="128.68" width="1.3" height="23.653" fill="url(#g178)"/><rect x="584" y="128.5" width="1.3" height="23.579" fill="url(#g178)"/><rect x="585" y="128.31" width="1.3" height="23.504" fill="url(#g179)"/><rect x="586" y="128.42" width="1.3" height="23.411" fill="url(#g180)"/><rect x="587" y="128.56" width="1.3" height="23.318" fill="url(#g180)"/><rect x="588" y="128.69" width="1.3" height="23.224" fill="url(#g181)"/><rect x="589" y="128.82" width="1.3" height="23.131" fill="url(#g182)"/><rect x="590" y="128.95" width="1.3" height="23.037" fill="url(#g182)"/><rect x="591" y="129.09" width="1.3" height="22.91" fill="url(#g184)"/><rect x="592" y="129.24" width="1.3" height="22.761" fill="url(#g185)"/><rect x="593" y="129.39" width="1.3" height="22.611" fill="url(#g186)"/><rect x="594" y="129.54" width="1.3" height="22.462" fill="url(#g187)"/><rect x="595" y="129.69" width="1.3" height="22.312" fill="url(#g188)"/><rect x="596" y="129.84" width="1.3" height="22.163" fill="url(#g190)"/><rect x="597" y="130.01" width="1.3" height="22.013" fill="url(#g191)"/><rect x="598" y="130.18" width="1.3" height="21.864" fill="url(#g192)"/><rect x="599" y="130.35" width="1.3" height="21.714" fill="url(#g194)"/><rect x="600" y="130.51" width="1.3" height="21.564" fill="url(#g195)"/><rect x="601" y="130.68" width="1.3" height="21.415" fill="url(#g196)"/><rect x="602" y="130.78" width="1.3" height="21.299" fill="url(#g197)"/><rect x="603" y="130.88" width="1.3" height="21.187" fill="url(#g198)"/><rect x="604" y="130.97" width="1.3" height="21.075" fill="url(#g198)"/><rect x="605" y="131.06" width="1.3" height="20.963" fill="url(#g199)"/><rect x="606" y="131.16" width="1.3" height="20.85" fill="url(#g200)"/><rect x="607" y="131.23" width="1.3" height="20.749" fill="url(#g200)"/><rect x="608" y="131.29" width="1.3" height="20.655" fill="url(#g200)"/><rect x="609" y="131.34" width="1.3" height="20.562" fill="url(#g200)"/><rect x="610" y="131.4" width="1.3" height="20.468" fill="url(#g200)"/><rect x="611" y="131.46" width="1.3" height="20.375" fill="url(#g200)"/><rect x="612" y="131.52" width="1.3" height="20.278" fill="url(#g200)"/><rect x="613" y="131.61" width="1.3" height="20.165" fill="url(#g200)"/><rect x="614" y="131.71" width="1.3" height="20.053" fill="url(#g200)"/><rect x="615" y="131.8" width="1.3" height="19.941" fill="url(#g200)"/><rect x="616" y="131.89" width="1.3" height="19.829" fill="url(#g200)"/><rect x="617" y="131.99" width="1.3" height="19.717" fill="url(#g200)"/><rect x="618" y="132.05" width="1.3" height="19.636" fill="url(#g200)"/><rect x="619" y="132.1" width="1.3" height="19.562" fill="url(#g200)"/><rect x="620" y="132.16" width="1.3" height="19.487" fill="url(#g200)"/><rect x="621" y="132.22" width="1.3" height="19.412" fill="url(#g200)"/><rect x="622" y="132.27" width="1.3" height="19.337" fill="url(#g200)"/><rect x="623" y="132.33" width="1.3" height="19.272" fill="url(#g200)"/><rect x="624" y="132.38" width="1.3" height="19.216" fill="url(#g200)"/><rect x="625" y="132.44" width="1.3" height="19.16" fill="url(#g200)"/><rect x="626" y="132.5" width="1.3" height="19.104" fill="url(#g200)"/><rect x="627" y="132.55" width="1.3" height="19.048" fill="url(#g200)"/><rect x="628" y="132.61" width="1.3" height="18.989" fill="url(#g200)"/><rect x="629" y="132.66" width="1.3" height="18.914" fill="url(#g200)"/><rect x="630" y="132.72" width="1.3" height="18.839" fill="url(#g200)"/><rect x="631" y="132.78" width="1.3" height="18.764" fill="url(#g200)"/><rect x="632" y="132.83" width="1.3" height="18.69" fill="url(#g200)"/><rect x="633" y="132.89" width="0.2" height="18.615" fill="url(#g200)"/></g><path d="M398.00 153.95H633.50" stroke="#ff00ff" stroke-width="2.4" stroke-dasharray="3.58 3.535"/><text x="393.50" y="26.20" text-anchor="end">1.08</text><text x="393.50" y="59.10" text-anchor="end">1.06</text><text x="393.50" y="92.00" text-anchor="end">1.04</text><text x="393.50" y="124.90" text-anchor="end">1.02</text><text x="393.50" y="157.80" text-anchor="end">1</text><text x="393.50" y="190.70" text-anchor="end">0.98</text><text x="446.45" y="219.40" text-anchor="middle">10</text><text x="499.95" y="219.40" text-anchor="middle">20</text><text x="553.45" y="219.40" text-anchor="middle">30</text><text x="606.95" y="219.40" text-anchor="middle">40</text><text x="486.00" y="237.10" font-size="12.8" letter-spacing="0.7" word-spacing="-0.2">Time steps</text><text transform="translate(361.10 144.70) rotate(-90)" font-size="12.4" letter-spacing="0.3" word-spacing="0.9">Temperature <tspan font-style="italic" font-size="13.6">T</tspan><tspan font-size="9" dy="2.3" dx="-0.2">3</tspan></text><linearGradient id="cb1" x1="0" y1="0" x2="0" y2="1"><stop offset="0" stop-color="#800000"/><stop offset="0.125" stop-color="#ff0000"/><stop offset="0.375" stop-color="#ffff00"/><stop offset="0.625" stop-color="#00ffff"/><stop offset="0.875" stop-color="#0000ff"/><stop offset="1" stop-color="#000080"/></linearGradient><rect x="644.20" y="2.50" width="16.80" height="203.90" fill="url(#cb1)" stroke="#444" stroke-width="0.6"/><path d="M644.20 47.50h4M661.00 47.50h-4" stroke="#9a9a9a" stroke-width="0.6" stroke-dasharray="2 1"/><text x="666.20" y="51.60">150</text><path d="M644.20 100.20h4M661.00 100.20h-4" stroke="#9a9a9a" stroke-width="0.6" stroke-dasharray="2 1"/><text x="666.20" y="104.30">100</text><path d="M644.20 152.90h4M661.00 152.90h-4" stroke="#9a9a9a" stroke-width="0.6" stroke-dasharray="2 1"/><text x="666.20" y="157.00">50</text><rect x="469.70" y="6.40" width="159.70" height="39.70" fill="#fff" stroke="#555" stroke-width="0.6"/><g><path d="M482.80 8.90L484.25 9.49L483.14 10.35L481.71 9.68z" fill="#8e1000"/><path d="M481.97 9.49L483.40 10.14L482.33 11.04L480.92 10.30z" fill="#941200"/><path d="M481.16 10.10L482.58 10.82L481.55 11.75L480.15 10.95z" fill="#9a1400"/><path d="M480.39 10.74L481.79 11.52L480.79 12.48L479.41 11.63z" fill="#a01500"/><path d="M479.64 11.41L481.02 12.25L480.06 13.24L478.70 12.33z" fill="#a61700"/><path d="M478.92 12.11L480.29 13.00L479.35 14.03L478.02 13.06z" fill="#ac1900"/><path d="M478.23 12.83L479.57 13.78L478.68 14.83L477.37 13.81z" fill="#9a0911"/><path d="M477.57 13.57L478.89 14.58L478.03 15.67L476.75 14.59z" fill="#a91311"/><path d="M476.94 14.35L478.23 15.40L477.41 16.52L476.15 15.40z" fill="#b81d11"/><path d="M476.34 15.14L477.60 16.25L476.81 17.40L475.59 16.24z" fill="#c72711"/><path d="M475.76 15.97L476.99 17.12L476.24 18.31L475.05 17.10z" fill="#d63111"/><path d="M475.22 16.82L476.42 18.02L475.87 18.94L474.70 17.70z" fill="#e53b11"/><path d="M483.91 9.34L485.33 9.98L484.21 10.90L482.80 10.19z" fill="#a32f00"/><path d="M483.06 9.98L484.47 10.67L483.39 11.63L481.99 10.86z" fill="#a93100"/><path d="M482.25 10.65L483.65 11.39L482.60 12.38L481.21 11.56z" fill="#af3200"/><path d="M481.46 11.33L482.84 12.14L481.83 13.15L480.46 12.28z" fill="#b53400"/><path d="M480.69 12.05L482.07 12.90L481.08 13.95L479.73 13.02z" fill="#bc3600"/><path d="M479.96 12.78L481.31 13.69L480.37 14.77L479.04 13.79z" fill="#96401f"/><path d="M479.25 13.55L480.59 14.51L479.67 15.61L478.36 14.59z" fill="#833030"/><path d="M478.57 14.34L479.89 15.34L479.01 16.48L477.72 15.41z" fill="#830832"/><path d="M477.92 15.15L479.21 16.20L478.37 17.36L477.10 16.26z" fill="#921132"/><path d="M477.30 15.99L478.57 17.08L477.75 18.28L476.52 17.13z" fill="#a11c32"/><path d="M476.70 16.85L477.94 17.99L477.16 19.21L475.95 18.02z" fill="#b02632"/><path d="M476.13 17.74L477.35 18.92L476.78 19.87L475.58 18.65z" fill="#bf2f32"/><path d="M484.99 9.82L486.39 10.50L485.26 11.47L483.88 10.72z" fill="#b84e00"/><path d="M484.14 10.50L485.53 11.23L484.44 12.24L483.06 11.44z" fill="#be5000"/><path d="M483.31 11.21L484.69 11.99L483.63 13.02L482.27 12.18z" fill="#c45100"/><path d="M482.51 11.94L483.88 12.77L482.86 13.83L481.50 12.94z" fill="#ca5300"/><path d="M481.74 12.70L483.10 13.57L482.11 14.66L480.76 13.72z" fill="#a55d1f"/><path d="M480.99 13.47L482.34 14.40L481.38 15.51L480.05 14.53z" fill="#7f673e"/><path d="M480.27 14.28L481.60 15.24L480.67 16.39L479.36 15.37z" fill="#6d574e"/><path d="M479.57 15.10L480.89 16.11L479.99 17.28L478.70 16.22z" fill="#6d2f51"/><path d="M478.90 15.95L480.21 17.00L479.34 18.20L478.06 17.10z" fill="#6d0653"/><path d="M478.26 16.82L479.54 17.91L478.71 19.14L477.45 18.00z" fill="#7c1053"/><path d="M477.64 17.72L478.90 18.84L478.10 20.10L476.87 18.93z" fill="#8b1a53"/><path d="M477.05 18.64L478.29 19.79L477.70 20.77L476.49 19.58z" fill="#9a2453"/><path d="M486.05 10.33L487.42 11.05L486.30 12.07L484.93 11.29z" fill="#cd6d00"/><path d="M485.20 11.06L486.56 11.82L485.47 12.87L484.11 12.04z" fill="#d36e00"/><path d="M484.37 11.80L485.73 12.61L484.66 13.69L483.31 12.82z" fill="#d97000"/><path d="M483.56 12.57L484.92 13.43L483.88 14.52L482.53 13.61z" fill="#b47a1f"/><path d="M482.78 13.36L484.13 14.26L483.12 15.38L481.78 14.43z" fill="#8e843e"/><path d="M482.02 14.17L483.36 15.11L482.39 16.26L481.06 15.28z" fill="#698e5c"/><path d="M481.28 15.01L482.62 15.98L481.68 17.16L480.36 16.14z" fill="#567f6d"/><path d="M480.58 15.87L481.90 16.88L480.99 18.08L479.68 17.03z" fill="#565670"/><path d="M479.89 16.75L481.20 17.79L480.32 19.02L479.03 17.94z" fill="#562d72"/><path d="M479.23 17.65L480.53 18.72L479.68 19.98L478.41 18.87z" fill="#560475"/><path d="M478.60 18.57L479.88 19.68L479.06 20.96L477.80 19.82z" fill="#650e75"/><path d="M477.99 19.52L479.25 20.65L478.65 21.65L477.41 20.49z" fill="#741875"/><path d="M487.10 10.87L488.44 11.64L487.32 12.69L485.97 11.88z" fill="#e28c00"/><path d="M486.24 11.63L487.58 12.44L486.49 13.52L485.15 12.67z" fill="#e88d00"/><path d="M485.40 12.42L486.75 13.26L485.68 14.37L484.34 13.47z" fill="#c3971f"/><path d="M484.59 13.22L485.94 14.10L484.90 15.23L483.56 14.30z" fill="#9ea13e"/><path d="M483.80 14.04L485.14 14.96L484.14 16.11L482.80 15.15z" fill="#78ab5c"/><path d="M483.04 14.88L484.38 15.83L483.40 17.02L482.07 16.02z" fill="#52b57b"/><path d="M482.30 15.75L483.63 16.73L482.68 17.94L481.36 16.92z" fill="#40a68c"/><path d="M481.58 16.63L482.90 17.64L481.98 18.88L480.67 17.83z" fill="#407d8e"/><path d="M480.89 17.54L482.20 18.58L481.31 19.84L480.01 18.76z" fill="#405491"/><path d="M480.22 18.47L481.52 19.53L480.66 20.81L479.37 19.72z" fill="#402b94"/><path d="M479.57 19.41L480.86 20.50L480.03 21.81L478.75 20.69z" fill="#400296"/><path d="M478.95 20.38L480.22 21.50L479.61 22.51L478.35 21.37z" fill="#4f0c96"/><path d="M488.12 11.45L489.43 12.26L488.32 13.35L487.00 12.49z" fill="#f8aa00"/><path d="M487.26 12.24L488.58 13.08L487.50 14.20L486.17 13.31z" fill="#d2b41f"/><path d="M486.43 13.05L487.75 13.93L486.69 15.07L485.36 14.15z" fill="#acbe3e"/><path d="M485.62 13.88L486.94 14.79L485.91 15.95L484.58 15.01z" fill="#87c85c"/><path d="M484.82 14.73L486.16 15.67L485.15 16.85L483.82 15.88z" fill="#61d27b"/><path d="M484.06 15.60L485.39 16.57L484.41 17.77L483.08 16.78z" fill="#3cdc9a"/><path d="M483.31 16.49L484.64 17.48L483.69 18.71L482.36 17.69z" fill="#29cdab"/><path d="M482.59 17.40L483.91 18.41L482.99 19.67L481.67 18.63z" fill="#29a4ad"/><path d="M481.89 18.33L483.21 19.37L482.31 20.64L481.00 19.58z" fill="#297bb0"/><path d="M481.21 19.28L482.52 20.33L481.65 21.63L480.35 20.55z" fill="#2952b2"/><path d="M480.55 20.25L481.86 21.32L481.01 22.64L479.72 21.55z" fill="#292ab5"/><path d="M479.91 21.23L481.21 22.32L480.59 23.34L479.30 22.24z" fill="#2901b7"/><path d="M489.12 12.06L490.41 12.91L489.31 14.03L488.01 13.14z" fill="#e1c419"/><path d="M488.27 12.88L489.57 13.76L488.49 14.90L487.18 13.98z" fill="#bbce37"/><path d="M487.44 13.71L488.74 14.62L487.69 15.78L486.38 14.84z" fill="#96d856"/><path d="M486.63 14.57L487.94 15.50L486.91 16.68L485.59 15.72z" fill="#70e275"/><path d="M485.84 15.44L487.16 16.40L486.16 17.60L484.83 16.62z" fill="#4bec94"/><path d="M485.07 16.33L486.39 17.31L485.42 18.54L484.09 17.53z" fill="#25f6b3"/><path d="M484.32 17.24L485.65 18.24L484.70 19.49L483.37 18.47z" fill="#1bd2c0"/><path d="M483.59 18.17L484.92 19.19L484.00 20.46L482.67 19.42z" fill="#1ba9c3"/><path d="M482.89 19.12L484.22 20.15L483.32 21.44L481.99 20.39z" fill="#1b80c5"/><path d="M482.20 20.08L483.53 21.13L482.66 22.44L481.34 21.38z" fill="#1b57c8"/><path d="M481.54 21.06L482.86 22.12L482.01 23.45L480.70 22.38z" fill="#1b2fca"/><path d="M480.90 22.06L482.21 23.13L481.59 24.16L480.28 23.08z" fill="#1b06cd"/><path d="M490.10 12.70L491.36 13.59L490.28 14.73L489.00 13.81z" fill="#cad02b"/><path d="M489.26 13.54L490.53 14.46L489.47 15.62L488.18 14.67z" fill="#a5da4a"/><path d="M488.43 14.40L489.72 15.34L488.68 16.52L487.38 15.55z" fill="#80e469"/><path d="M487.63 15.28L488.93 16.23L487.91 17.43L486.60 16.45z" fill="#5aee87"/><path d="M486.84 16.17L488.15 17.14L487.16 18.36L485.84 17.37z" fill="#34f8a6"/><path d="M486.08 17.08L487.40 18.07L486.43 19.30L485.10 18.30z" fill="#20d9be"/><path d="M485.33 18.00L486.66 19.01L485.71 20.26L484.38 19.24z" fill="#16b5cc"/><path d="M484.60 18.94L485.93 19.96L485.01 21.24L483.68 20.21z" fill="#168cce"/><path d="M483.90 19.90L485.23 20.93L484.34 22.23L483.00 21.19z" fill="#1663d1"/><path d="M483.21 20.88L484.55 21.91L483.67 23.23L482.34 22.19z" fill="#163ad3"/><path d="M482.54 21.87L483.88 22.91L483.03 24.25L481.70 23.20z" fill="#1612d6"/><path d="M481.90 22.88L483.23 23.93L482.60 24.95L481.27 23.90z" fill="#1606c1"/><path d="M491.07 13.37L492.30 14.31L491.23 15.47L489.97 14.51z" fill="#b4db3d"/><path d="M490.23 14.23L491.48 15.19L490.44 16.36L489.16 15.39z" fill="#8fe55c"/><path d="M489.42 15.11L490.68 16.08L489.66 17.27L488.37 16.28z" fill="#69ef7b"/><path d="M488.62 16.00L489.90 16.98L488.90 18.19L487.60 17.19z" fill="#44f99a"/><path d="M487.84 16.91L489.14 17.90L488.16 19.13L486.84 18.12z" fill="#30dab2"/><path d="M487.08 17.83L488.39 18.83L487.44 20.08L486.11 19.06z" fill="#1bbcca"/><path d="M486.34 18.76L487.66 19.78L486.73 21.04L485.39 20.02z" fill="#1298d7"/><path d="M485.62 19.72L486.95 20.73L486.04 22.01L484.69 20.99z" fill="#126fda"/><path d="M484.91 20.68L486.25 21.71L485.36 23.00L484.01 21.98z" fill="#1246dc"/><path d="M484.23 21.67L485.57 22.69L484.70 24.01L483.35 22.98z" fill="#121ddf"/><path d="M483.56 22.66L484.91 23.69L484.06 25.02L482.71 24.00z" fill="#1212ca"/><path d="M482.91 23.68L484.26 24.70L483.64 25.73L482.28 24.71z" fill="#1206b5"/><path d="M492.00 14.08L493.21 15.06L492.17 16.23L490.93 15.23z" fill="#9ee750"/><path d="M491.19 14.95L492.41 15.95L491.39 17.13L490.13 16.12z" fill="#78f16e"/><path d="M490.38 15.84L491.63 16.84L490.63 18.04L489.35 17.03z" fill="#53fb8d"/><path d="M489.60 16.74L490.87 17.75L489.89 18.97L488.59 17.95z" fill="#3edca5"/><path d="M488.83 17.66L490.12 18.67L489.16 19.90L487.85 18.89z" fill="#2abdbe"/><path d="M488.08 18.59L489.39 19.61L488.44 20.85L487.12 19.83z" fill="#169ed6"/><path d="M487.35 19.53L488.67 20.55L487.75 21.81L486.41 20.79z" fill="#0c7ae3"/><path d="M486.63 20.49L487.96 21.51L487.06 22.79L485.71 21.77z" fill="#0c52e6"/><path d="M485.93 21.46L487.28 22.48L486.40 23.77L485.04 22.76z" fill="#0c29e8"/><path d="M485.25 22.45L486.61 23.46L485.75 24.77L484.38 23.76z" fill="#0c1dd3"/><path d="M484.58 23.45L485.95 24.46L485.11 25.78L483.74 24.78z" fill="#0c12be"/><path d="M483.94 24.46L485.31 25.46L484.69 26.48L483.31 25.49z" fill="#0c06a9"/><path d="M492.92 14.82L494.10 15.84L493.09 17.01L491.87 15.98z" fill="#87f262"/><path d="M492.12 15.70L493.33 16.73L492.33 17.92L491.09 16.88z" fill="#62fc81"/><path d="M491.34 16.60L492.57 17.63L491.59 18.83L490.33 17.80z" fill="#4ede99"/><path d="M490.57 17.51L491.82 18.54L490.86 19.75L489.58 18.72z" fill="#3abfb1"/><path d="M489.81 18.43L491.09 19.46L490.15 20.69L488.84 19.66z" fill="#26a0c9"/><path d="M489.07 19.36L490.37 20.39L489.45 21.63L488.13 20.61z" fill="#1181e1"/><path d="M488.35 20.31L489.67 21.33L488.77 22.59L487.43 21.57z" fill="#085def"/><path d="M487.64 21.27L488.98 22.29L488.10 23.56L486.74 22.54z" fill="#0834f1"/><path d="M486.95 22.24L488.31 23.25L487.44 24.53L486.07 23.53z" fill="#0829dc"/><path d="M486.28 23.22L487.65 24.22L486.80 25.52L485.42 24.53z" fill="#081dc7"/><path d="M485.62 24.22L487.00 25.21L486.18 26.52L484.78 25.54z" fill="#0812b2"/><path d="M484.98 25.22L486.37 26.21L485.76 27.21L484.35 26.25z" fill="#08069d"/><path d="M493.82 15.59L494.70 16.40L493.71 17.57L492.80 16.76z" fill="#70fe74"/><path d="M493.04 16.48L493.94 17.29L492.97 18.47L492.04 17.67z" fill="#5cdf8c"/><path d="M492.27 17.38L493.20 18.19L492.24 19.38L491.29 18.58z" fill="#48c1a5"/><path d="M491.52 18.29L492.47 19.09L491.53 20.30L490.56 19.50z" fill="#35a2bd"/><path d="M490.78 19.21L491.75 20.01L490.83 21.23L489.84 20.44z" fill="#2183d5"/><path d="M490.06 20.14L491.05 20.94L490.14 22.17L489.13 21.39z" fill="#0c64ed"/><path d="M489.35 21.09L490.36 21.87L489.47 23.12L488.45 22.35z" fill="#0340fa"/><path d="M488.66 22.04L489.68 22.82L488.81 24.08L487.77 23.31z" fill="#0334e5"/><path d="M487.98 23.01L489.02 23.78L488.17 25.05L487.11 24.30z" fill="#0329d0"/><path d="M487.32 23.99L488.37 24.74L487.53 26.03L486.47 25.29z" fill="#031dbb"/><path d="M486.67 24.97L487.73 25.72L486.92 27.02L485.84 26.29z" fill="#0312a6"/><path d="M486.04 25.97L487.11 26.70L486.50 27.70L485.42 26.98z" fill="#030691"/></g><path d="M474.60 36.00h18.2" stroke="#ff00ff" stroke-width="2.3" stroke-dasharray="4.1 2.9"/><text x="498.60" y="24.10" font-size="12.8" letter-spacing="0.58" word-spacing="1.30">Uncertainty</text><text x="569.60" y="24.10" font-size="12.8" letter-spacing="0.00" word-spacing="1.30">at</text><path d="M586.00 19.55h9.2M586.00 23.90h9.2M590.60 15.90v7.6" stroke="#222" stroke-width="0.62" fill="none"/><text x="595.70" y="24.10" font-size="12.8" letter-spacing="0.50" word-spacing="0.00">3.std</text><text x="533.60" y="39.10" font-size="12.8" letter-spacing="0.60" word-spacing="0.00">Objective</text></svg></body></html>
